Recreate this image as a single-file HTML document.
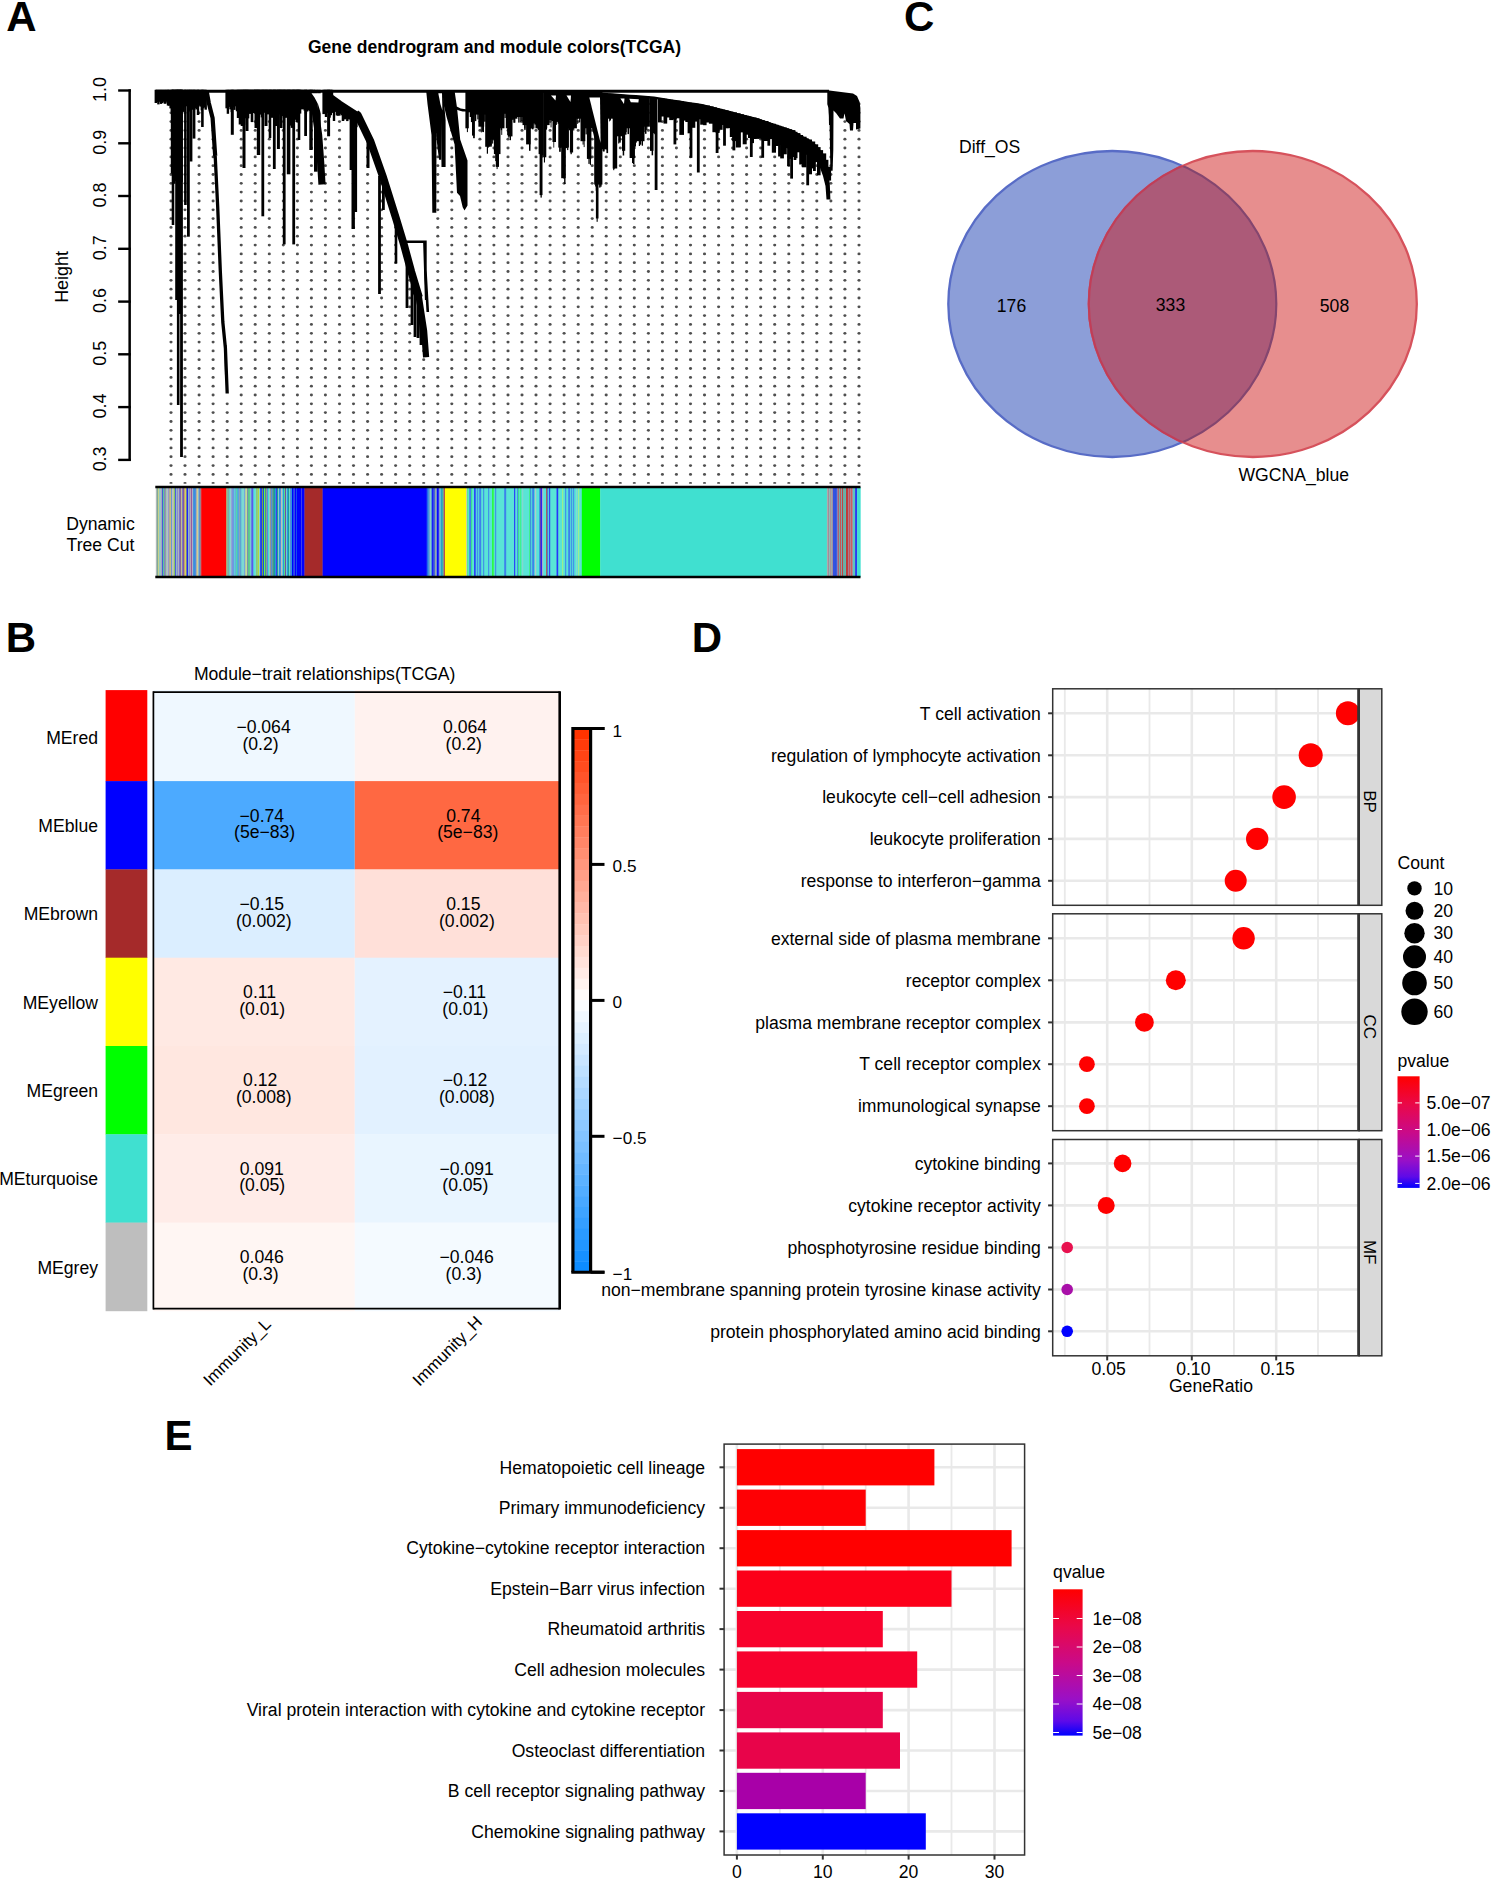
<!DOCTYPE html>
<html><head><meta charset="utf-8"><title>Figure</title>
<style>
html,body{margin:0;padding:0;background:#fff;}
body{width:1491px;height:1879px;overflow:hidden;}
svg{display:block;font-family:"Liberation Sans",Arial,Helvetica,sans-serif;}
</style></head><body>
<svg width="1491" height="1879" viewBox="0 0 1491 1879">
<rect width="1491" height="1879" fill="#fff"/>
<text x="6.3" y="30.7" font-size="42" text-anchor="start" font-weight="bold" fill="#000">A</text>
<text x="494.5" y="53.0" font-size="17.55" text-anchor="middle" font-weight="bold" fill="#000">Gene dendrogram and module colors(TCGA)</text>
<path d="M129.65 89.3V461.05" stroke="#000" stroke-width="2.5" fill="none"/>
<path d="M130.85 90.5H118.15" stroke="#000" stroke-width="2.4"/>
<text x="106.3" y="89.5" font-size="17.9" text-anchor="middle" transform="rotate(-90 106.3 89.5)" fill="#000">1.0</text>
<path d="M130.85 143.3H118.15" stroke="#000" stroke-width="2.4"/>
<text x="106.3" y="142.3" font-size="17.9" text-anchor="middle" transform="rotate(-90 106.3 142.3)" fill="#000">0.9</text>
<path d="M130.85 196.0H118.15" stroke="#000" stroke-width="2.4"/>
<text x="106.3" y="195.0" font-size="17.9" text-anchor="middle" transform="rotate(-90 106.3 195.0)" fill="#000">0.8</text>
<path d="M130.85 248.8H118.15" stroke="#000" stroke-width="2.4"/>
<text x="106.3" y="247.8" font-size="17.9" text-anchor="middle" transform="rotate(-90 106.3 247.8)" fill="#000">0.7</text>
<path d="M130.85 301.6H118.15" stroke="#000" stroke-width="2.4"/>
<text x="106.3" y="300.6" font-size="17.9" text-anchor="middle" transform="rotate(-90 106.3 300.6)" fill="#000">0.6</text>
<path d="M130.85 354.3H118.15" stroke="#000" stroke-width="2.4"/>
<text x="106.3" y="353.3" font-size="17.9" text-anchor="middle" transform="rotate(-90 106.3 353.3)" fill="#000">0.5</text>
<path d="M130.85 407.1H118.15" stroke="#000" stroke-width="2.4"/>
<text x="106.3" y="406.1" font-size="17.9" text-anchor="middle" transform="rotate(-90 106.3 406.1)" fill="#000">0.4</text>
<path d="M130.85 459.9H118.15" stroke="#000" stroke-width="2.4"/>
<text x="106.3" y="458.9" font-size="17.9" text-anchor="middle" transform="rotate(-90 106.3 458.9)" fill="#000">0.3</text>
<text x="67.5" y="277.0" font-size="17.9" text-anchor="middle" transform="rotate(-90 67.5 277.0)" fill="#000">Height</text>
<text x="100.5" y="530.0" font-size="17.6" text-anchor="middle" fill="#000">Dynamic</text>
<text x="100.5" y="551.3" font-size="17.6" text-anchor="middle" fill="#000">Tree Cut</text>
<g fill="#4f4f4f">
<ellipse cx="171.0" cy="482.9" rx="1.6" ry="0.85"/>
<ellipse cx="171.0" cy="474.4" rx="1.55" ry="1.4"/>
<ellipse cx="171.0" cy="465.6" rx="1.55" ry="1.4"/>
<ellipse cx="171.0" cy="456.7" rx="1.55" ry="1.4"/>
<ellipse cx="171.0" cy="447.9" rx="1.55" ry="1.4"/>
<ellipse cx="171.0" cy="439.1" rx="1.55" ry="1.4"/>
<ellipse cx="171.0" cy="430.3" rx="1.55" ry="1.4"/>
<ellipse cx="171.0" cy="421.5" rx="1.55" ry="1.4"/>
<ellipse cx="171.0" cy="412.6" rx="1.55" ry="1.4"/>
<ellipse cx="171.0" cy="403.8" rx="1.55" ry="1.4"/>
<ellipse cx="171.0" cy="395.0" rx="1.55" ry="1.4"/>
<ellipse cx="171.0" cy="386.2" rx="1.55" ry="1.4"/>
<ellipse cx="171.0" cy="377.4" rx="1.55" ry="1.4"/>
<ellipse cx="171.0" cy="368.5" rx="1.55" ry="1.4"/>
<ellipse cx="171.0" cy="359.7" rx="1.55" ry="1.4"/>
<ellipse cx="171.0" cy="350.9" rx="1.55" ry="1.4"/>
<ellipse cx="171.0" cy="342.1" rx="1.55" ry="1.4"/>
<ellipse cx="171.0" cy="333.3" rx="1.55" ry="1.4"/>
<ellipse cx="171.0" cy="324.4" rx="1.55" ry="1.4"/>
<ellipse cx="171.0" cy="315.6" rx="1.55" ry="1.4"/>
<ellipse cx="171.0" cy="306.8" rx="1.55" ry="1.4"/>
<ellipse cx="171.0" cy="298.0" rx="1.55" ry="1.4"/>
<ellipse cx="171.0" cy="289.2" rx="1.55" ry="1.4"/>
<ellipse cx="171.0" cy="280.3" rx="1.55" ry="1.4"/>
<ellipse cx="171.0" cy="271.5" rx="1.55" ry="1.4"/>
<ellipse cx="171.0" cy="262.7" rx="1.55" ry="1.4"/>
<ellipse cx="171.0" cy="253.9" rx="1.55" ry="1.4"/>
<ellipse cx="171.0" cy="245.1" rx="1.55" ry="1.4"/>
<ellipse cx="171.0" cy="236.2" rx="1.55" ry="1.4"/>
<ellipse cx="171.0" cy="227.4" rx="1.55" ry="1.4"/>
<ellipse cx="171.0" cy="218.6" rx="1.55" ry="1.4"/>
<ellipse cx="171.0" cy="209.8" rx="1.55" ry="1.4"/>
<ellipse cx="171.0" cy="201.0" rx="1.55" ry="1.4"/>
<ellipse cx="171.0" cy="192.1" rx="1.55" ry="1.4"/>
<ellipse cx="171.0" cy="183.3" rx="1.55" ry="1.4"/>
<ellipse cx="171.0" cy="174.5" rx="1.55" ry="1.4"/>
<ellipse cx="171.0" cy="165.7" rx="1.55" ry="1.4"/>
<ellipse cx="171.0" cy="156.9" rx="1.55" ry="1.4"/>
<ellipse cx="171.0" cy="148.0" rx="1.55" ry="1.4"/>
<ellipse cx="171.0" cy="139.2" rx="1.55" ry="1.4"/>
<ellipse cx="171.0" cy="130.4" rx="1.55" ry="1.4"/>
<ellipse cx="171.0" cy="121.6" rx="1.55" ry="1.4"/>
<ellipse cx="171.0" cy="112.8" rx="1.55" ry="1.4"/>
<ellipse cx="171.0" cy="103.9" rx="1.55" ry="1.4"/>
<ellipse cx="185.0" cy="482.9" rx="1.6" ry="0.85"/>
<ellipse cx="185.0" cy="474.4" rx="1.55" ry="1.4"/>
<ellipse cx="185.0" cy="465.6" rx="1.55" ry="1.4"/>
<ellipse cx="185.0" cy="456.7" rx="1.55" ry="1.4"/>
<ellipse cx="185.0" cy="447.9" rx="1.55" ry="1.4"/>
<ellipse cx="185.0" cy="439.1" rx="1.55" ry="1.4"/>
<ellipse cx="185.0" cy="430.3" rx="1.55" ry="1.4"/>
<ellipse cx="185.0" cy="421.5" rx="1.55" ry="1.4"/>
<ellipse cx="185.0" cy="412.6" rx="1.55" ry="1.4"/>
<ellipse cx="185.0" cy="403.8" rx="1.55" ry="1.4"/>
<ellipse cx="185.0" cy="395.0" rx="1.55" ry="1.4"/>
<ellipse cx="185.0" cy="386.2" rx="1.55" ry="1.4"/>
<ellipse cx="185.0" cy="377.4" rx="1.55" ry="1.4"/>
<ellipse cx="185.0" cy="368.5" rx="1.55" ry="1.4"/>
<ellipse cx="185.0" cy="359.7" rx="1.55" ry="1.4"/>
<ellipse cx="185.0" cy="350.9" rx="1.55" ry="1.4"/>
<ellipse cx="185.0" cy="342.1" rx="1.55" ry="1.4"/>
<ellipse cx="185.0" cy="333.3" rx="1.55" ry="1.4"/>
<ellipse cx="185.0" cy="324.4" rx="1.55" ry="1.4"/>
<ellipse cx="185.0" cy="315.6" rx="1.55" ry="1.4"/>
<ellipse cx="185.0" cy="306.8" rx="1.55" ry="1.4"/>
<ellipse cx="185.0" cy="298.0" rx="1.55" ry="1.4"/>
<ellipse cx="185.0" cy="289.2" rx="1.55" ry="1.4"/>
<ellipse cx="185.0" cy="280.3" rx="1.55" ry="1.4"/>
<ellipse cx="185.0" cy="271.5" rx="1.55" ry="1.4"/>
<ellipse cx="185.0" cy="262.7" rx="1.55" ry="1.4"/>
<ellipse cx="185.0" cy="253.9" rx="1.55" ry="1.4"/>
<ellipse cx="185.0" cy="245.1" rx="1.55" ry="1.4"/>
<ellipse cx="185.0" cy="236.2" rx="1.55" ry="1.4"/>
<ellipse cx="185.0" cy="227.4" rx="1.55" ry="1.4"/>
<ellipse cx="185.0" cy="218.6" rx="1.55" ry="1.4"/>
<ellipse cx="185.0" cy="209.8" rx="1.55" ry="1.4"/>
<ellipse cx="185.0" cy="201.0" rx="1.55" ry="1.4"/>
<ellipse cx="185.0" cy="192.1" rx="1.55" ry="1.4"/>
<ellipse cx="185.0" cy="183.3" rx="1.55" ry="1.4"/>
<ellipse cx="185.0" cy="174.5" rx="1.55" ry="1.4"/>
<ellipse cx="185.0" cy="165.7" rx="1.55" ry="1.4"/>
<ellipse cx="185.0" cy="156.9" rx="1.55" ry="1.4"/>
<ellipse cx="185.0" cy="148.0" rx="1.55" ry="1.4"/>
<ellipse cx="185.0" cy="139.2" rx="1.55" ry="1.4"/>
<ellipse cx="185.0" cy="130.4" rx="1.55" ry="1.4"/>
<ellipse cx="185.0" cy="121.6" rx="1.55" ry="1.4"/>
<ellipse cx="185.0" cy="112.8" rx="1.55" ry="1.4"/>
<ellipse cx="185.0" cy="103.9" rx="1.55" ry="1.4"/>
<ellipse cx="199.1" cy="482.9" rx="1.6" ry="0.85"/>
<ellipse cx="199.1" cy="474.4" rx="1.55" ry="1.4"/>
<ellipse cx="199.1" cy="465.6" rx="1.55" ry="1.4"/>
<ellipse cx="199.1" cy="456.7" rx="1.55" ry="1.4"/>
<ellipse cx="199.1" cy="447.9" rx="1.55" ry="1.4"/>
<ellipse cx="199.1" cy="439.1" rx="1.55" ry="1.4"/>
<ellipse cx="199.1" cy="430.3" rx="1.55" ry="1.4"/>
<ellipse cx="199.1" cy="421.5" rx="1.55" ry="1.4"/>
<ellipse cx="199.1" cy="412.6" rx="1.55" ry="1.4"/>
<ellipse cx="199.1" cy="403.8" rx="1.55" ry="1.4"/>
<ellipse cx="199.1" cy="395.0" rx="1.55" ry="1.4"/>
<ellipse cx="199.1" cy="386.2" rx="1.55" ry="1.4"/>
<ellipse cx="199.1" cy="377.4" rx="1.55" ry="1.4"/>
<ellipse cx="199.1" cy="368.5" rx="1.55" ry="1.4"/>
<ellipse cx="199.1" cy="359.7" rx="1.55" ry="1.4"/>
<ellipse cx="199.1" cy="350.9" rx="1.55" ry="1.4"/>
<ellipse cx="199.1" cy="342.1" rx="1.55" ry="1.4"/>
<ellipse cx="199.1" cy="333.3" rx="1.55" ry="1.4"/>
<ellipse cx="199.1" cy="324.4" rx="1.55" ry="1.4"/>
<ellipse cx="199.1" cy="315.6" rx="1.55" ry="1.4"/>
<ellipse cx="199.1" cy="306.8" rx="1.55" ry="1.4"/>
<ellipse cx="199.1" cy="298.0" rx="1.55" ry="1.4"/>
<ellipse cx="199.1" cy="289.2" rx="1.55" ry="1.4"/>
<ellipse cx="199.1" cy="280.3" rx="1.55" ry="1.4"/>
<ellipse cx="199.1" cy="271.5" rx="1.55" ry="1.4"/>
<ellipse cx="199.1" cy="262.7" rx="1.55" ry="1.4"/>
<ellipse cx="199.1" cy="253.9" rx="1.55" ry="1.4"/>
<ellipse cx="199.1" cy="245.1" rx="1.55" ry="1.4"/>
<ellipse cx="199.1" cy="236.2" rx="1.55" ry="1.4"/>
<ellipse cx="199.1" cy="227.4" rx="1.55" ry="1.4"/>
<ellipse cx="199.1" cy="218.6" rx="1.55" ry="1.4"/>
<ellipse cx="199.1" cy="209.8" rx="1.55" ry="1.4"/>
<ellipse cx="199.1" cy="201.0" rx="1.55" ry="1.4"/>
<ellipse cx="199.1" cy="192.1" rx="1.55" ry="1.4"/>
<ellipse cx="199.1" cy="183.3" rx="1.55" ry="1.4"/>
<ellipse cx="199.1" cy="174.5" rx="1.55" ry="1.4"/>
<ellipse cx="199.1" cy="165.7" rx="1.55" ry="1.4"/>
<ellipse cx="199.1" cy="156.9" rx="1.55" ry="1.4"/>
<ellipse cx="199.1" cy="148.0" rx="1.55" ry="1.4"/>
<ellipse cx="199.1" cy="139.2" rx="1.55" ry="1.4"/>
<ellipse cx="199.1" cy="130.4" rx="1.55" ry="1.4"/>
<ellipse cx="199.1" cy="121.6" rx="1.55" ry="1.4"/>
<ellipse cx="199.1" cy="112.8" rx="1.55" ry="1.4"/>
<ellipse cx="199.1" cy="103.9" rx="1.55" ry="1.4"/>
<ellipse cx="213.1" cy="482.9" rx="1.6" ry="0.85"/>
<ellipse cx="213.1" cy="474.4" rx="1.55" ry="1.4"/>
<ellipse cx="213.1" cy="465.6" rx="1.55" ry="1.4"/>
<ellipse cx="213.1" cy="456.7" rx="1.55" ry="1.4"/>
<ellipse cx="213.1" cy="447.9" rx="1.55" ry="1.4"/>
<ellipse cx="213.1" cy="439.1" rx="1.55" ry="1.4"/>
<ellipse cx="213.1" cy="430.3" rx="1.55" ry="1.4"/>
<ellipse cx="213.1" cy="421.5" rx="1.55" ry="1.4"/>
<ellipse cx="213.1" cy="412.6" rx="1.55" ry="1.4"/>
<ellipse cx="213.1" cy="403.8" rx="1.55" ry="1.4"/>
<ellipse cx="213.1" cy="395.0" rx="1.55" ry="1.4"/>
<ellipse cx="213.1" cy="386.2" rx="1.55" ry="1.4"/>
<ellipse cx="213.1" cy="377.4" rx="1.55" ry="1.4"/>
<ellipse cx="213.1" cy="368.5" rx="1.55" ry="1.4"/>
<ellipse cx="213.1" cy="359.7" rx="1.55" ry="1.4"/>
<ellipse cx="213.1" cy="350.9" rx="1.55" ry="1.4"/>
<ellipse cx="213.1" cy="342.1" rx="1.55" ry="1.4"/>
<ellipse cx="213.1" cy="333.3" rx="1.55" ry="1.4"/>
<ellipse cx="213.1" cy="324.4" rx="1.55" ry="1.4"/>
<ellipse cx="213.1" cy="315.6" rx="1.55" ry="1.4"/>
<ellipse cx="213.1" cy="306.8" rx="1.55" ry="1.4"/>
<ellipse cx="213.1" cy="298.0" rx="1.55" ry="1.4"/>
<ellipse cx="213.1" cy="289.2" rx="1.55" ry="1.4"/>
<ellipse cx="213.1" cy="280.3" rx="1.55" ry="1.4"/>
<ellipse cx="213.1" cy="271.5" rx="1.55" ry="1.4"/>
<ellipse cx="213.1" cy="262.7" rx="1.55" ry="1.4"/>
<ellipse cx="213.1" cy="253.9" rx="1.55" ry="1.4"/>
<ellipse cx="213.1" cy="245.1" rx="1.55" ry="1.4"/>
<ellipse cx="213.1" cy="236.2" rx="1.55" ry="1.4"/>
<ellipse cx="213.1" cy="227.4" rx="1.55" ry="1.4"/>
<ellipse cx="213.1" cy="218.6" rx="1.55" ry="1.4"/>
<ellipse cx="213.1" cy="209.8" rx="1.55" ry="1.4"/>
<ellipse cx="213.1" cy="201.0" rx="1.55" ry="1.4"/>
<ellipse cx="213.1" cy="192.1" rx="1.55" ry="1.4"/>
<ellipse cx="213.1" cy="183.3" rx="1.55" ry="1.4"/>
<ellipse cx="213.1" cy="174.5" rx="1.55" ry="1.4"/>
<ellipse cx="213.1" cy="165.7" rx="1.55" ry="1.4"/>
<ellipse cx="213.1" cy="156.9" rx="1.55" ry="1.4"/>
<ellipse cx="213.1" cy="148.0" rx="1.55" ry="1.4"/>
<ellipse cx="213.1" cy="139.2" rx="1.55" ry="1.4"/>
<ellipse cx="213.1" cy="130.4" rx="1.55" ry="1.4"/>
<ellipse cx="213.1" cy="121.6" rx="1.55" ry="1.4"/>
<ellipse cx="213.1" cy="112.8" rx="1.55" ry="1.4"/>
<ellipse cx="213.1" cy="103.9" rx="1.55" ry="1.4"/>
<ellipse cx="227.2" cy="482.9" rx="1.6" ry="0.85"/>
<ellipse cx="227.2" cy="474.4" rx="1.55" ry="1.4"/>
<ellipse cx="227.2" cy="465.6" rx="1.55" ry="1.4"/>
<ellipse cx="227.2" cy="456.7" rx="1.55" ry="1.4"/>
<ellipse cx="227.2" cy="447.9" rx="1.55" ry="1.4"/>
<ellipse cx="227.2" cy="439.1" rx="1.55" ry="1.4"/>
<ellipse cx="227.2" cy="430.3" rx="1.55" ry="1.4"/>
<ellipse cx="227.2" cy="421.5" rx="1.55" ry="1.4"/>
<ellipse cx="227.2" cy="412.6" rx="1.55" ry="1.4"/>
<ellipse cx="227.2" cy="403.8" rx="1.55" ry="1.4"/>
<ellipse cx="241.2" cy="482.9" rx="1.6" ry="0.85"/>
<ellipse cx="241.2" cy="474.4" rx="1.55" ry="1.4"/>
<ellipse cx="241.2" cy="465.6" rx="1.55" ry="1.4"/>
<ellipse cx="241.2" cy="456.7" rx="1.55" ry="1.4"/>
<ellipse cx="241.2" cy="447.9" rx="1.55" ry="1.4"/>
<ellipse cx="241.2" cy="439.1" rx="1.55" ry="1.4"/>
<ellipse cx="241.2" cy="430.3" rx="1.55" ry="1.4"/>
<ellipse cx="241.2" cy="421.5" rx="1.55" ry="1.4"/>
<ellipse cx="241.2" cy="412.6" rx="1.55" ry="1.4"/>
<ellipse cx="241.2" cy="403.8" rx="1.55" ry="1.4"/>
<ellipse cx="241.2" cy="395.0" rx="1.55" ry="1.4"/>
<ellipse cx="241.2" cy="386.2" rx="1.55" ry="1.4"/>
<ellipse cx="241.2" cy="377.4" rx="1.55" ry="1.4"/>
<ellipse cx="241.2" cy="368.5" rx="1.55" ry="1.4"/>
<ellipse cx="241.2" cy="359.7" rx="1.55" ry="1.4"/>
<ellipse cx="241.2" cy="350.9" rx="1.55" ry="1.4"/>
<ellipse cx="241.2" cy="342.1" rx="1.55" ry="1.4"/>
<ellipse cx="241.2" cy="333.3" rx="1.55" ry="1.4"/>
<ellipse cx="241.2" cy="324.4" rx="1.55" ry="1.4"/>
<ellipse cx="241.2" cy="315.6" rx="1.55" ry="1.4"/>
<ellipse cx="241.2" cy="306.8" rx="1.55" ry="1.4"/>
<ellipse cx="241.2" cy="298.0" rx="1.55" ry="1.4"/>
<ellipse cx="241.2" cy="289.2" rx="1.55" ry="1.4"/>
<ellipse cx="241.2" cy="280.3" rx="1.55" ry="1.4"/>
<ellipse cx="241.2" cy="271.5" rx="1.55" ry="1.4"/>
<ellipse cx="241.2" cy="262.7" rx="1.55" ry="1.4"/>
<ellipse cx="241.2" cy="253.9" rx="1.55" ry="1.4"/>
<ellipse cx="241.2" cy="245.1" rx="1.55" ry="1.4"/>
<ellipse cx="241.2" cy="236.2" rx="1.55" ry="1.4"/>
<ellipse cx="241.2" cy="227.4" rx="1.55" ry="1.4"/>
<ellipse cx="241.2" cy="218.6" rx="1.55" ry="1.4"/>
<ellipse cx="241.2" cy="209.8" rx="1.55" ry="1.4"/>
<ellipse cx="241.2" cy="201.0" rx="1.55" ry="1.4"/>
<ellipse cx="241.2" cy="192.1" rx="1.55" ry="1.4"/>
<ellipse cx="241.2" cy="183.3" rx="1.55" ry="1.4"/>
<ellipse cx="241.2" cy="174.5" rx="1.55" ry="1.4"/>
<ellipse cx="241.2" cy="165.7" rx="1.55" ry="1.4"/>
<ellipse cx="241.2" cy="156.9" rx="1.55" ry="1.4"/>
<ellipse cx="241.2" cy="148.0" rx="1.55" ry="1.4"/>
<ellipse cx="241.2" cy="139.2" rx="1.55" ry="1.4"/>
<ellipse cx="241.2" cy="130.4" rx="1.55" ry="1.4"/>
<ellipse cx="241.2" cy="121.6" rx="1.55" ry="1.4"/>
<ellipse cx="241.2" cy="112.8" rx="1.55" ry="1.4"/>
<ellipse cx="241.2" cy="103.9" rx="1.55" ry="1.4"/>
<ellipse cx="255.2" cy="482.9" rx="1.6" ry="0.85"/>
<ellipse cx="255.2" cy="474.4" rx="1.55" ry="1.4"/>
<ellipse cx="255.2" cy="465.6" rx="1.55" ry="1.4"/>
<ellipse cx="255.2" cy="456.7" rx="1.55" ry="1.4"/>
<ellipse cx="255.2" cy="447.9" rx="1.55" ry="1.4"/>
<ellipse cx="255.2" cy="439.1" rx="1.55" ry="1.4"/>
<ellipse cx="255.2" cy="430.3" rx="1.55" ry="1.4"/>
<ellipse cx="255.2" cy="421.5" rx="1.55" ry="1.4"/>
<ellipse cx="255.2" cy="412.6" rx="1.55" ry="1.4"/>
<ellipse cx="255.2" cy="403.8" rx="1.55" ry="1.4"/>
<ellipse cx="255.2" cy="395.0" rx="1.55" ry="1.4"/>
<ellipse cx="255.2" cy="386.2" rx="1.55" ry="1.4"/>
<ellipse cx="255.2" cy="377.4" rx="1.55" ry="1.4"/>
<ellipse cx="255.2" cy="368.5" rx="1.55" ry="1.4"/>
<ellipse cx="255.2" cy="359.7" rx="1.55" ry="1.4"/>
<ellipse cx="255.2" cy="350.9" rx="1.55" ry="1.4"/>
<ellipse cx="255.2" cy="342.1" rx="1.55" ry="1.4"/>
<ellipse cx="255.2" cy="333.3" rx="1.55" ry="1.4"/>
<ellipse cx="255.2" cy="324.4" rx="1.55" ry="1.4"/>
<ellipse cx="255.2" cy="315.6" rx="1.55" ry="1.4"/>
<ellipse cx="255.2" cy="306.8" rx="1.55" ry="1.4"/>
<ellipse cx="255.2" cy="298.0" rx="1.55" ry="1.4"/>
<ellipse cx="255.2" cy="289.2" rx="1.55" ry="1.4"/>
<ellipse cx="255.2" cy="280.3" rx="1.55" ry="1.4"/>
<ellipse cx="255.2" cy="271.5" rx="1.55" ry="1.4"/>
<ellipse cx="255.2" cy="262.7" rx="1.55" ry="1.4"/>
<ellipse cx="255.2" cy="253.9" rx="1.55" ry="1.4"/>
<ellipse cx="255.2" cy="245.1" rx="1.55" ry="1.4"/>
<ellipse cx="255.2" cy="236.2" rx="1.55" ry="1.4"/>
<ellipse cx="255.2" cy="227.4" rx="1.55" ry="1.4"/>
<ellipse cx="255.2" cy="218.6" rx="1.55" ry="1.4"/>
<ellipse cx="255.2" cy="209.8" rx="1.55" ry="1.4"/>
<ellipse cx="255.2" cy="201.0" rx="1.55" ry="1.4"/>
<ellipse cx="255.2" cy="192.1" rx="1.55" ry="1.4"/>
<ellipse cx="255.2" cy="183.3" rx="1.55" ry="1.4"/>
<ellipse cx="255.2" cy="174.5" rx="1.55" ry="1.4"/>
<ellipse cx="255.2" cy="165.7" rx="1.55" ry="1.4"/>
<ellipse cx="255.2" cy="156.9" rx="1.55" ry="1.4"/>
<ellipse cx="255.2" cy="148.0" rx="1.55" ry="1.4"/>
<ellipse cx="255.2" cy="139.2" rx="1.55" ry="1.4"/>
<ellipse cx="255.2" cy="130.4" rx="1.55" ry="1.4"/>
<ellipse cx="255.2" cy="121.6" rx="1.55" ry="1.4"/>
<ellipse cx="255.2" cy="112.8" rx="1.55" ry="1.4"/>
<ellipse cx="255.2" cy="103.9" rx="1.55" ry="1.4"/>
<ellipse cx="269.3" cy="482.9" rx="1.6" ry="0.85"/>
<ellipse cx="269.3" cy="474.4" rx="1.55" ry="1.4"/>
<ellipse cx="269.3" cy="465.6" rx="1.55" ry="1.4"/>
<ellipse cx="269.3" cy="456.7" rx="1.55" ry="1.4"/>
<ellipse cx="269.3" cy="447.9" rx="1.55" ry="1.4"/>
<ellipse cx="269.3" cy="439.1" rx="1.55" ry="1.4"/>
<ellipse cx="269.3" cy="430.3" rx="1.55" ry="1.4"/>
<ellipse cx="269.3" cy="421.5" rx="1.55" ry="1.4"/>
<ellipse cx="269.3" cy="412.6" rx="1.55" ry="1.4"/>
<ellipse cx="269.3" cy="403.8" rx="1.55" ry="1.4"/>
<ellipse cx="269.3" cy="395.0" rx="1.55" ry="1.4"/>
<ellipse cx="269.3" cy="386.2" rx="1.55" ry="1.4"/>
<ellipse cx="269.3" cy="377.4" rx="1.55" ry="1.4"/>
<ellipse cx="269.3" cy="368.5" rx="1.55" ry="1.4"/>
<ellipse cx="269.3" cy="359.7" rx="1.55" ry="1.4"/>
<ellipse cx="269.3" cy="350.9" rx="1.55" ry="1.4"/>
<ellipse cx="269.3" cy="342.1" rx="1.55" ry="1.4"/>
<ellipse cx="269.3" cy="333.3" rx="1.55" ry="1.4"/>
<ellipse cx="269.3" cy="324.4" rx="1.55" ry="1.4"/>
<ellipse cx="269.3" cy="315.6" rx="1.55" ry="1.4"/>
<ellipse cx="269.3" cy="306.8" rx="1.55" ry="1.4"/>
<ellipse cx="269.3" cy="298.0" rx="1.55" ry="1.4"/>
<ellipse cx="269.3" cy="289.2" rx="1.55" ry="1.4"/>
<ellipse cx="269.3" cy="280.3" rx="1.55" ry="1.4"/>
<ellipse cx="269.3" cy="271.5" rx="1.55" ry="1.4"/>
<ellipse cx="269.3" cy="262.7" rx="1.55" ry="1.4"/>
<ellipse cx="269.3" cy="253.9" rx="1.55" ry="1.4"/>
<ellipse cx="269.3" cy="245.1" rx="1.55" ry="1.4"/>
<ellipse cx="269.3" cy="236.2" rx="1.55" ry="1.4"/>
<ellipse cx="269.3" cy="227.4" rx="1.55" ry="1.4"/>
<ellipse cx="269.3" cy="218.6" rx="1.55" ry="1.4"/>
<ellipse cx="269.3" cy="209.8" rx="1.55" ry="1.4"/>
<ellipse cx="269.3" cy="201.0" rx="1.55" ry="1.4"/>
<ellipse cx="269.3" cy="192.1" rx="1.55" ry="1.4"/>
<ellipse cx="269.3" cy="183.3" rx="1.55" ry="1.4"/>
<ellipse cx="269.3" cy="174.5" rx="1.55" ry="1.4"/>
<ellipse cx="269.3" cy="165.7" rx="1.55" ry="1.4"/>
<ellipse cx="269.3" cy="156.9" rx="1.55" ry="1.4"/>
<ellipse cx="269.3" cy="148.0" rx="1.55" ry="1.4"/>
<ellipse cx="269.3" cy="139.2" rx="1.55" ry="1.4"/>
<ellipse cx="269.3" cy="130.4" rx="1.55" ry="1.4"/>
<ellipse cx="269.3" cy="121.6" rx="1.55" ry="1.4"/>
<ellipse cx="269.3" cy="112.8" rx="1.55" ry="1.4"/>
<ellipse cx="269.3" cy="103.9" rx="1.55" ry="1.4"/>
<ellipse cx="283.3" cy="482.9" rx="1.6" ry="0.85"/>
<ellipse cx="283.3" cy="474.4" rx="1.55" ry="1.4"/>
<ellipse cx="283.3" cy="465.6" rx="1.55" ry="1.4"/>
<ellipse cx="283.3" cy="456.7" rx="1.55" ry="1.4"/>
<ellipse cx="283.3" cy="447.9" rx="1.55" ry="1.4"/>
<ellipse cx="283.3" cy="439.1" rx="1.55" ry="1.4"/>
<ellipse cx="283.3" cy="430.3" rx="1.55" ry="1.4"/>
<ellipse cx="283.3" cy="421.5" rx="1.55" ry="1.4"/>
<ellipse cx="283.3" cy="412.6" rx="1.55" ry="1.4"/>
<ellipse cx="283.3" cy="403.8" rx="1.55" ry="1.4"/>
<ellipse cx="283.3" cy="395.0" rx="1.55" ry="1.4"/>
<ellipse cx="283.3" cy="386.2" rx="1.55" ry="1.4"/>
<ellipse cx="283.3" cy="377.4" rx="1.55" ry="1.4"/>
<ellipse cx="283.3" cy="368.5" rx="1.55" ry="1.4"/>
<ellipse cx="283.3" cy="359.7" rx="1.55" ry="1.4"/>
<ellipse cx="283.3" cy="350.9" rx="1.55" ry="1.4"/>
<ellipse cx="283.3" cy="342.1" rx="1.55" ry="1.4"/>
<ellipse cx="283.3" cy="333.3" rx="1.55" ry="1.4"/>
<ellipse cx="283.3" cy="324.4" rx="1.55" ry="1.4"/>
<ellipse cx="283.3" cy="315.6" rx="1.55" ry="1.4"/>
<ellipse cx="283.3" cy="306.8" rx="1.55" ry="1.4"/>
<ellipse cx="283.3" cy="298.0" rx="1.55" ry="1.4"/>
<ellipse cx="283.3" cy="289.2" rx="1.55" ry="1.4"/>
<ellipse cx="283.3" cy="280.3" rx="1.55" ry="1.4"/>
<ellipse cx="283.3" cy="271.5" rx="1.55" ry="1.4"/>
<ellipse cx="283.3" cy="262.7" rx="1.55" ry="1.4"/>
<ellipse cx="283.3" cy="253.9" rx="1.55" ry="1.4"/>
<ellipse cx="283.3" cy="245.1" rx="1.55" ry="1.4"/>
<ellipse cx="283.3" cy="236.2" rx="1.55" ry="1.4"/>
<ellipse cx="283.3" cy="227.4" rx="1.55" ry="1.4"/>
<ellipse cx="283.3" cy="218.6" rx="1.55" ry="1.4"/>
<ellipse cx="283.3" cy="209.8" rx="1.55" ry="1.4"/>
<ellipse cx="283.3" cy="201.0" rx="1.55" ry="1.4"/>
<ellipse cx="283.3" cy="192.1" rx="1.55" ry="1.4"/>
<ellipse cx="283.3" cy="183.3" rx="1.55" ry="1.4"/>
<ellipse cx="283.3" cy="174.5" rx="1.55" ry="1.4"/>
<ellipse cx="283.3" cy="165.7" rx="1.55" ry="1.4"/>
<ellipse cx="283.3" cy="156.9" rx="1.55" ry="1.4"/>
<ellipse cx="283.3" cy="148.0" rx="1.55" ry="1.4"/>
<ellipse cx="283.3" cy="139.2" rx="1.55" ry="1.4"/>
<ellipse cx="283.3" cy="130.4" rx="1.55" ry="1.4"/>
<ellipse cx="283.3" cy="121.6" rx="1.55" ry="1.4"/>
<ellipse cx="283.3" cy="112.8" rx="1.55" ry="1.4"/>
<ellipse cx="283.3" cy="103.9" rx="1.55" ry="1.4"/>
<ellipse cx="297.4" cy="482.9" rx="1.6" ry="0.85"/>
<ellipse cx="297.4" cy="474.4" rx="1.55" ry="1.4"/>
<ellipse cx="297.4" cy="465.6" rx="1.55" ry="1.4"/>
<ellipse cx="297.4" cy="456.7" rx="1.55" ry="1.4"/>
<ellipse cx="297.4" cy="447.9" rx="1.55" ry="1.4"/>
<ellipse cx="297.4" cy="439.1" rx="1.55" ry="1.4"/>
<ellipse cx="297.4" cy="430.3" rx="1.55" ry="1.4"/>
<ellipse cx="297.4" cy="421.5" rx="1.55" ry="1.4"/>
<ellipse cx="297.4" cy="412.6" rx="1.55" ry="1.4"/>
<ellipse cx="297.4" cy="403.8" rx="1.55" ry="1.4"/>
<ellipse cx="297.4" cy="395.0" rx="1.55" ry="1.4"/>
<ellipse cx="297.4" cy="386.2" rx="1.55" ry="1.4"/>
<ellipse cx="297.4" cy="377.4" rx="1.55" ry="1.4"/>
<ellipse cx="297.4" cy="368.5" rx="1.55" ry="1.4"/>
<ellipse cx="297.4" cy="359.7" rx="1.55" ry="1.4"/>
<ellipse cx="297.4" cy="350.9" rx="1.55" ry="1.4"/>
<ellipse cx="297.4" cy="342.1" rx="1.55" ry="1.4"/>
<ellipse cx="297.4" cy="333.3" rx="1.55" ry="1.4"/>
<ellipse cx="297.4" cy="324.4" rx="1.55" ry="1.4"/>
<ellipse cx="297.4" cy="315.6" rx="1.55" ry="1.4"/>
<ellipse cx="297.4" cy="306.8" rx="1.55" ry="1.4"/>
<ellipse cx="297.4" cy="298.0" rx="1.55" ry="1.4"/>
<ellipse cx="297.4" cy="289.2" rx="1.55" ry="1.4"/>
<ellipse cx="297.4" cy="280.3" rx="1.55" ry="1.4"/>
<ellipse cx="297.4" cy="271.5" rx="1.55" ry="1.4"/>
<ellipse cx="297.4" cy="262.7" rx="1.55" ry="1.4"/>
<ellipse cx="297.4" cy="253.9" rx="1.55" ry="1.4"/>
<ellipse cx="297.4" cy="245.1" rx="1.55" ry="1.4"/>
<ellipse cx="297.4" cy="236.2" rx="1.55" ry="1.4"/>
<ellipse cx="297.4" cy="227.4" rx="1.55" ry="1.4"/>
<ellipse cx="297.4" cy="218.6" rx="1.55" ry="1.4"/>
<ellipse cx="297.4" cy="209.8" rx="1.55" ry="1.4"/>
<ellipse cx="297.4" cy="201.0" rx="1.55" ry="1.4"/>
<ellipse cx="297.4" cy="192.1" rx="1.55" ry="1.4"/>
<ellipse cx="297.4" cy="183.3" rx="1.55" ry="1.4"/>
<ellipse cx="297.4" cy="174.5" rx="1.55" ry="1.4"/>
<ellipse cx="297.4" cy="165.7" rx="1.55" ry="1.4"/>
<ellipse cx="297.4" cy="156.9" rx="1.55" ry="1.4"/>
<ellipse cx="297.4" cy="148.0" rx="1.55" ry="1.4"/>
<ellipse cx="297.4" cy="139.2" rx="1.55" ry="1.4"/>
<ellipse cx="297.4" cy="130.4" rx="1.55" ry="1.4"/>
<ellipse cx="297.4" cy="121.6" rx="1.55" ry="1.4"/>
<ellipse cx="297.4" cy="112.8" rx="1.55" ry="1.4"/>
<ellipse cx="297.4" cy="103.9" rx="1.55" ry="1.4"/>
<ellipse cx="311.4" cy="482.9" rx="1.6" ry="0.85"/>
<ellipse cx="311.4" cy="474.4" rx="1.55" ry="1.4"/>
<ellipse cx="311.4" cy="465.6" rx="1.55" ry="1.4"/>
<ellipse cx="311.4" cy="456.7" rx="1.55" ry="1.4"/>
<ellipse cx="311.4" cy="447.9" rx="1.55" ry="1.4"/>
<ellipse cx="311.4" cy="439.1" rx="1.55" ry="1.4"/>
<ellipse cx="311.4" cy="430.3" rx="1.55" ry="1.4"/>
<ellipse cx="311.4" cy="421.5" rx="1.55" ry="1.4"/>
<ellipse cx="311.4" cy="412.6" rx="1.55" ry="1.4"/>
<ellipse cx="311.4" cy="403.8" rx="1.55" ry="1.4"/>
<ellipse cx="311.4" cy="395.0" rx="1.55" ry="1.4"/>
<ellipse cx="311.4" cy="386.2" rx="1.55" ry="1.4"/>
<ellipse cx="311.4" cy="377.4" rx="1.55" ry="1.4"/>
<ellipse cx="311.4" cy="368.5" rx="1.55" ry="1.4"/>
<ellipse cx="311.4" cy="359.7" rx="1.55" ry="1.4"/>
<ellipse cx="311.4" cy="350.9" rx="1.55" ry="1.4"/>
<ellipse cx="311.4" cy="342.1" rx="1.55" ry="1.4"/>
<ellipse cx="311.4" cy="333.3" rx="1.55" ry="1.4"/>
<ellipse cx="311.4" cy="324.4" rx="1.55" ry="1.4"/>
<ellipse cx="311.4" cy="315.6" rx="1.55" ry="1.4"/>
<ellipse cx="311.4" cy="306.8" rx="1.55" ry="1.4"/>
<ellipse cx="311.4" cy="298.0" rx="1.55" ry="1.4"/>
<ellipse cx="311.4" cy="289.2" rx="1.55" ry="1.4"/>
<ellipse cx="311.4" cy="280.3" rx="1.55" ry="1.4"/>
<ellipse cx="311.4" cy="271.5" rx="1.55" ry="1.4"/>
<ellipse cx="311.4" cy="262.7" rx="1.55" ry="1.4"/>
<ellipse cx="311.4" cy="253.9" rx="1.55" ry="1.4"/>
<ellipse cx="311.4" cy="245.1" rx="1.55" ry="1.4"/>
<ellipse cx="311.4" cy="236.2" rx="1.55" ry="1.4"/>
<ellipse cx="311.4" cy="227.4" rx="1.55" ry="1.4"/>
<ellipse cx="311.4" cy="218.6" rx="1.55" ry="1.4"/>
<ellipse cx="311.4" cy="209.8" rx="1.55" ry="1.4"/>
<ellipse cx="311.4" cy="201.0" rx="1.55" ry="1.4"/>
<ellipse cx="311.4" cy="192.1" rx="1.55" ry="1.4"/>
<ellipse cx="311.4" cy="183.3" rx="1.55" ry="1.4"/>
<ellipse cx="311.4" cy="174.5" rx="1.55" ry="1.4"/>
<ellipse cx="311.4" cy="165.7" rx="1.55" ry="1.4"/>
<ellipse cx="311.4" cy="156.9" rx="1.55" ry="1.4"/>
<ellipse cx="311.4" cy="148.0" rx="1.55" ry="1.4"/>
<ellipse cx="311.4" cy="139.2" rx="1.55" ry="1.4"/>
<ellipse cx="311.4" cy="130.4" rx="1.55" ry="1.4"/>
<ellipse cx="311.4" cy="121.6" rx="1.55" ry="1.4"/>
<ellipse cx="311.4" cy="112.8" rx="1.55" ry="1.4"/>
<ellipse cx="311.4" cy="103.9" rx="1.55" ry="1.4"/>
<ellipse cx="325.4" cy="482.9" rx="1.6" ry="0.85"/>
<ellipse cx="325.4" cy="474.4" rx="1.55" ry="1.4"/>
<ellipse cx="325.4" cy="465.6" rx="1.55" ry="1.4"/>
<ellipse cx="325.4" cy="456.7" rx="1.55" ry="1.4"/>
<ellipse cx="325.4" cy="447.9" rx="1.55" ry="1.4"/>
<ellipse cx="325.4" cy="439.1" rx="1.55" ry="1.4"/>
<ellipse cx="325.4" cy="430.3" rx="1.55" ry="1.4"/>
<ellipse cx="325.4" cy="421.5" rx="1.55" ry="1.4"/>
<ellipse cx="325.4" cy="412.6" rx="1.55" ry="1.4"/>
<ellipse cx="325.4" cy="403.8" rx="1.55" ry="1.4"/>
<ellipse cx="325.4" cy="395.0" rx="1.55" ry="1.4"/>
<ellipse cx="325.4" cy="386.2" rx="1.55" ry="1.4"/>
<ellipse cx="325.4" cy="377.4" rx="1.55" ry="1.4"/>
<ellipse cx="325.4" cy="368.5" rx="1.55" ry="1.4"/>
<ellipse cx="325.4" cy="359.7" rx="1.55" ry="1.4"/>
<ellipse cx="325.4" cy="350.9" rx="1.55" ry="1.4"/>
<ellipse cx="325.4" cy="342.1" rx="1.55" ry="1.4"/>
<ellipse cx="325.4" cy="333.3" rx="1.55" ry="1.4"/>
<ellipse cx="325.4" cy="324.4" rx="1.55" ry="1.4"/>
<ellipse cx="325.4" cy="315.6" rx="1.55" ry="1.4"/>
<ellipse cx="325.4" cy="306.8" rx="1.55" ry="1.4"/>
<ellipse cx="325.4" cy="298.0" rx="1.55" ry="1.4"/>
<ellipse cx="325.4" cy="289.2" rx="1.55" ry="1.4"/>
<ellipse cx="325.4" cy="280.3" rx="1.55" ry="1.4"/>
<ellipse cx="325.4" cy="271.5" rx="1.55" ry="1.4"/>
<ellipse cx="325.4" cy="262.7" rx="1.55" ry="1.4"/>
<ellipse cx="325.4" cy="253.9" rx="1.55" ry="1.4"/>
<ellipse cx="325.4" cy="245.1" rx="1.55" ry="1.4"/>
<ellipse cx="325.4" cy="236.2" rx="1.55" ry="1.4"/>
<ellipse cx="325.4" cy="227.4" rx="1.55" ry="1.4"/>
<ellipse cx="325.4" cy="218.6" rx="1.55" ry="1.4"/>
<ellipse cx="325.4" cy="209.8" rx="1.55" ry="1.4"/>
<ellipse cx="325.4" cy="201.0" rx="1.55" ry="1.4"/>
<ellipse cx="325.4" cy="192.1" rx="1.55" ry="1.4"/>
<ellipse cx="325.4" cy="183.3" rx="1.55" ry="1.4"/>
<ellipse cx="325.4" cy="174.5" rx="1.55" ry="1.4"/>
<ellipse cx="325.4" cy="165.7" rx="1.55" ry="1.4"/>
<ellipse cx="325.4" cy="156.9" rx="1.55" ry="1.4"/>
<ellipse cx="325.4" cy="148.0" rx="1.55" ry="1.4"/>
<ellipse cx="325.4" cy="139.2" rx="1.55" ry="1.4"/>
<ellipse cx="325.4" cy="130.4" rx="1.55" ry="1.4"/>
<ellipse cx="325.4" cy="121.6" rx="1.55" ry="1.4"/>
<ellipse cx="325.4" cy="112.8" rx="1.55" ry="1.4"/>
<ellipse cx="325.4" cy="103.9" rx="1.55" ry="1.4"/>
<ellipse cx="339.5" cy="482.9" rx="1.6" ry="0.85"/>
<ellipse cx="339.5" cy="474.4" rx="1.55" ry="1.4"/>
<ellipse cx="339.5" cy="465.6" rx="1.55" ry="1.4"/>
<ellipse cx="339.5" cy="456.7" rx="1.55" ry="1.4"/>
<ellipse cx="339.5" cy="447.9" rx="1.55" ry="1.4"/>
<ellipse cx="339.5" cy="439.1" rx="1.55" ry="1.4"/>
<ellipse cx="339.5" cy="430.3" rx="1.55" ry="1.4"/>
<ellipse cx="339.5" cy="421.5" rx="1.55" ry="1.4"/>
<ellipse cx="339.5" cy="412.6" rx="1.55" ry="1.4"/>
<ellipse cx="339.5" cy="403.8" rx="1.55" ry="1.4"/>
<ellipse cx="339.5" cy="395.0" rx="1.55" ry="1.4"/>
<ellipse cx="339.5" cy="386.2" rx="1.55" ry="1.4"/>
<ellipse cx="339.5" cy="377.4" rx="1.55" ry="1.4"/>
<ellipse cx="339.5" cy="368.5" rx="1.55" ry="1.4"/>
<ellipse cx="339.5" cy="359.7" rx="1.55" ry="1.4"/>
<ellipse cx="339.5" cy="350.9" rx="1.55" ry="1.4"/>
<ellipse cx="339.5" cy="342.1" rx="1.55" ry="1.4"/>
<ellipse cx="339.5" cy="333.3" rx="1.55" ry="1.4"/>
<ellipse cx="339.5" cy="324.4" rx="1.55" ry="1.4"/>
<ellipse cx="339.5" cy="315.6" rx="1.55" ry="1.4"/>
<ellipse cx="339.5" cy="306.8" rx="1.55" ry="1.4"/>
<ellipse cx="339.5" cy="298.0" rx="1.55" ry="1.4"/>
<ellipse cx="339.5" cy="289.2" rx="1.55" ry="1.4"/>
<ellipse cx="339.5" cy="280.3" rx="1.55" ry="1.4"/>
<ellipse cx="339.5" cy="271.5" rx="1.55" ry="1.4"/>
<ellipse cx="339.5" cy="262.7" rx="1.55" ry="1.4"/>
<ellipse cx="339.5" cy="253.9" rx="1.55" ry="1.4"/>
<ellipse cx="339.5" cy="245.1" rx="1.55" ry="1.4"/>
<ellipse cx="339.5" cy="236.2" rx="1.55" ry="1.4"/>
<ellipse cx="339.5" cy="227.4" rx="1.55" ry="1.4"/>
<ellipse cx="339.5" cy="218.6" rx="1.55" ry="1.4"/>
<ellipse cx="339.5" cy="209.8" rx="1.55" ry="1.4"/>
<ellipse cx="339.5" cy="201.0" rx="1.55" ry="1.4"/>
<ellipse cx="339.5" cy="192.1" rx="1.55" ry="1.4"/>
<ellipse cx="339.5" cy="183.3" rx="1.55" ry="1.4"/>
<ellipse cx="339.5" cy="174.5" rx="1.55" ry="1.4"/>
<ellipse cx="339.5" cy="165.7" rx="1.55" ry="1.4"/>
<ellipse cx="339.5" cy="156.9" rx="1.55" ry="1.4"/>
<ellipse cx="339.5" cy="148.0" rx="1.55" ry="1.4"/>
<ellipse cx="339.5" cy="139.2" rx="1.55" ry="1.4"/>
<ellipse cx="339.5" cy="130.4" rx="1.55" ry="1.4"/>
<ellipse cx="339.5" cy="121.6" rx="1.55" ry="1.4"/>
<ellipse cx="339.5" cy="112.8" rx="1.55" ry="1.4"/>
<ellipse cx="339.5" cy="103.9" rx="1.55" ry="1.4"/>
<ellipse cx="353.5" cy="482.9" rx="1.6" ry="0.85"/>
<ellipse cx="353.5" cy="474.4" rx="1.55" ry="1.4"/>
<ellipse cx="353.5" cy="465.6" rx="1.55" ry="1.4"/>
<ellipse cx="353.5" cy="456.7" rx="1.55" ry="1.4"/>
<ellipse cx="353.5" cy="447.9" rx="1.55" ry="1.4"/>
<ellipse cx="353.5" cy="439.1" rx="1.55" ry="1.4"/>
<ellipse cx="353.5" cy="430.3" rx="1.55" ry="1.4"/>
<ellipse cx="353.5" cy="421.5" rx="1.55" ry="1.4"/>
<ellipse cx="353.5" cy="412.6" rx="1.55" ry="1.4"/>
<ellipse cx="353.5" cy="403.8" rx="1.55" ry="1.4"/>
<ellipse cx="353.5" cy="395.0" rx="1.55" ry="1.4"/>
<ellipse cx="353.5" cy="386.2" rx="1.55" ry="1.4"/>
<ellipse cx="353.5" cy="377.4" rx="1.55" ry="1.4"/>
<ellipse cx="353.5" cy="368.5" rx="1.55" ry="1.4"/>
<ellipse cx="353.5" cy="359.7" rx="1.55" ry="1.4"/>
<ellipse cx="353.5" cy="350.9" rx="1.55" ry="1.4"/>
<ellipse cx="353.5" cy="342.1" rx="1.55" ry="1.4"/>
<ellipse cx="353.5" cy="333.3" rx="1.55" ry="1.4"/>
<ellipse cx="353.5" cy="324.4" rx="1.55" ry="1.4"/>
<ellipse cx="353.5" cy="315.6" rx="1.55" ry="1.4"/>
<ellipse cx="353.5" cy="306.8" rx="1.55" ry="1.4"/>
<ellipse cx="353.5" cy="298.0" rx="1.55" ry="1.4"/>
<ellipse cx="353.5" cy="289.2" rx="1.55" ry="1.4"/>
<ellipse cx="353.5" cy="280.3" rx="1.55" ry="1.4"/>
<ellipse cx="353.5" cy="271.5" rx="1.55" ry="1.4"/>
<ellipse cx="353.5" cy="262.7" rx="1.55" ry="1.4"/>
<ellipse cx="353.5" cy="253.9" rx="1.55" ry="1.4"/>
<ellipse cx="353.5" cy="245.1" rx="1.55" ry="1.4"/>
<ellipse cx="353.5" cy="236.2" rx="1.55" ry="1.4"/>
<ellipse cx="353.5" cy="227.4" rx="1.55" ry="1.4"/>
<ellipse cx="353.5" cy="218.6" rx="1.55" ry="1.4"/>
<ellipse cx="353.5" cy="209.8" rx="1.55" ry="1.4"/>
<ellipse cx="353.5" cy="201.0" rx="1.55" ry="1.4"/>
<ellipse cx="353.5" cy="192.1" rx="1.55" ry="1.4"/>
<ellipse cx="353.5" cy="183.3" rx="1.55" ry="1.4"/>
<ellipse cx="353.5" cy="174.5" rx="1.55" ry="1.4"/>
<ellipse cx="353.5" cy="165.7" rx="1.55" ry="1.4"/>
<ellipse cx="353.5" cy="156.9" rx="1.55" ry="1.4"/>
<ellipse cx="353.5" cy="148.0" rx="1.55" ry="1.4"/>
<ellipse cx="353.5" cy="139.2" rx="1.55" ry="1.4"/>
<ellipse cx="353.5" cy="130.4" rx="1.55" ry="1.4"/>
<ellipse cx="353.5" cy="121.6" rx="1.55" ry="1.4"/>
<ellipse cx="353.5" cy="112.8" rx="1.55" ry="1.4"/>
<ellipse cx="353.5" cy="103.9" rx="1.55" ry="1.4"/>
<ellipse cx="367.6" cy="482.9" rx="1.6" ry="0.85"/>
<ellipse cx="367.6" cy="474.4" rx="1.55" ry="1.4"/>
<ellipse cx="367.6" cy="465.6" rx="1.55" ry="1.4"/>
<ellipse cx="367.6" cy="456.7" rx="1.55" ry="1.4"/>
<ellipse cx="367.6" cy="447.9" rx="1.55" ry="1.4"/>
<ellipse cx="367.6" cy="439.1" rx="1.55" ry="1.4"/>
<ellipse cx="367.6" cy="430.3" rx="1.55" ry="1.4"/>
<ellipse cx="367.6" cy="421.5" rx="1.55" ry="1.4"/>
<ellipse cx="367.6" cy="412.6" rx="1.55" ry="1.4"/>
<ellipse cx="367.6" cy="403.8" rx="1.55" ry="1.4"/>
<ellipse cx="367.6" cy="395.0" rx="1.55" ry="1.4"/>
<ellipse cx="367.6" cy="386.2" rx="1.55" ry="1.4"/>
<ellipse cx="367.6" cy="377.4" rx="1.55" ry="1.4"/>
<ellipse cx="367.6" cy="368.5" rx="1.55" ry="1.4"/>
<ellipse cx="367.6" cy="359.7" rx="1.55" ry="1.4"/>
<ellipse cx="367.6" cy="350.9" rx="1.55" ry="1.4"/>
<ellipse cx="367.6" cy="342.1" rx="1.55" ry="1.4"/>
<ellipse cx="367.6" cy="333.3" rx="1.55" ry="1.4"/>
<ellipse cx="367.6" cy="324.4" rx="1.55" ry="1.4"/>
<ellipse cx="367.6" cy="315.6" rx="1.55" ry="1.4"/>
<ellipse cx="367.6" cy="306.8" rx="1.55" ry="1.4"/>
<ellipse cx="367.6" cy="298.0" rx="1.55" ry="1.4"/>
<ellipse cx="367.6" cy="289.2" rx="1.55" ry="1.4"/>
<ellipse cx="367.6" cy="280.3" rx="1.55" ry="1.4"/>
<ellipse cx="367.6" cy="271.5" rx="1.55" ry="1.4"/>
<ellipse cx="367.6" cy="262.7" rx="1.55" ry="1.4"/>
<ellipse cx="367.6" cy="253.9" rx="1.55" ry="1.4"/>
<ellipse cx="367.6" cy="245.1" rx="1.55" ry="1.4"/>
<ellipse cx="367.6" cy="236.2" rx="1.55" ry="1.4"/>
<ellipse cx="367.6" cy="227.4" rx="1.55" ry="1.4"/>
<ellipse cx="367.6" cy="218.6" rx="1.55" ry="1.4"/>
<ellipse cx="367.6" cy="209.8" rx="1.55" ry="1.4"/>
<ellipse cx="367.6" cy="201.0" rx="1.55" ry="1.4"/>
<ellipse cx="367.6" cy="192.1" rx="1.55" ry="1.4"/>
<ellipse cx="367.6" cy="183.3" rx="1.55" ry="1.4"/>
<ellipse cx="367.6" cy="174.5" rx="1.55" ry="1.4"/>
<ellipse cx="367.6" cy="165.7" rx="1.55" ry="1.4"/>
<ellipse cx="367.6" cy="156.9" rx="1.55" ry="1.4"/>
<ellipse cx="367.6" cy="148.0" rx="1.55" ry="1.4"/>
<ellipse cx="367.6" cy="139.2" rx="1.55" ry="1.4"/>
<ellipse cx="367.6" cy="130.4" rx="1.55" ry="1.4"/>
<ellipse cx="367.6" cy="121.6" rx="1.55" ry="1.4"/>
<ellipse cx="367.6" cy="112.8" rx="1.55" ry="1.4"/>
<ellipse cx="367.6" cy="103.9" rx="1.55" ry="1.4"/>
<ellipse cx="381.6" cy="482.9" rx="1.6" ry="0.85"/>
<ellipse cx="381.6" cy="474.4" rx="1.55" ry="1.4"/>
<ellipse cx="381.6" cy="465.6" rx="1.55" ry="1.4"/>
<ellipse cx="381.6" cy="456.7" rx="1.55" ry="1.4"/>
<ellipse cx="381.6" cy="447.9" rx="1.55" ry="1.4"/>
<ellipse cx="381.6" cy="439.1" rx="1.55" ry="1.4"/>
<ellipse cx="381.6" cy="430.3" rx="1.55" ry="1.4"/>
<ellipse cx="381.6" cy="421.5" rx="1.55" ry="1.4"/>
<ellipse cx="381.6" cy="412.6" rx="1.55" ry="1.4"/>
<ellipse cx="381.6" cy="403.8" rx="1.55" ry="1.4"/>
<ellipse cx="381.6" cy="395.0" rx="1.55" ry="1.4"/>
<ellipse cx="381.6" cy="386.2" rx="1.55" ry="1.4"/>
<ellipse cx="381.6" cy="377.4" rx="1.55" ry="1.4"/>
<ellipse cx="381.6" cy="368.5" rx="1.55" ry="1.4"/>
<ellipse cx="381.6" cy="359.7" rx="1.55" ry="1.4"/>
<ellipse cx="381.6" cy="350.9" rx="1.55" ry="1.4"/>
<ellipse cx="381.6" cy="342.1" rx="1.55" ry="1.4"/>
<ellipse cx="381.6" cy="333.3" rx="1.55" ry="1.4"/>
<ellipse cx="381.6" cy="324.4" rx="1.55" ry="1.4"/>
<ellipse cx="381.6" cy="315.6" rx="1.55" ry="1.4"/>
<ellipse cx="381.6" cy="306.8" rx="1.55" ry="1.4"/>
<ellipse cx="381.6" cy="298.0" rx="1.55" ry="1.4"/>
<ellipse cx="381.6" cy="289.2" rx="1.55" ry="1.4"/>
<ellipse cx="381.6" cy="280.3" rx="1.55" ry="1.4"/>
<ellipse cx="381.6" cy="271.5" rx="1.55" ry="1.4"/>
<ellipse cx="381.6" cy="262.7" rx="1.55" ry="1.4"/>
<ellipse cx="381.6" cy="253.9" rx="1.55" ry="1.4"/>
<ellipse cx="381.6" cy="245.1" rx="1.55" ry="1.4"/>
<ellipse cx="381.6" cy="236.2" rx="1.55" ry="1.4"/>
<ellipse cx="381.6" cy="227.4" rx="1.55" ry="1.4"/>
<ellipse cx="381.6" cy="218.6" rx="1.55" ry="1.4"/>
<ellipse cx="381.6" cy="209.8" rx="1.55" ry="1.4"/>
<ellipse cx="381.6" cy="201.0" rx="1.55" ry="1.4"/>
<ellipse cx="381.6" cy="192.1" rx="1.55" ry="1.4"/>
<ellipse cx="381.6" cy="183.3" rx="1.55" ry="1.4"/>
<ellipse cx="381.6" cy="174.5" rx="1.55" ry="1.4"/>
<ellipse cx="381.6" cy="165.7" rx="1.55" ry="1.4"/>
<ellipse cx="381.6" cy="156.9" rx="1.55" ry="1.4"/>
<ellipse cx="381.6" cy="148.0" rx="1.55" ry="1.4"/>
<ellipse cx="381.6" cy="139.2" rx="1.55" ry="1.4"/>
<ellipse cx="381.6" cy="130.4" rx="1.55" ry="1.4"/>
<ellipse cx="381.6" cy="121.6" rx="1.55" ry="1.4"/>
<ellipse cx="381.6" cy="112.8" rx="1.55" ry="1.4"/>
<ellipse cx="381.6" cy="103.9" rx="1.55" ry="1.4"/>
<ellipse cx="395.6" cy="482.9" rx="1.6" ry="0.85"/>
<ellipse cx="395.6" cy="474.4" rx="1.55" ry="1.4"/>
<ellipse cx="395.6" cy="465.6" rx="1.55" ry="1.4"/>
<ellipse cx="395.6" cy="456.7" rx="1.55" ry="1.4"/>
<ellipse cx="395.6" cy="447.9" rx="1.55" ry="1.4"/>
<ellipse cx="395.6" cy="439.1" rx="1.55" ry="1.4"/>
<ellipse cx="395.6" cy="430.3" rx="1.55" ry="1.4"/>
<ellipse cx="395.6" cy="421.5" rx="1.55" ry="1.4"/>
<ellipse cx="395.6" cy="412.6" rx="1.55" ry="1.4"/>
<ellipse cx="395.6" cy="403.8" rx="1.55" ry="1.4"/>
<ellipse cx="395.6" cy="395.0" rx="1.55" ry="1.4"/>
<ellipse cx="395.6" cy="386.2" rx="1.55" ry="1.4"/>
<ellipse cx="395.6" cy="377.4" rx="1.55" ry="1.4"/>
<ellipse cx="395.6" cy="368.5" rx="1.55" ry="1.4"/>
<ellipse cx="395.6" cy="359.7" rx="1.55" ry="1.4"/>
<ellipse cx="395.6" cy="350.9" rx="1.55" ry="1.4"/>
<ellipse cx="395.6" cy="342.1" rx="1.55" ry="1.4"/>
<ellipse cx="395.6" cy="333.3" rx="1.55" ry="1.4"/>
<ellipse cx="395.6" cy="324.4" rx="1.55" ry="1.4"/>
<ellipse cx="395.6" cy="315.6" rx="1.55" ry="1.4"/>
<ellipse cx="395.6" cy="306.8" rx="1.55" ry="1.4"/>
<ellipse cx="395.6" cy="298.0" rx="1.55" ry="1.4"/>
<ellipse cx="395.6" cy="289.2" rx="1.55" ry="1.4"/>
<ellipse cx="395.6" cy="280.3" rx="1.55" ry="1.4"/>
<ellipse cx="395.6" cy="271.5" rx="1.55" ry="1.4"/>
<ellipse cx="395.6" cy="262.7" rx="1.55" ry="1.4"/>
<ellipse cx="395.6" cy="253.9" rx="1.55" ry="1.4"/>
<ellipse cx="395.6" cy="245.1" rx="1.55" ry="1.4"/>
<ellipse cx="395.6" cy="236.2" rx="1.55" ry="1.4"/>
<ellipse cx="395.6" cy="227.4" rx="1.55" ry="1.4"/>
<ellipse cx="395.6" cy="218.6" rx="1.55" ry="1.4"/>
<ellipse cx="395.6" cy="209.8" rx="1.55" ry="1.4"/>
<ellipse cx="395.6" cy="201.0" rx="1.55" ry="1.4"/>
<ellipse cx="395.6" cy="192.1" rx="1.55" ry="1.4"/>
<ellipse cx="395.6" cy="183.3" rx="1.55" ry="1.4"/>
<ellipse cx="395.6" cy="174.5" rx="1.55" ry="1.4"/>
<ellipse cx="395.6" cy="165.7" rx="1.55" ry="1.4"/>
<ellipse cx="395.6" cy="156.9" rx="1.55" ry="1.4"/>
<ellipse cx="395.6" cy="148.0" rx="1.55" ry="1.4"/>
<ellipse cx="395.6" cy="139.2" rx="1.55" ry="1.4"/>
<ellipse cx="395.6" cy="130.4" rx="1.55" ry="1.4"/>
<ellipse cx="395.6" cy="121.6" rx="1.55" ry="1.4"/>
<ellipse cx="395.6" cy="112.8" rx="1.55" ry="1.4"/>
<ellipse cx="395.6" cy="103.9" rx="1.55" ry="1.4"/>
<ellipse cx="409.7" cy="482.9" rx="1.6" ry="0.85"/>
<ellipse cx="409.7" cy="474.4" rx="1.55" ry="1.4"/>
<ellipse cx="409.7" cy="465.6" rx="1.55" ry="1.4"/>
<ellipse cx="409.7" cy="456.7" rx="1.55" ry="1.4"/>
<ellipse cx="409.7" cy="447.9" rx="1.55" ry="1.4"/>
<ellipse cx="409.7" cy="439.1" rx="1.55" ry="1.4"/>
<ellipse cx="409.7" cy="430.3" rx="1.55" ry="1.4"/>
<ellipse cx="409.7" cy="421.5" rx="1.55" ry="1.4"/>
<ellipse cx="409.7" cy="412.6" rx="1.55" ry="1.4"/>
<ellipse cx="409.7" cy="403.8" rx="1.55" ry="1.4"/>
<ellipse cx="409.7" cy="395.0" rx="1.55" ry="1.4"/>
<ellipse cx="409.7" cy="386.2" rx="1.55" ry="1.4"/>
<ellipse cx="409.7" cy="377.4" rx="1.55" ry="1.4"/>
<ellipse cx="409.7" cy="368.5" rx="1.55" ry="1.4"/>
<ellipse cx="409.7" cy="359.7" rx="1.55" ry="1.4"/>
<ellipse cx="409.7" cy="350.9" rx="1.55" ry="1.4"/>
<ellipse cx="409.7" cy="342.1" rx="1.55" ry="1.4"/>
<ellipse cx="409.7" cy="333.3" rx="1.55" ry="1.4"/>
<ellipse cx="409.7" cy="324.4" rx="1.55" ry="1.4"/>
<ellipse cx="409.7" cy="315.6" rx="1.55" ry="1.4"/>
<ellipse cx="409.7" cy="306.8" rx="1.55" ry="1.4"/>
<ellipse cx="409.7" cy="298.0" rx="1.55" ry="1.4"/>
<ellipse cx="409.7" cy="289.2" rx="1.55" ry="1.4"/>
<ellipse cx="409.7" cy="280.3" rx="1.55" ry="1.4"/>
<ellipse cx="409.7" cy="271.5" rx="1.55" ry="1.4"/>
<ellipse cx="409.7" cy="262.7" rx="1.55" ry="1.4"/>
<ellipse cx="409.7" cy="253.9" rx="1.55" ry="1.4"/>
<ellipse cx="409.7" cy="245.1" rx="1.55" ry="1.4"/>
<ellipse cx="409.7" cy="236.2" rx="1.55" ry="1.4"/>
<ellipse cx="409.7" cy="227.4" rx="1.55" ry="1.4"/>
<ellipse cx="409.7" cy="218.6" rx="1.55" ry="1.4"/>
<ellipse cx="409.7" cy="209.8" rx="1.55" ry="1.4"/>
<ellipse cx="409.7" cy="201.0" rx="1.55" ry="1.4"/>
<ellipse cx="409.7" cy="192.1" rx="1.55" ry="1.4"/>
<ellipse cx="409.7" cy="183.3" rx="1.55" ry="1.4"/>
<ellipse cx="409.7" cy="174.5" rx="1.55" ry="1.4"/>
<ellipse cx="409.7" cy="165.7" rx="1.55" ry="1.4"/>
<ellipse cx="409.7" cy="156.9" rx="1.55" ry="1.4"/>
<ellipse cx="409.7" cy="148.0" rx="1.55" ry="1.4"/>
<ellipse cx="409.7" cy="139.2" rx="1.55" ry="1.4"/>
<ellipse cx="409.7" cy="130.4" rx="1.55" ry="1.4"/>
<ellipse cx="409.7" cy="121.6" rx="1.55" ry="1.4"/>
<ellipse cx="409.7" cy="112.8" rx="1.55" ry="1.4"/>
<ellipse cx="409.7" cy="103.9" rx="1.55" ry="1.4"/>
<ellipse cx="423.7" cy="482.9" rx="1.6" ry="0.85"/>
<ellipse cx="423.7" cy="474.4" rx="1.55" ry="1.4"/>
<ellipse cx="423.7" cy="465.6" rx="1.55" ry="1.4"/>
<ellipse cx="423.7" cy="456.7" rx="1.55" ry="1.4"/>
<ellipse cx="423.7" cy="447.9" rx="1.55" ry="1.4"/>
<ellipse cx="423.7" cy="439.1" rx="1.55" ry="1.4"/>
<ellipse cx="423.7" cy="430.3" rx="1.55" ry="1.4"/>
<ellipse cx="423.7" cy="421.5" rx="1.55" ry="1.4"/>
<ellipse cx="423.7" cy="412.6" rx="1.55" ry="1.4"/>
<ellipse cx="423.7" cy="403.8" rx="1.55" ry="1.4"/>
<ellipse cx="423.7" cy="395.0" rx="1.55" ry="1.4"/>
<ellipse cx="423.7" cy="386.2" rx="1.55" ry="1.4"/>
<ellipse cx="423.7" cy="377.4" rx="1.55" ry="1.4"/>
<ellipse cx="423.7" cy="368.5" rx="1.55" ry="1.4"/>
<ellipse cx="423.7" cy="359.7" rx="1.55" ry="1.4"/>
<ellipse cx="423.7" cy="350.9" rx="1.55" ry="1.4"/>
<ellipse cx="423.7" cy="342.1" rx="1.55" ry="1.4"/>
<ellipse cx="423.7" cy="333.3" rx="1.55" ry="1.4"/>
<ellipse cx="423.7" cy="324.4" rx="1.55" ry="1.4"/>
<ellipse cx="423.7" cy="315.6" rx="1.55" ry="1.4"/>
<ellipse cx="423.7" cy="306.8" rx="1.55" ry="1.4"/>
<ellipse cx="423.7" cy="298.0" rx="1.55" ry="1.4"/>
<ellipse cx="423.7" cy="289.2" rx="1.55" ry="1.4"/>
<ellipse cx="423.7" cy="280.3" rx="1.55" ry="1.4"/>
<ellipse cx="423.7" cy="271.5" rx="1.55" ry="1.4"/>
<ellipse cx="423.7" cy="262.7" rx="1.55" ry="1.4"/>
<ellipse cx="423.7" cy="253.9" rx="1.55" ry="1.4"/>
<ellipse cx="423.7" cy="245.1" rx="1.55" ry="1.4"/>
<ellipse cx="423.7" cy="236.2" rx="1.55" ry="1.4"/>
<ellipse cx="423.7" cy="227.4" rx="1.55" ry="1.4"/>
<ellipse cx="423.7" cy="218.6" rx="1.55" ry="1.4"/>
<ellipse cx="423.7" cy="209.8" rx="1.55" ry="1.4"/>
<ellipse cx="423.7" cy="201.0" rx="1.55" ry="1.4"/>
<ellipse cx="423.7" cy="192.1" rx="1.55" ry="1.4"/>
<ellipse cx="423.7" cy="183.3" rx="1.55" ry="1.4"/>
<ellipse cx="423.7" cy="174.5" rx="1.55" ry="1.4"/>
<ellipse cx="423.7" cy="165.7" rx="1.55" ry="1.4"/>
<ellipse cx="423.7" cy="156.9" rx="1.55" ry="1.4"/>
<ellipse cx="423.7" cy="148.0" rx="1.55" ry="1.4"/>
<ellipse cx="423.7" cy="139.2" rx="1.55" ry="1.4"/>
<ellipse cx="423.7" cy="130.4" rx="1.55" ry="1.4"/>
<ellipse cx="423.7" cy="121.6" rx="1.55" ry="1.4"/>
<ellipse cx="423.7" cy="112.8" rx="1.55" ry="1.4"/>
<ellipse cx="423.7" cy="103.9" rx="1.55" ry="1.4"/>
<ellipse cx="437.8" cy="482.9" rx="1.6" ry="0.85"/>
<ellipse cx="437.8" cy="474.4" rx="1.55" ry="1.4"/>
<ellipse cx="437.8" cy="465.6" rx="1.55" ry="1.4"/>
<ellipse cx="437.8" cy="456.7" rx="1.55" ry="1.4"/>
<ellipse cx="437.8" cy="447.9" rx="1.55" ry="1.4"/>
<ellipse cx="437.8" cy="439.1" rx="1.55" ry="1.4"/>
<ellipse cx="437.8" cy="430.3" rx="1.55" ry="1.4"/>
<ellipse cx="437.8" cy="421.5" rx="1.55" ry="1.4"/>
<ellipse cx="437.8" cy="412.6" rx="1.55" ry="1.4"/>
<ellipse cx="437.8" cy="403.8" rx="1.55" ry="1.4"/>
<ellipse cx="437.8" cy="395.0" rx="1.55" ry="1.4"/>
<ellipse cx="437.8" cy="386.2" rx="1.55" ry="1.4"/>
<ellipse cx="437.8" cy="377.4" rx="1.55" ry="1.4"/>
<ellipse cx="437.8" cy="368.5" rx="1.55" ry="1.4"/>
<ellipse cx="437.8" cy="359.7" rx="1.55" ry="1.4"/>
<ellipse cx="437.8" cy="350.9" rx="1.55" ry="1.4"/>
<ellipse cx="437.8" cy="342.1" rx="1.55" ry="1.4"/>
<ellipse cx="437.8" cy="333.3" rx="1.55" ry="1.4"/>
<ellipse cx="437.8" cy="324.4" rx="1.55" ry="1.4"/>
<ellipse cx="437.8" cy="315.6" rx="1.55" ry="1.4"/>
<ellipse cx="437.8" cy="306.8" rx="1.55" ry="1.4"/>
<ellipse cx="437.8" cy="298.0" rx="1.55" ry="1.4"/>
<ellipse cx="437.8" cy="289.2" rx="1.55" ry="1.4"/>
<ellipse cx="437.8" cy="280.3" rx="1.55" ry="1.4"/>
<ellipse cx="437.8" cy="271.5" rx="1.55" ry="1.4"/>
<ellipse cx="437.8" cy="262.7" rx="1.55" ry="1.4"/>
<ellipse cx="437.8" cy="253.9" rx="1.55" ry="1.4"/>
<ellipse cx="437.8" cy="245.1" rx="1.55" ry="1.4"/>
<ellipse cx="437.8" cy="236.2" rx="1.55" ry="1.4"/>
<ellipse cx="437.8" cy="227.4" rx="1.55" ry="1.4"/>
<ellipse cx="437.8" cy="218.6" rx="1.55" ry="1.4"/>
<ellipse cx="437.8" cy="209.8" rx="1.55" ry="1.4"/>
<ellipse cx="437.8" cy="201.0" rx="1.55" ry="1.4"/>
<ellipse cx="437.8" cy="192.1" rx="1.55" ry="1.4"/>
<ellipse cx="437.8" cy="183.3" rx="1.55" ry="1.4"/>
<ellipse cx="437.8" cy="174.5" rx="1.55" ry="1.4"/>
<ellipse cx="437.8" cy="165.7" rx="1.55" ry="1.4"/>
<ellipse cx="437.8" cy="156.9" rx="1.55" ry="1.4"/>
<ellipse cx="437.8" cy="148.0" rx="1.55" ry="1.4"/>
<ellipse cx="437.8" cy="139.2" rx="1.55" ry="1.4"/>
<ellipse cx="437.8" cy="130.4" rx="1.55" ry="1.4"/>
<ellipse cx="437.8" cy="121.6" rx="1.55" ry="1.4"/>
<ellipse cx="437.8" cy="112.8" rx="1.55" ry="1.4"/>
<ellipse cx="437.8" cy="103.9" rx="1.55" ry="1.4"/>
<ellipse cx="451.8" cy="482.9" rx="1.6" ry="0.85"/>
<ellipse cx="451.8" cy="474.4" rx="1.55" ry="1.4"/>
<ellipse cx="451.8" cy="465.6" rx="1.55" ry="1.4"/>
<ellipse cx="451.8" cy="456.7" rx="1.55" ry="1.4"/>
<ellipse cx="451.8" cy="447.9" rx="1.55" ry="1.4"/>
<ellipse cx="451.8" cy="439.1" rx="1.55" ry="1.4"/>
<ellipse cx="451.8" cy="430.3" rx="1.55" ry="1.4"/>
<ellipse cx="451.8" cy="421.5" rx="1.55" ry="1.4"/>
<ellipse cx="451.8" cy="412.6" rx="1.55" ry="1.4"/>
<ellipse cx="451.8" cy="403.8" rx="1.55" ry="1.4"/>
<ellipse cx="451.8" cy="395.0" rx="1.55" ry="1.4"/>
<ellipse cx="451.8" cy="386.2" rx="1.55" ry="1.4"/>
<ellipse cx="451.8" cy="377.4" rx="1.55" ry="1.4"/>
<ellipse cx="451.8" cy="368.5" rx="1.55" ry="1.4"/>
<ellipse cx="451.8" cy="359.7" rx="1.55" ry="1.4"/>
<ellipse cx="451.8" cy="350.9" rx="1.55" ry="1.4"/>
<ellipse cx="451.8" cy="342.1" rx="1.55" ry="1.4"/>
<ellipse cx="451.8" cy="333.3" rx="1.55" ry="1.4"/>
<ellipse cx="451.8" cy="324.4" rx="1.55" ry="1.4"/>
<ellipse cx="451.8" cy="315.6" rx="1.55" ry="1.4"/>
<ellipse cx="451.8" cy="306.8" rx="1.55" ry="1.4"/>
<ellipse cx="451.8" cy="298.0" rx="1.55" ry="1.4"/>
<ellipse cx="451.8" cy="289.2" rx="1.55" ry="1.4"/>
<ellipse cx="451.8" cy="280.3" rx="1.55" ry="1.4"/>
<ellipse cx="451.8" cy="271.5" rx="1.55" ry="1.4"/>
<ellipse cx="451.8" cy="262.7" rx="1.55" ry="1.4"/>
<ellipse cx="451.8" cy="253.9" rx="1.55" ry="1.4"/>
<ellipse cx="451.8" cy="245.1" rx="1.55" ry="1.4"/>
<ellipse cx="451.8" cy="236.2" rx="1.55" ry="1.4"/>
<ellipse cx="451.8" cy="227.4" rx="1.55" ry="1.4"/>
<ellipse cx="451.8" cy="218.6" rx="1.55" ry="1.4"/>
<ellipse cx="451.8" cy="209.8" rx="1.55" ry="1.4"/>
<ellipse cx="451.8" cy="201.0" rx="1.55" ry="1.4"/>
<ellipse cx="451.8" cy="192.1" rx="1.55" ry="1.4"/>
<ellipse cx="451.8" cy="183.3" rx="1.55" ry="1.4"/>
<ellipse cx="451.8" cy="174.5" rx="1.55" ry="1.4"/>
<ellipse cx="451.8" cy="165.7" rx="1.55" ry="1.4"/>
<ellipse cx="451.8" cy="156.9" rx="1.55" ry="1.4"/>
<ellipse cx="451.8" cy="148.0" rx="1.55" ry="1.4"/>
<ellipse cx="451.8" cy="139.2" rx="1.55" ry="1.4"/>
<ellipse cx="451.8" cy="130.4" rx="1.55" ry="1.4"/>
<ellipse cx="451.8" cy="121.6" rx="1.55" ry="1.4"/>
<ellipse cx="451.8" cy="112.8" rx="1.55" ry="1.4"/>
<ellipse cx="451.8" cy="103.9" rx="1.55" ry="1.4"/>
<ellipse cx="465.8" cy="482.9" rx="1.6" ry="0.85"/>
<ellipse cx="465.8" cy="474.4" rx="1.55" ry="1.4"/>
<ellipse cx="465.8" cy="465.6" rx="1.55" ry="1.4"/>
<ellipse cx="465.8" cy="456.7" rx="1.55" ry="1.4"/>
<ellipse cx="465.8" cy="447.9" rx="1.55" ry="1.4"/>
<ellipse cx="465.8" cy="439.1" rx="1.55" ry="1.4"/>
<ellipse cx="465.8" cy="430.3" rx="1.55" ry="1.4"/>
<ellipse cx="465.8" cy="421.5" rx="1.55" ry="1.4"/>
<ellipse cx="465.8" cy="412.6" rx="1.55" ry="1.4"/>
<ellipse cx="465.8" cy="403.8" rx="1.55" ry="1.4"/>
<ellipse cx="465.8" cy="395.0" rx="1.55" ry="1.4"/>
<ellipse cx="465.8" cy="386.2" rx="1.55" ry="1.4"/>
<ellipse cx="465.8" cy="377.4" rx="1.55" ry="1.4"/>
<ellipse cx="465.8" cy="368.5" rx="1.55" ry="1.4"/>
<ellipse cx="465.8" cy="359.7" rx="1.55" ry="1.4"/>
<ellipse cx="465.8" cy="350.9" rx="1.55" ry="1.4"/>
<ellipse cx="465.8" cy="342.1" rx="1.55" ry="1.4"/>
<ellipse cx="465.8" cy="333.3" rx="1.55" ry="1.4"/>
<ellipse cx="465.8" cy="324.4" rx="1.55" ry="1.4"/>
<ellipse cx="465.8" cy="315.6" rx="1.55" ry="1.4"/>
<ellipse cx="465.8" cy="306.8" rx="1.55" ry="1.4"/>
<ellipse cx="465.8" cy="298.0" rx="1.55" ry="1.4"/>
<ellipse cx="465.8" cy="289.2" rx="1.55" ry="1.4"/>
<ellipse cx="465.8" cy="280.3" rx="1.55" ry="1.4"/>
<ellipse cx="465.8" cy="271.5" rx="1.55" ry="1.4"/>
<ellipse cx="465.8" cy="262.7" rx="1.55" ry="1.4"/>
<ellipse cx="465.8" cy="253.9" rx="1.55" ry="1.4"/>
<ellipse cx="465.8" cy="245.1" rx="1.55" ry="1.4"/>
<ellipse cx="465.8" cy="236.2" rx="1.55" ry="1.4"/>
<ellipse cx="465.8" cy="227.4" rx="1.55" ry="1.4"/>
<ellipse cx="465.8" cy="218.6" rx="1.55" ry="1.4"/>
<ellipse cx="479.9" cy="482.9" rx="1.6" ry="0.85"/>
<ellipse cx="479.9" cy="474.4" rx="1.55" ry="1.4"/>
<ellipse cx="479.9" cy="465.6" rx="1.55" ry="1.4"/>
<ellipse cx="479.9" cy="456.7" rx="1.55" ry="1.4"/>
<ellipse cx="479.9" cy="447.9" rx="1.55" ry="1.4"/>
<ellipse cx="479.9" cy="439.1" rx="1.55" ry="1.4"/>
<ellipse cx="479.9" cy="430.3" rx="1.55" ry="1.4"/>
<ellipse cx="479.9" cy="421.5" rx="1.55" ry="1.4"/>
<ellipse cx="479.9" cy="412.6" rx="1.55" ry="1.4"/>
<ellipse cx="479.9" cy="403.8" rx="1.55" ry="1.4"/>
<ellipse cx="479.9" cy="395.0" rx="1.55" ry="1.4"/>
<ellipse cx="479.9" cy="386.2" rx="1.55" ry="1.4"/>
<ellipse cx="479.9" cy="377.4" rx="1.55" ry="1.4"/>
<ellipse cx="479.9" cy="368.5" rx="1.55" ry="1.4"/>
<ellipse cx="479.9" cy="359.7" rx="1.55" ry="1.4"/>
<ellipse cx="479.9" cy="350.9" rx="1.55" ry="1.4"/>
<ellipse cx="479.9" cy="342.1" rx="1.55" ry="1.4"/>
<ellipse cx="479.9" cy="333.3" rx="1.55" ry="1.4"/>
<ellipse cx="479.9" cy="324.4" rx="1.55" ry="1.4"/>
<ellipse cx="479.9" cy="315.6" rx="1.55" ry="1.4"/>
<ellipse cx="479.9" cy="306.8" rx="1.55" ry="1.4"/>
<ellipse cx="479.9" cy="298.0" rx="1.55" ry="1.4"/>
<ellipse cx="479.9" cy="289.2" rx="1.55" ry="1.4"/>
<ellipse cx="479.9" cy="280.3" rx="1.55" ry="1.4"/>
<ellipse cx="479.9" cy="271.5" rx="1.55" ry="1.4"/>
<ellipse cx="479.9" cy="262.7" rx="1.55" ry="1.4"/>
<ellipse cx="479.9" cy="253.9" rx="1.55" ry="1.4"/>
<ellipse cx="479.9" cy="245.1" rx="1.55" ry="1.4"/>
<ellipse cx="479.9" cy="236.2" rx="1.55" ry="1.4"/>
<ellipse cx="479.9" cy="227.4" rx="1.55" ry="1.4"/>
<ellipse cx="479.9" cy="218.6" rx="1.55" ry="1.4"/>
<ellipse cx="479.9" cy="209.8" rx="1.55" ry="1.4"/>
<ellipse cx="479.9" cy="201.0" rx="1.55" ry="1.4"/>
<ellipse cx="479.9" cy="192.1" rx="1.55" ry="1.4"/>
<ellipse cx="479.9" cy="183.3" rx="1.55" ry="1.4"/>
<ellipse cx="479.9" cy="174.5" rx="1.55" ry="1.4"/>
<ellipse cx="479.9" cy="165.7" rx="1.55" ry="1.4"/>
<ellipse cx="479.9" cy="156.9" rx="1.55" ry="1.4"/>
<ellipse cx="479.9" cy="148.0" rx="1.55" ry="1.4"/>
<ellipse cx="479.9" cy="139.2" rx="1.55" ry="1.4"/>
<ellipse cx="479.9" cy="130.4" rx="1.55" ry="1.4"/>
<ellipse cx="479.9" cy="121.6" rx="1.55" ry="1.4"/>
<ellipse cx="479.9" cy="112.8" rx="1.55" ry="1.4"/>
<ellipse cx="479.9" cy="103.9" rx="1.55" ry="1.4"/>
<ellipse cx="493.9" cy="482.9" rx="1.6" ry="0.85"/>
<ellipse cx="493.9" cy="474.4" rx="1.55" ry="1.4"/>
<ellipse cx="493.9" cy="465.6" rx="1.55" ry="1.4"/>
<ellipse cx="493.9" cy="456.7" rx="1.55" ry="1.4"/>
<ellipse cx="493.9" cy="447.9" rx="1.55" ry="1.4"/>
<ellipse cx="493.9" cy="439.1" rx="1.55" ry="1.4"/>
<ellipse cx="493.9" cy="430.3" rx="1.55" ry="1.4"/>
<ellipse cx="493.9" cy="421.5" rx="1.55" ry="1.4"/>
<ellipse cx="493.9" cy="412.6" rx="1.55" ry="1.4"/>
<ellipse cx="493.9" cy="403.8" rx="1.55" ry="1.4"/>
<ellipse cx="493.9" cy="395.0" rx="1.55" ry="1.4"/>
<ellipse cx="493.9" cy="386.2" rx="1.55" ry="1.4"/>
<ellipse cx="493.9" cy="377.4" rx="1.55" ry="1.4"/>
<ellipse cx="493.9" cy="368.5" rx="1.55" ry="1.4"/>
<ellipse cx="493.9" cy="359.7" rx="1.55" ry="1.4"/>
<ellipse cx="493.9" cy="350.9" rx="1.55" ry="1.4"/>
<ellipse cx="493.9" cy="342.1" rx="1.55" ry="1.4"/>
<ellipse cx="493.9" cy="333.3" rx="1.55" ry="1.4"/>
<ellipse cx="493.9" cy="324.4" rx="1.55" ry="1.4"/>
<ellipse cx="493.9" cy="315.6" rx="1.55" ry="1.4"/>
<ellipse cx="493.9" cy="306.8" rx="1.55" ry="1.4"/>
<ellipse cx="493.9" cy="298.0" rx="1.55" ry="1.4"/>
<ellipse cx="493.9" cy="289.2" rx="1.55" ry="1.4"/>
<ellipse cx="493.9" cy="280.3" rx="1.55" ry="1.4"/>
<ellipse cx="493.9" cy="271.5" rx="1.55" ry="1.4"/>
<ellipse cx="493.9" cy="262.7" rx="1.55" ry="1.4"/>
<ellipse cx="493.9" cy="253.9" rx="1.55" ry="1.4"/>
<ellipse cx="493.9" cy="245.1" rx="1.55" ry="1.4"/>
<ellipse cx="493.9" cy="236.2" rx="1.55" ry="1.4"/>
<ellipse cx="493.9" cy="227.4" rx="1.55" ry="1.4"/>
<ellipse cx="493.9" cy="218.6" rx="1.55" ry="1.4"/>
<ellipse cx="493.9" cy="209.8" rx="1.55" ry="1.4"/>
<ellipse cx="493.9" cy="201.0" rx="1.55" ry="1.4"/>
<ellipse cx="493.9" cy="192.1" rx="1.55" ry="1.4"/>
<ellipse cx="493.9" cy="183.3" rx="1.55" ry="1.4"/>
<ellipse cx="493.9" cy="174.5" rx="1.55" ry="1.4"/>
<ellipse cx="493.9" cy="165.7" rx="1.55" ry="1.4"/>
<ellipse cx="493.9" cy="156.9" rx="1.55" ry="1.4"/>
<ellipse cx="493.9" cy="148.0" rx="1.55" ry="1.4"/>
<ellipse cx="493.9" cy="139.2" rx="1.55" ry="1.4"/>
<ellipse cx="493.9" cy="130.4" rx="1.55" ry="1.4"/>
<ellipse cx="493.9" cy="121.6" rx="1.55" ry="1.4"/>
<ellipse cx="493.9" cy="112.8" rx="1.55" ry="1.4"/>
<ellipse cx="493.9" cy="103.9" rx="1.55" ry="1.4"/>
<ellipse cx="508.0" cy="482.9" rx="1.6" ry="0.85"/>
<ellipse cx="508.0" cy="474.4" rx="1.55" ry="1.4"/>
<ellipse cx="508.0" cy="465.6" rx="1.55" ry="1.4"/>
<ellipse cx="508.0" cy="456.7" rx="1.55" ry="1.4"/>
<ellipse cx="508.0" cy="447.9" rx="1.55" ry="1.4"/>
<ellipse cx="508.0" cy="439.1" rx="1.55" ry="1.4"/>
<ellipse cx="508.0" cy="430.3" rx="1.55" ry="1.4"/>
<ellipse cx="508.0" cy="421.5" rx="1.55" ry="1.4"/>
<ellipse cx="508.0" cy="412.6" rx="1.55" ry="1.4"/>
<ellipse cx="508.0" cy="403.8" rx="1.55" ry="1.4"/>
<ellipse cx="508.0" cy="395.0" rx="1.55" ry="1.4"/>
<ellipse cx="508.0" cy="386.2" rx="1.55" ry="1.4"/>
<ellipse cx="508.0" cy="377.4" rx="1.55" ry="1.4"/>
<ellipse cx="508.0" cy="368.5" rx="1.55" ry="1.4"/>
<ellipse cx="508.0" cy="359.7" rx="1.55" ry="1.4"/>
<ellipse cx="508.0" cy="350.9" rx="1.55" ry="1.4"/>
<ellipse cx="508.0" cy="342.1" rx="1.55" ry="1.4"/>
<ellipse cx="508.0" cy="333.3" rx="1.55" ry="1.4"/>
<ellipse cx="508.0" cy="324.4" rx="1.55" ry="1.4"/>
<ellipse cx="508.0" cy="315.6" rx="1.55" ry="1.4"/>
<ellipse cx="508.0" cy="306.8" rx="1.55" ry="1.4"/>
<ellipse cx="508.0" cy="298.0" rx="1.55" ry="1.4"/>
<ellipse cx="508.0" cy="289.2" rx="1.55" ry="1.4"/>
<ellipse cx="508.0" cy="280.3" rx="1.55" ry="1.4"/>
<ellipse cx="508.0" cy="271.5" rx="1.55" ry="1.4"/>
<ellipse cx="508.0" cy="262.7" rx="1.55" ry="1.4"/>
<ellipse cx="508.0" cy="253.9" rx="1.55" ry="1.4"/>
<ellipse cx="508.0" cy="245.1" rx="1.55" ry="1.4"/>
<ellipse cx="508.0" cy="236.2" rx="1.55" ry="1.4"/>
<ellipse cx="508.0" cy="227.4" rx="1.55" ry="1.4"/>
<ellipse cx="508.0" cy="218.6" rx="1.55" ry="1.4"/>
<ellipse cx="508.0" cy="209.8" rx="1.55" ry="1.4"/>
<ellipse cx="508.0" cy="201.0" rx="1.55" ry="1.4"/>
<ellipse cx="508.0" cy="192.1" rx="1.55" ry="1.4"/>
<ellipse cx="508.0" cy="183.3" rx="1.55" ry="1.4"/>
<ellipse cx="508.0" cy="174.5" rx="1.55" ry="1.4"/>
<ellipse cx="508.0" cy="165.7" rx="1.55" ry="1.4"/>
<ellipse cx="508.0" cy="156.9" rx="1.55" ry="1.4"/>
<ellipse cx="508.0" cy="148.0" rx="1.55" ry="1.4"/>
<ellipse cx="508.0" cy="139.2" rx="1.55" ry="1.4"/>
<ellipse cx="508.0" cy="130.4" rx="1.55" ry="1.4"/>
<ellipse cx="508.0" cy="121.6" rx="1.55" ry="1.4"/>
<ellipse cx="508.0" cy="112.8" rx="1.55" ry="1.4"/>
<ellipse cx="508.0" cy="103.9" rx="1.55" ry="1.4"/>
<ellipse cx="522.0" cy="482.9" rx="1.6" ry="0.85"/>
<ellipse cx="522.0" cy="474.4" rx="1.55" ry="1.4"/>
<ellipse cx="522.0" cy="465.6" rx="1.55" ry="1.4"/>
<ellipse cx="522.0" cy="456.7" rx="1.55" ry="1.4"/>
<ellipse cx="522.0" cy="447.9" rx="1.55" ry="1.4"/>
<ellipse cx="522.0" cy="439.1" rx="1.55" ry="1.4"/>
<ellipse cx="522.0" cy="430.3" rx="1.55" ry="1.4"/>
<ellipse cx="522.0" cy="421.5" rx="1.55" ry="1.4"/>
<ellipse cx="522.0" cy="412.6" rx="1.55" ry="1.4"/>
<ellipse cx="522.0" cy="403.8" rx="1.55" ry="1.4"/>
<ellipse cx="522.0" cy="395.0" rx="1.55" ry="1.4"/>
<ellipse cx="522.0" cy="386.2" rx="1.55" ry="1.4"/>
<ellipse cx="522.0" cy="377.4" rx="1.55" ry="1.4"/>
<ellipse cx="522.0" cy="368.5" rx="1.55" ry="1.4"/>
<ellipse cx="522.0" cy="359.7" rx="1.55" ry="1.4"/>
<ellipse cx="522.0" cy="350.9" rx="1.55" ry="1.4"/>
<ellipse cx="522.0" cy="342.1" rx="1.55" ry="1.4"/>
<ellipse cx="522.0" cy="333.3" rx="1.55" ry="1.4"/>
<ellipse cx="522.0" cy="324.4" rx="1.55" ry="1.4"/>
<ellipse cx="522.0" cy="315.6" rx="1.55" ry="1.4"/>
<ellipse cx="522.0" cy="306.8" rx="1.55" ry="1.4"/>
<ellipse cx="522.0" cy="298.0" rx="1.55" ry="1.4"/>
<ellipse cx="522.0" cy="289.2" rx="1.55" ry="1.4"/>
<ellipse cx="522.0" cy="280.3" rx="1.55" ry="1.4"/>
<ellipse cx="522.0" cy="271.5" rx="1.55" ry="1.4"/>
<ellipse cx="522.0" cy="262.7" rx="1.55" ry="1.4"/>
<ellipse cx="522.0" cy="253.9" rx="1.55" ry="1.4"/>
<ellipse cx="522.0" cy="245.1" rx="1.55" ry="1.4"/>
<ellipse cx="522.0" cy="236.2" rx="1.55" ry="1.4"/>
<ellipse cx="522.0" cy="227.4" rx="1.55" ry="1.4"/>
<ellipse cx="522.0" cy="218.6" rx="1.55" ry="1.4"/>
<ellipse cx="522.0" cy="209.8" rx="1.55" ry="1.4"/>
<ellipse cx="522.0" cy="201.0" rx="1.55" ry="1.4"/>
<ellipse cx="522.0" cy="192.1" rx="1.55" ry="1.4"/>
<ellipse cx="522.0" cy="183.3" rx="1.55" ry="1.4"/>
<ellipse cx="522.0" cy="174.5" rx="1.55" ry="1.4"/>
<ellipse cx="522.0" cy="165.7" rx="1.55" ry="1.4"/>
<ellipse cx="522.0" cy="156.9" rx="1.55" ry="1.4"/>
<ellipse cx="522.0" cy="148.0" rx="1.55" ry="1.4"/>
<ellipse cx="522.0" cy="139.2" rx="1.55" ry="1.4"/>
<ellipse cx="522.0" cy="130.4" rx="1.55" ry="1.4"/>
<ellipse cx="522.0" cy="121.6" rx="1.55" ry="1.4"/>
<ellipse cx="522.0" cy="112.8" rx="1.55" ry="1.4"/>
<ellipse cx="522.0" cy="103.9" rx="1.55" ry="1.4"/>
<ellipse cx="536.0" cy="482.9" rx="1.6" ry="0.85"/>
<ellipse cx="536.0" cy="474.4" rx="1.55" ry="1.4"/>
<ellipse cx="536.0" cy="465.6" rx="1.55" ry="1.4"/>
<ellipse cx="536.0" cy="456.7" rx="1.55" ry="1.4"/>
<ellipse cx="536.0" cy="447.9" rx="1.55" ry="1.4"/>
<ellipse cx="536.0" cy="439.1" rx="1.55" ry="1.4"/>
<ellipse cx="536.0" cy="430.3" rx="1.55" ry="1.4"/>
<ellipse cx="536.0" cy="421.5" rx="1.55" ry="1.4"/>
<ellipse cx="536.0" cy="412.6" rx="1.55" ry="1.4"/>
<ellipse cx="536.0" cy="403.8" rx="1.55" ry="1.4"/>
<ellipse cx="536.0" cy="395.0" rx="1.55" ry="1.4"/>
<ellipse cx="536.0" cy="386.2" rx="1.55" ry="1.4"/>
<ellipse cx="536.0" cy="377.4" rx="1.55" ry="1.4"/>
<ellipse cx="536.0" cy="368.5" rx="1.55" ry="1.4"/>
<ellipse cx="536.0" cy="359.7" rx="1.55" ry="1.4"/>
<ellipse cx="536.0" cy="350.9" rx="1.55" ry="1.4"/>
<ellipse cx="536.0" cy="342.1" rx="1.55" ry="1.4"/>
<ellipse cx="536.0" cy="333.3" rx="1.55" ry="1.4"/>
<ellipse cx="536.0" cy="324.4" rx="1.55" ry="1.4"/>
<ellipse cx="536.0" cy="315.6" rx="1.55" ry="1.4"/>
<ellipse cx="536.0" cy="306.8" rx="1.55" ry="1.4"/>
<ellipse cx="536.0" cy="298.0" rx="1.55" ry="1.4"/>
<ellipse cx="536.0" cy="289.2" rx="1.55" ry="1.4"/>
<ellipse cx="536.0" cy="280.3" rx="1.55" ry="1.4"/>
<ellipse cx="536.0" cy="271.5" rx="1.55" ry="1.4"/>
<ellipse cx="536.0" cy="262.7" rx="1.55" ry="1.4"/>
<ellipse cx="536.0" cy="253.9" rx="1.55" ry="1.4"/>
<ellipse cx="536.0" cy="245.1" rx="1.55" ry="1.4"/>
<ellipse cx="536.0" cy="236.2" rx="1.55" ry="1.4"/>
<ellipse cx="536.0" cy="227.4" rx="1.55" ry="1.4"/>
<ellipse cx="536.0" cy="218.6" rx="1.55" ry="1.4"/>
<ellipse cx="536.0" cy="209.8" rx="1.55" ry="1.4"/>
<ellipse cx="536.0" cy="201.0" rx="1.55" ry="1.4"/>
<ellipse cx="536.0" cy="192.1" rx="1.55" ry="1.4"/>
<ellipse cx="536.0" cy="183.3" rx="1.55" ry="1.4"/>
<ellipse cx="536.0" cy="174.5" rx="1.55" ry="1.4"/>
<ellipse cx="536.0" cy="165.7" rx="1.55" ry="1.4"/>
<ellipse cx="536.0" cy="156.9" rx="1.55" ry="1.4"/>
<ellipse cx="536.0" cy="148.0" rx="1.55" ry="1.4"/>
<ellipse cx="536.0" cy="139.2" rx="1.55" ry="1.4"/>
<ellipse cx="536.0" cy="130.4" rx="1.55" ry="1.4"/>
<ellipse cx="536.0" cy="121.6" rx="1.55" ry="1.4"/>
<ellipse cx="536.0" cy="112.8" rx="1.55" ry="1.4"/>
<ellipse cx="536.0" cy="103.9" rx="1.55" ry="1.4"/>
<ellipse cx="550.1" cy="482.9" rx="1.6" ry="0.85"/>
<ellipse cx="550.1" cy="474.4" rx="1.55" ry="1.4"/>
<ellipse cx="550.1" cy="465.6" rx="1.55" ry="1.4"/>
<ellipse cx="550.1" cy="456.7" rx="1.55" ry="1.4"/>
<ellipse cx="550.1" cy="447.9" rx="1.55" ry="1.4"/>
<ellipse cx="550.1" cy="439.1" rx="1.55" ry="1.4"/>
<ellipse cx="550.1" cy="430.3" rx="1.55" ry="1.4"/>
<ellipse cx="550.1" cy="421.5" rx="1.55" ry="1.4"/>
<ellipse cx="550.1" cy="412.6" rx="1.55" ry="1.4"/>
<ellipse cx="550.1" cy="403.8" rx="1.55" ry="1.4"/>
<ellipse cx="550.1" cy="395.0" rx="1.55" ry="1.4"/>
<ellipse cx="550.1" cy="386.2" rx="1.55" ry="1.4"/>
<ellipse cx="550.1" cy="377.4" rx="1.55" ry="1.4"/>
<ellipse cx="550.1" cy="368.5" rx="1.55" ry="1.4"/>
<ellipse cx="550.1" cy="359.7" rx="1.55" ry="1.4"/>
<ellipse cx="550.1" cy="350.9" rx="1.55" ry="1.4"/>
<ellipse cx="550.1" cy="342.1" rx="1.55" ry="1.4"/>
<ellipse cx="550.1" cy="333.3" rx="1.55" ry="1.4"/>
<ellipse cx="550.1" cy="324.4" rx="1.55" ry="1.4"/>
<ellipse cx="550.1" cy="315.6" rx="1.55" ry="1.4"/>
<ellipse cx="550.1" cy="306.8" rx="1.55" ry="1.4"/>
<ellipse cx="550.1" cy="298.0" rx="1.55" ry="1.4"/>
<ellipse cx="550.1" cy="289.2" rx="1.55" ry="1.4"/>
<ellipse cx="550.1" cy="280.3" rx="1.55" ry="1.4"/>
<ellipse cx="550.1" cy="271.5" rx="1.55" ry="1.4"/>
<ellipse cx="550.1" cy="262.7" rx="1.55" ry="1.4"/>
<ellipse cx="550.1" cy="253.9" rx="1.55" ry="1.4"/>
<ellipse cx="550.1" cy="245.1" rx="1.55" ry="1.4"/>
<ellipse cx="550.1" cy="236.2" rx="1.55" ry="1.4"/>
<ellipse cx="550.1" cy="227.4" rx="1.55" ry="1.4"/>
<ellipse cx="550.1" cy="218.6" rx="1.55" ry="1.4"/>
<ellipse cx="550.1" cy="209.8" rx="1.55" ry="1.4"/>
<ellipse cx="550.1" cy="201.0" rx="1.55" ry="1.4"/>
<ellipse cx="550.1" cy="192.1" rx="1.55" ry="1.4"/>
<ellipse cx="550.1" cy="183.3" rx="1.55" ry="1.4"/>
<ellipse cx="550.1" cy="174.5" rx="1.55" ry="1.4"/>
<ellipse cx="550.1" cy="165.7" rx="1.55" ry="1.4"/>
<ellipse cx="550.1" cy="156.9" rx="1.55" ry="1.4"/>
<ellipse cx="550.1" cy="148.0" rx="1.55" ry="1.4"/>
<ellipse cx="550.1" cy="139.2" rx="1.55" ry="1.4"/>
<ellipse cx="550.1" cy="130.4" rx="1.55" ry="1.4"/>
<ellipse cx="550.1" cy="121.6" rx="1.55" ry="1.4"/>
<ellipse cx="550.1" cy="112.8" rx="1.55" ry="1.4"/>
<ellipse cx="550.1" cy="103.9" rx="1.55" ry="1.4"/>
<ellipse cx="564.1" cy="482.9" rx="1.6" ry="0.85"/>
<ellipse cx="564.1" cy="474.4" rx="1.55" ry="1.4"/>
<ellipse cx="564.1" cy="465.6" rx="1.55" ry="1.4"/>
<ellipse cx="564.1" cy="456.7" rx="1.55" ry="1.4"/>
<ellipse cx="564.1" cy="447.9" rx="1.55" ry="1.4"/>
<ellipse cx="564.1" cy="439.1" rx="1.55" ry="1.4"/>
<ellipse cx="564.1" cy="430.3" rx="1.55" ry="1.4"/>
<ellipse cx="564.1" cy="421.5" rx="1.55" ry="1.4"/>
<ellipse cx="564.1" cy="412.6" rx="1.55" ry="1.4"/>
<ellipse cx="564.1" cy="403.8" rx="1.55" ry="1.4"/>
<ellipse cx="564.1" cy="395.0" rx="1.55" ry="1.4"/>
<ellipse cx="564.1" cy="386.2" rx="1.55" ry="1.4"/>
<ellipse cx="564.1" cy="377.4" rx="1.55" ry="1.4"/>
<ellipse cx="564.1" cy="368.5" rx="1.55" ry="1.4"/>
<ellipse cx="564.1" cy="359.7" rx="1.55" ry="1.4"/>
<ellipse cx="564.1" cy="350.9" rx="1.55" ry="1.4"/>
<ellipse cx="564.1" cy="342.1" rx="1.55" ry="1.4"/>
<ellipse cx="564.1" cy="333.3" rx="1.55" ry="1.4"/>
<ellipse cx="564.1" cy="324.4" rx="1.55" ry="1.4"/>
<ellipse cx="564.1" cy="315.6" rx="1.55" ry="1.4"/>
<ellipse cx="564.1" cy="306.8" rx="1.55" ry="1.4"/>
<ellipse cx="564.1" cy="298.0" rx="1.55" ry="1.4"/>
<ellipse cx="564.1" cy="289.2" rx="1.55" ry="1.4"/>
<ellipse cx="564.1" cy="280.3" rx="1.55" ry="1.4"/>
<ellipse cx="564.1" cy="271.5" rx="1.55" ry="1.4"/>
<ellipse cx="564.1" cy="262.7" rx="1.55" ry="1.4"/>
<ellipse cx="564.1" cy="253.9" rx="1.55" ry="1.4"/>
<ellipse cx="564.1" cy="245.1" rx="1.55" ry="1.4"/>
<ellipse cx="564.1" cy="236.2" rx="1.55" ry="1.4"/>
<ellipse cx="564.1" cy="227.4" rx="1.55" ry="1.4"/>
<ellipse cx="564.1" cy="218.6" rx="1.55" ry="1.4"/>
<ellipse cx="564.1" cy="209.8" rx="1.55" ry="1.4"/>
<ellipse cx="564.1" cy="201.0" rx="1.55" ry="1.4"/>
<ellipse cx="564.1" cy="192.1" rx="1.55" ry="1.4"/>
<ellipse cx="564.1" cy="183.3" rx="1.55" ry="1.4"/>
<ellipse cx="564.1" cy="174.5" rx="1.55" ry="1.4"/>
<ellipse cx="564.1" cy="165.7" rx="1.55" ry="1.4"/>
<ellipse cx="564.1" cy="156.9" rx="1.55" ry="1.4"/>
<ellipse cx="564.1" cy="148.0" rx="1.55" ry="1.4"/>
<ellipse cx="564.1" cy="139.2" rx="1.55" ry="1.4"/>
<ellipse cx="564.1" cy="130.4" rx="1.55" ry="1.4"/>
<ellipse cx="564.1" cy="121.6" rx="1.55" ry="1.4"/>
<ellipse cx="564.1" cy="112.8" rx="1.55" ry="1.4"/>
<ellipse cx="564.1" cy="103.9" rx="1.55" ry="1.4"/>
<ellipse cx="578.2" cy="482.9" rx="1.6" ry="0.85"/>
<ellipse cx="578.2" cy="474.4" rx="1.55" ry="1.4"/>
<ellipse cx="578.2" cy="465.6" rx="1.55" ry="1.4"/>
<ellipse cx="578.2" cy="456.7" rx="1.55" ry="1.4"/>
<ellipse cx="578.2" cy="447.9" rx="1.55" ry="1.4"/>
<ellipse cx="578.2" cy="439.1" rx="1.55" ry="1.4"/>
<ellipse cx="578.2" cy="430.3" rx="1.55" ry="1.4"/>
<ellipse cx="578.2" cy="421.5" rx="1.55" ry="1.4"/>
<ellipse cx="578.2" cy="412.6" rx="1.55" ry="1.4"/>
<ellipse cx="578.2" cy="403.8" rx="1.55" ry="1.4"/>
<ellipse cx="578.2" cy="395.0" rx="1.55" ry="1.4"/>
<ellipse cx="578.2" cy="386.2" rx="1.55" ry="1.4"/>
<ellipse cx="578.2" cy="377.4" rx="1.55" ry="1.4"/>
<ellipse cx="578.2" cy="368.5" rx="1.55" ry="1.4"/>
<ellipse cx="578.2" cy="359.7" rx="1.55" ry="1.4"/>
<ellipse cx="578.2" cy="350.9" rx="1.55" ry="1.4"/>
<ellipse cx="578.2" cy="342.1" rx="1.55" ry="1.4"/>
<ellipse cx="578.2" cy="333.3" rx="1.55" ry="1.4"/>
<ellipse cx="578.2" cy="324.4" rx="1.55" ry="1.4"/>
<ellipse cx="578.2" cy="315.6" rx="1.55" ry="1.4"/>
<ellipse cx="578.2" cy="306.8" rx="1.55" ry="1.4"/>
<ellipse cx="578.2" cy="298.0" rx="1.55" ry="1.4"/>
<ellipse cx="578.2" cy="289.2" rx="1.55" ry="1.4"/>
<ellipse cx="578.2" cy="280.3" rx="1.55" ry="1.4"/>
<ellipse cx="578.2" cy="271.5" rx="1.55" ry="1.4"/>
<ellipse cx="578.2" cy="262.7" rx="1.55" ry="1.4"/>
<ellipse cx="578.2" cy="253.9" rx="1.55" ry="1.4"/>
<ellipse cx="578.2" cy="245.1" rx="1.55" ry="1.4"/>
<ellipse cx="578.2" cy="236.2" rx="1.55" ry="1.4"/>
<ellipse cx="578.2" cy="227.4" rx="1.55" ry="1.4"/>
<ellipse cx="578.2" cy="218.6" rx="1.55" ry="1.4"/>
<ellipse cx="578.2" cy="209.8" rx="1.55" ry="1.4"/>
<ellipse cx="578.2" cy="201.0" rx="1.55" ry="1.4"/>
<ellipse cx="578.2" cy="192.1" rx="1.55" ry="1.4"/>
<ellipse cx="578.2" cy="183.3" rx="1.55" ry="1.4"/>
<ellipse cx="578.2" cy="174.5" rx="1.55" ry="1.4"/>
<ellipse cx="578.2" cy="165.7" rx="1.55" ry="1.4"/>
<ellipse cx="578.2" cy="156.9" rx="1.55" ry="1.4"/>
<ellipse cx="578.2" cy="148.0" rx="1.55" ry="1.4"/>
<ellipse cx="578.2" cy="139.2" rx="1.55" ry="1.4"/>
<ellipse cx="578.2" cy="130.4" rx="1.55" ry="1.4"/>
<ellipse cx="578.2" cy="121.6" rx="1.55" ry="1.4"/>
<ellipse cx="578.2" cy="112.8" rx="1.55" ry="1.4"/>
<ellipse cx="578.2" cy="103.9" rx="1.55" ry="1.4"/>
<ellipse cx="592.2" cy="482.9" rx="1.6" ry="0.85"/>
<ellipse cx="592.2" cy="474.4" rx="1.55" ry="1.4"/>
<ellipse cx="592.2" cy="465.6" rx="1.55" ry="1.4"/>
<ellipse cx="592.2" cy="456.7" rx="1.55" ry="1.4"/>
<ellipse cx="592.2" cy="447.9" rx="1.55" ry="1.4"/>
<ellipse cx="592.2" cy="439.1" rx="1.55" ry="1.4"/>
<ellipse cx="592.2" cy="430.3" rx="1.55" ry="1.4"/>
<ellipse cx="592.2" cy="421.5" rx="1.55" ry="1.4"/>
<ellipse cx="592.2" cy="412.6" rx="1.55" ry="1.4"/>
<ellipse cx="592.2" cy="403.8" rx="1.55" ry="1.4"/>
<ellipse cx="592.2" cy="395.0" rx="1.55" ry="1.4"/>
<ellipse cx="592.2" cy="386.2" rx="1.55" ry="1.4"/>
<ellipse cx="592.2" cy="377.4" rx="1.55" ry="1.4"/>
<ellipse cx="592.2" cy="368.5" rx="1.55" ry="1.4"/>
<ellipse cx="592.2" cy="359.7" rx="1.55" ry="1.4"/>
<ellipse cx="592.2" cy="350.9" rx="1.55" ry="1.4"/>
<ellipse cx="592.2" cy="342.1" rx="1.55" ry="1.4"/>
<ellipse cx="592.2" cy="333.3" rx="1.55" ry="1.4"/>
<ellipse cx="592.2" cy="324.4" rx="1.55" ry="1.4"/>
<ellipse cx="592.2" cy="315.6" rx="1.55" ry="1.4"/>
<ellipse cx="592.2" cy="306.8" rx="1.55" ry="1.4"/>
<ellipse cx="592.2" cy="298.0" rx="1.55" ry="1.4"/>
<ellipse cx="592.2" cy="289.2" rx="1.55" ry="1.4"/>
<ellipse cx="592.2" cy="280.3" rx="1.55" ry="1.4"/>
<ellipse cx="592.2" cy="271.5" rx="1.55" ry="1.4"/>
<ellipse cx="592.2" cy="262.7" rx="1.55" ry="1.4"/>
<ellipse cx="592.2" cy="253.9" rx="1.55" ry="1.4"/>
<ellipse cx="592.2" cy="245.1" rx="1.55" ry="1.4"/>
<ellipse cx="592.2" cy="236.2" rx="1.55" ry="1.4"/>
<ellipse cx="592.2" cy="227.4" rx="1.55" ry="1.4"/>
<ellipse cx="592.2" cy="218.6" rx="1.55" ry="1.4"/>
<ellipse cx="592.2" cy="209.8" rx="1.55" ry="1.4"/>
<ellipse cx="592.2" cy="201.0" rx="1.55" ry="1.4"/>
<ellipse cx="592.2" cy="192.1" rx="1.55" ry="1.4"/>
<ellipse cx="592.2" cy="183.3" rx="1.55" ry="1.4"/>
<ellipse cx="592.2" cy="174.5" rx="1.55" ry="1.4"/>
<ellipse cx="592.2" cy="165.7" rx="1.55" ry="1.4"/>
<ellipse cx="592.2" cy="156.9" rx="1.55" ry="1.4"/>
<ellipse cx="592.2" cy="148.0" rx="1.55" ry="1.4"/>
<ellipse cx="592.2" cy="139.2" rx="1.55" ry="1.4"/>
<ellipse cx="592.2" cy="130.4" rx="1.55" ry="1.4"/>
<ellipse cx="592.2" cy="121.6" rx="1.55" ry="1.4"/>
<ellipse cx="592.2" cy="112.8" rx="1.55" ry="1.4"/>
<ellipse cx="592.2" cy="103.9" rx="1.55" ry="1.4"/>
<ellipse cx="606.2" cy="482.9" rx="1.6" ry="0.85"/>
<ellipse cx="606.2" cy="474.4" rx="1.55" ry="1.4"/>
<ellipse cx="606.2" cy="465.6" rx="1.55" ry="1.4"/>
<ellipse cx="606.2" cy="456.7" rx="1.55" ry="1.4"/>
<ellipse cx="606.2" cy="447.9" rx="1.55" ry="1.4"/>
<ellipse cx="606.2" cy="439.1" rx="1.55" ry="1.4"/>
<ellipse cx="606.2" cy="430.3" rx="1.55" ry="1.4"/>
<ellipse cx="606.2" cy="421.5" rx="1.55" ry="1.4"/>
<ellipse cx="606.2" cy="412.6" rx="1.55" ry="1.4"/>
<ellipse cx="606.2" cy="403.8" rx="1.55" ry="1.4"/>
<ellipse cx="606.2" cy="395.0" rx="1.55" ry="1.4"/>
<ellipse cx="606.2" cy="386.2" rx="1.55" ry="1.4"/>
<ellipse cx="606.2" cy="377.4" rx="1.55" ry="1.4"/>
<ellipse cx="606.2" cy="368.5" rx="1.55" ry="1.4"/>
<ellipse cx="606.2" cy="359.7" rx="1.55" ry="1.4"/>
<ellipse cx="606.2" cy="350.9" rx="1.55" ry="1.4"/>
<ellipse cx="606.2" cy="342.1" rx="1.55" ry="1.4"/>
<ellipse cx="606.2" cy="333.3" rx="1.55" ry="1.4"/>
<ellipse cx="606.2" cy="324.4" rx="1.55" ry="1.4"/>
<ellipse cx="606.2" cy="315.6" rx="1.55" ry="1.4"/>
<ellipse cx="606.2" cy="306.8" rx="1.55" ry="1.4"/>
<ellipse cx="606.2" cy="298.0" rx="1.55" ry="1.4"/>
<ellipse cx="606.2" cy="289.2" rx="1.55" ry="1.4"/>
<ellipse cx="606.2" cy="280.3" rx="1.55" ry="1.4"/>
<ellipse cx="606.2" cy="271.5" rx="1.55" ry="1.4"/>
<ellipse cx="606.2" cy="262.7" rx="1.55" ry="1.4"/>
<ellipse cx="606.2" cy="253.9" rx="1.55" ry="1.4"/>
<ellipse cx="606.2" cy="245.1" rx="1.55" ry="1.4"/>
<ellipse cx="606.2" cy="236.2" rx="1.55" ry="1.4"/>
<ellipse cx="606.2" cy="227.4" rx="1.55" ry="1.4"/>
<ellipse cx="606.2" cy="218.6" rx="1.55" ry="1.4"/>
<ellipse cx="606.2" cy="209.8" rx="1.55" ry="1.4"/>
<ellipse cx="606.2" cy="201.0" rx="1.55" ry="1.4"/>
<ellipse cx="606.2" cy="192.1" rx="1.55" ry="1.4"/>
<ellipse cx="606.2" cy="183.3" rx="1.55" ry="1.4"/>
<ellipse cx="606.2" cy="174.5" rx="1.55" ry="1.4"/>
<ellipse cx="606.2" cy="165.7" rx="1.55" ry="1.4"/>
<ellipse cx="606.2" cy="156.9" rx="1.55" ry="1.4"/>
<ellipse cx="606.2" cy="148.0" rx="1.55" ry="1.4"/>
<ellipse cx="606.2" cy="139.2" rx="1.55" ry="1.4"/>
<ellipse cx="606.2" cy="130.4" rx="1.55" ry="1.4"/>
<ellipse cx="606.2" cy="121.6" rx="1.55" ry="1.4"/>
<ellipse cx="606.2" cy="112.8" rx="1.55" ry="1.4"/>
<ellipse cx="606.2" cy="103.9" rx="1.55" ry="1.4"/>
<ellipse cx="620.3" cy="482.9" rx="1.6" ry="0.85"/>
<ellipse cx="620.3" cy="474.4" rx="1.55" ry="1.4"/>
<ellipse cx="620.3" cy="465.6" rx="1.55" ry="1.4"/>
<ellipse cx="620.3" cy="456.7" rx="1.55" ry="1.4"/>
<ellipse cx="620.3" cy="447.9" rx="1.55" ry="1.4"/>
<ellipse cx="620.3" cy="439.1" rx="1.55" ry="1.4"/>
<ellipse cx="620.3" cy="430.3" rx="1.55" ry="1.4"/>
<ellipse cx="620.3" cy="421.5" rx="1.55" ry="1.4"/>
<ellipse cx="620.3" cy="412.6" rx="1.55" ry="1.4"/>
<ellipse cx="620.3" cy="403.8" rx="1.55" ry="1.4"/>
<ellipse cx="620.3" cy="395.0" rx="1.55" ry="1.4"/>
<ellipse cx="620.3" cy="386.2" rx="1.55" ry="1.4"/>
<ellipse cx="620.3" cy="377.4" rx="1.55" ry="1.4"/>
<ellipse cx="620.3" cy="368.5" rx="1.55" ry="1.4"/>
<ellipse cx="620.3" cy="359.7" rx="1.55" ry="1.4"/>
<ellipse cx="620.3" cy="350.9" rx="1.55" ry="1.4"/>
<ellipse cx="620.3" cy="342.1" rx="1.55" ry="1.4"/>
<ellipse cx="620.3" cy="333.3" rx="1.55" ry="1.4"/>
<ellipse cx="620.3" cy="324.4" rx="1.55" ry="1.4"/>
<ellipse cx="620.3" cy="315.6" rx="1.55" ry="1.4"/>
<ellipse cx="620.3" cy="306.8" rx="1.55" ry="1.4"/>
<ellipse cx="620.3" cy="298.0" rx="1.55" ry="1.4"/>
<ellipse cx="620.3" cy="289.2" rx="1.55" ry="1.4"/>
<ellipse cx="620.3" cy="280.3" rx="1.55" ry="1.4"/>
<ellipse cx="620.3" cy="271.5" rx="1.55" ry="1.4"/>
<ellipse cx="620.3" cy="262.7" rx="1.55" ry="1.4"/>
<ellipse cx="620.3" cy="253.9" rx="1.55" ry="1.4"/>
<ellipse cx="620.3" cy="245.1" rx="1.55" ry="1.4"/>
<ellipse cx="620.3" cy="236.2" rx="1.55" ry="1.4"/>
<ellipse cx="620.3" cy="227.4" rx="1.55" ry="1.4"/>
<ellipse cx="620.3" cy="218.6" rx="1.55" ry="1.4"/>
<ellipse cx="620.3" cy="209.8" rx="1.55" ry="1.4"/>
<ellipse cx="620.3" cy="201.0" rx="1.55" ry="1.4"/>
<ellipse cx="620.3" cy="192.1" rx="1.55" ry="1.4"/>
<ellipse cx="620.3" cy="183.3" rx="1.55" ry="1.4"/>
<ellipse cx="620.3" cy="174.5" rx="1.55" ry="1.4"/>
<ellipse cx="620.3" cy="165.7" rx="1.55" ry="1.4"/>
<ellipse cx="620.3" cy="156.9" rx="1.55" ry="1.4"/>
<ellipse cx="620.3" cy="148.0" rx="1.55" ry="1.4"/>
<ellipse cx="620.3" cy="139.2" rx="1.55" ry="1.4"/>
<ellipse cx="620.3" cy="130.4" rx="1.55" ry="1.4"/>
<ellipse cx="620.3" cy="121.6" rx="1.55" ry="1.4"/>
<ellipse cx="620.3" cy="112.8" rx="1.55" ry="1.4"/>
<ellipse cx="620.3" cy="103.9" rx="1.55" ry="1.4"/>
<ellipse cx="634.3" cy="482.9" rx="1.6" ry="0.85"/>
<ellipse cx="634.3" cy="474.4" rx="1.55" ry="1.4"/>
<ellipse cx="634.3" cy="465.6" rx="1.55" ry="1.4"/>
<ellipse cx="634.3" cy="456.7" rx="1.55" ry="1.4"/>
<ellipse cx="634.3" cy="447.9" rx="1.55" ry="1.4"/>
<ellipse cx="634.3" cy="439.1" rx="1.55" ry="1.4"/>
<ellipse cx="634.3" cy="430.3" rx="1.55" ry="1.4"/>
<ellipse cx="634.3" cy="421.5" rx="1.55" ry="1.4"/>
<ellipse cx="634.3" cy="412.6" rx="1.55" ry="1.4"/>
<ellipse cx="634.3" cy="403.8" rx="1.55" ry="1.4"/>
<ellipse cx="634.3" cy="395.0" rx="1.55" ry="1.4"/>
<ellipse cx="634.3" cy="386.2" rx="1.55" ry="1.4"/>
<ellipse cx="634.3" cy="377.4" rx="1.55" ry="1.4"/>
<ellipse cx="634.3" cy="368.5" rx="1.55" ry="1.4"/>
<ellipse cx="634.3" cy="359.7" rx="1.55" ry="1.4"/>
<ellipse cx="634.3" cy="350.9" rx="1.55" ry="1.4"/>
<ellipse cx="634.3" cy="342.1" rx="1.55" ry="1.4"/>
<ellipse cx="634.3" cy="333.3" rx="1.55" ry="1.4"/>
<ellipse cx="634.3" cy="324.4" rx="1.55" ry="1.4"/>
<ellipse cx="634.3" cy="315.6" rx="1.55" ry="1.4"/>
<ellipse cx="634.3" cy="306.8" rx="1.55" ry="1.4"/>
<ellipse cx="634.3" cy="298.0" rx="1.55" ry="1.4"/>
<ellipse cx="634.3" cy="289.2" rx="1.55" ry="1.4"/>
<ellipse cx="634.3" cy="280.3" rx="1.55" ry="1.4"/>
<ellipse cx="634.3" cy="271.5" rx="1.55" ry="1.4"/>
<ellipse cx="634.3" cy="262.7" rx="1.55" ry="1.4"/>
<ellipse cx="634.3" cy="253.9" rx="1.55" ry="1.4"/>
<ellipse cx="634.3" cy="245.1" rx="1.55" ry="1.4"/>
<ellipse cx="634.3" cy="236.2" rx="1.55" ry="1.4"/>
<ellipse cx="634.3" cy="227.4" rx="1.55" ry="1.4"/>
<ellipse cx="634.3" cy="218.6" rx="1.55" ry="1.4"/>
<ellipse cx="634.3" cy="209.8" rx="1.55" ry="1.4"/>
<ellipse cx="634.3" cy="201.0" rx="1.55" ry="1.4"/>
<ellipse cx="634.3" cy="192.1" rx="1.55" ry="1.4"/>
<ellipse cx="634.3" cy="183.3" rx="1.55" ry="1.4"/>
<ellipse cx="634.3" cy="174.5" rx="1.55" ry="1.4"/>
<ellipse cx="634.3" cy="165.7" rx="1.55" ry="1.4"/>
<ellipse cx="634.3" cy="156.9" rx="1.55" ry="1.4"/>
<ellipse cx="634.3" cy="148.0" rx="1.55" ry="1.4"/>
<ellipse cx="634.3" cy="139.2" rx="1.55" ry="1.4"/>
<ellipse cx="634.3" cy="130.4" rx="1.55" ry="1.4"/>
<ellipse cx="634.3" cy="121.6" rx="1.55" ry="1.4"/>
<ellipse cx="634.3" cy="112.8" rx="1.55" ry="1.4"/>
<ellipse cx="634.3" cy="103.9" rx="1.55" ry="1.4"/>
<ellipse cx="648.4" cy="482.9" rx="1.6" ry="0.85"/>
<ellipse cx="648.4" cy="474.4" rx="1.55" ry="1.4"/>
<ellipse cx="648.4" cy="465.6" rx="1.55" ry="1.4"/>
<ellipse cx="648.4" cy="456.7" rx="1.55" ry="1.4"/>
<ellipse cx="648.4" cy="447.9" rx="1.55" ry="1.4"/>
<ellipse cx="648.4" cy="439.1" rx="1.55" ry="1.4"/>
<ellipse cx="648.4" cy="430.3" rx="1.55" ry="1.4"/>
<ellipse cx="648.4" cy="421.5" rx="1.55" ry="1.4"/>
<ellipse cx="648.4" cy="412.6" rx="1.55" ry="1.4"/>
<ellipse cx="648.4" cy="403.8" rx="1.55" ry="1.4"/>
<ellipse cx="648.4" cy="395.0" rx="1.55" ry="1.4"/>
<ellipse cx="648.4" cy="386.2" rx="1.55" ry="1.4"/>
<ellipse cx="648.4" cy="377.4" rx="1.55" ry="1.4"/>
<ellipse cx="648.4" cy="368.5" rx="1.55" ry="1.4"/>
<ellipse cx="648.4" cy="359.7" rx="1.55" ry="1.4"/>
<ellipse cx="648.4" cy="350.9" rx="1.55" ry="1.4"/>
<ellipse cx="648.4" cy="342.1" rx="1.55" ry="1.4"/>
<ellipse cx="648.4" cy="333.3" rx="1.55" ry="1.4"/>
<ellipse cx="648.4" cy="324.4" rx="1.55" ry="1.4"/>
<ellipse cx="648.4" cy="315.6" rx="1.55" ry="1.4"/>
<ellipse cx="648.4" cy="306.8" rx="1.55" ry="1.4"/>
<ellipse cx="648.4" cy="298.0" rx="1.55" ry="1.4"/>
<ellipse cx="648.4" cy="289.2" rx="1.55" ry="1.4"/>
<ellipse cx="648.4" cy="280.3" rx="1.55" ry="1.4"/>
<ellipse cx="648.4" cy="271.5" rx="1.55" ry="1.4"/>
<ellipse cx="648.4" cy="262.7" rx="1.55" ry="1.4"/>
<ellipse cx="648.4" cy="253.9" rx="1.55" ry="1.4"/>
<ellipse cx="648.4" cy="245.1" rx="1.55" ry="1.4"/>
<ellipse cx="648.4" cy="236.2" rx="1.55" ry="1.4"/>
<ellipse cx="648.4" cy="227.4" rx="1.55" ry="1.4"/>
<ellipse cx="648.4" cy="218.6" rx="1.55" ry="1.4"/>
<ellipse cx="648.4" cy="209.8" rx="1.55" ry="1.4"/>
<ellipse cx="648.4" cy="201.0" rx="1.55" ry="1.4"/>
<ellipse cx="648.4" cy="192.1" rx="1.55" ry="1.4"/>
<ellipse cx="648.4" cy="183.3" rx="1.55" ry="1.4"/>
<ellipse cx="648.4" cy="174.5" rx="1.55" ry="1.4"/>
<ellipse cx="648.4" cy="165.7" rx="1.55" ry="1.4"/>
<ellipse cx="648.4" cy="156.9" rx="1.55" ry="1.4"/>
<ellipse cx="648.4" cy="148.0" rx="1.55" ry="1.4"/>
<ellipse cx="648.4" cy="139.2" rx="1.55" ry="1.4"/>
<ellipse cx="648.4" cy="130.4" rx="1.55" ry="1.4"/>
<ellipse cx="648.4" cy="121.6" rx="1.55" ry="1.4"/>
<ellipse cx="648.4" cy="112.8" rx="1.55" ry="1.4"/>
<ellipse cx="648.4" cy="103.9" rx="1.55" ry="1.4"/>
<ellipse cx="662.4" cy="482.9" rx="1.6" ry="0.85"/>
<ellipse cx="662.4" cy="474.4" rx="1.55" ry="1.4"/>
<ellipse cx="662.4" cy="465.6" rx="1.55" ry="1.4"/>
<ellipse cx="662.4" cy="456.7" rx="1.55" ry="1.4"/>
<ellipse cx="662.4" cy="447.9" rx="1.55" ry="1.4"/>
<ellipse cx="662.4" cy="439.1" rx="1.55" ry="1.4"/>
<ellipse cx="662.4" cy="430.3" rx="1.55" ry="1.4"/>
<ellipse cx="662.4" cy="421.5" rx="1.55" ry="1.4"/>
<ellipse cx="662.4" cy="412.6" rx="1.55" ry="1.4"/>
<ellipse cx="662.4" cy="403.8" rx="1.55" ry="1.4"/>
<ellipse cx="662.4" cy="395.0" rx="1.55" ry="1.4"/>
<ellipse cx="662.4" cy="386.2" rx="1.55" ry="1.4"/>
<ellipse cx="662.4" cy="377.4" rx="1.55" ry="1.4"/>
<ellipse cx="662.4" cy="368.5" rx="1.55" ry="1.4"/>
<ellipse cx="662.4" cy="359.7" rx="1.55" ry="1.4"/>
<ellipse cx="662.4" cy="350.9" rx="1.55" ry="1.4"/>
<ellipse cx="662.4" cy="342.1" rx="1.55" ry="1.4"/>
<ellipse cx="662.4" cy="333.3" rx="1.55" ry="1.4"/>
<ellipse cx="662.4" cy="324.4" rx="1.55" ry="1.4"/>
<ellipse cx="662.4" cy="315.6" rx="1.55" ry="1.4"/>
<ellipse cx="662.4" cy="306.8" rx="1.55" ry="1.4"/>
<ellipse cx="662.4" cy="298.0" rx="1.55" ry="1.4"/>
<ellipse cx="662.4" cy="289.2" rx="1.55" ry="1.4"/>
<ellipse cx="662.4" cy="280.3" rx="1.55" ry="1.4"/>
<ellipse cx="662.4" cy="271.5" rx="1.55" ry="1.4"/>
<ellipse cx="662.4" cy="262.7" rx="1.55" ry="1.4"/>
<ellipse cx="662.4" cy="253.9" rx="1.55" ry="1.4"/>
<ellipse cx="662.4" cy="245.1" rx="1.55" ry="1.4"/>
<ellipse cx="662.4" cy="236.2" rx="1.55" ry="1.4"/>
<ellipse cx="662.4" cy="227.4" rx="1.55" ry="1.4"/>
<ellipse cx="662.4" cy="218.6" rx="1.55" ry="1.4"/>
<ellipse cx="662.4" cy="209.8" rx="1.55" ry="1.4"/>
<ellipse cx="662.4" cy="201.0" rx="1.55" ry="1.4"/>
<ellipse cx="662.4" cy="192.1" rx="1.55" ry="1.4"/>
<ellipse cx="662.4" cy="183.3" rx="1.55" ry="1.4"/>
<ellipse cx="662.4" cy="174.5" rx="1.55" ry="1.4"/>
<ellipse cx="662.4" cy="165.7" rx="1.55" ry="1.4"/>
<ellipse cx="662.4" cy="156.9" rx="1.55" ry="1.4"/>
<ellipse cx="662.4" cy="148.0" rx="1.55" ry="1.4"/>
<ellipse cx="662.4" cy="139.2" rx="1.55" ry="1.4"/>
<ellipse cx="662.4" cy="130.4" rx="1.55" ry="1.4"/>
<ellipse cx="662.4" cy="121.6" rx="1.55" ry="1.4"/>
<ellipse cx="662.4" cy="112.8" rx="1.55" ry="1.4"/>
<ellipse cx="662.4" cy="103.9" rx="1.55" ry="1.4"/>
<ellipse cx="676.4" cy="482.9" rx="1.6" ry="0.85"/>
<ellipse cx="676.4" cy="474.4" rx="1.55" ry="1.4"/>
<ellipse cx="676.4" cy="465.6" rx="1.55" ry="1.4"/>
<ellipse cx="676.4" cy="456.7" rx="1.55" ry="1.4"/>
<ellipse cx="676.4" cy="447.9" rx="1.55" ry="1.4"/>
<ellipse cx="676.4" cy="439.1" rx="1.55" ry="1.4"/>
<ellipse cx="676.4" cy="430.3" rx="1.55" ry="1.4"/>
<ellipse cx="676.4" cy="421.5" rx="1.55" ry="1.4"/>
<ellipse cx="676.4" cy="412.6" rx="1.55" ry="1.4"/>
<ellipse cx="676.4" cy="403.8" rx="1.55" ry="1.4"/>
<ellipse cx="676.4" cy="395.0" rx="1.55" ry="1.4"/>
<ellipse cx="676.4" cy="386.2" rx="1.55" ry="1.4"/>
<ellipse cx="676.4" cy="377.4" rx="1.55" ry="1.4"/>
<ellipse cx="676.4" cy="368.5" rx="1.55" ry="1.4"/>
<ellipse cx="676.4" cy="359.7" rx="1.55" ry="1.4"/>
<ellipse cx="676.4" cy="350.9" rx="1.55" ry="1.4"/>
<ellipse cx="676.4" cy="342.1" rx="1.55" ry="1.4"/>
<ellipse cx="676.4" cy="333.3" rx="1.55" ry="1.4"/>
<ellipse cx="676.4" cy="324.4" rx="1.55" ry="1.4"/>
<ellipse cx="676.4" cy="315.6" rx="1.55" ry="1.4"/>
<ellipse cx="676.4" cy="306.8" rx="1.55" ry="1.4"/>
<ellipse cx="676.4" cy="298.0" rx="1.55" ry="1.4"/>
<ellipse cx="676.4" cy="289.2" rx="1.55" ry="1.4"/>
<ellipse cx="676.4" cy="280.3" rx="1.55" ry="1.4"/>
<ellipse cx="676.4" cy="271.5" rx="1.55" ry="1.4"/>
<ellipse cx="676.4" cy="262.7" rx="1.55" ry="1.4"/>
<ellipse cx="676.4" cy="253.9" rx="1.55" ry="1.4"/>
<ellipse cx="676.4" cy="245.1" rx="1.55" ry="1.4"/>
<ellipse cx="676.4" cy="236.2" rx="1.55" ry="1.4"/>
<ellipse cx="676.4" cy="227.4" rx="1.55" ry="1.4"/>
<ellipse cx="676.4" cy="218.6" rx="1.55" ry="1.4"/>
<ellipse cx="676.4" cy="209.8" rx="1.55" ry="1.4"/>
<ellipse cx="676.4" cy="201.0" rx="1.55" ry="1.4"/>
<ellipse cx="676.4" cy="192.1" rx="1.55" ry="1.4"/>
<ellipse cx="676.4" cy="183.3" rx="1.55" ry="1.4"/>
<ellipse cx="676.4" cy="174.5" rx="1.55" ry="1.4"/>
<ellipse cx="676.4" cy="165.7" rx="1.55" ry="1.4"/>
<ellipse cx="676.4" cy="156.9" rx="1.55" ry="1.4"/>
<ellipse cx="676.4" cy="148.0" rx="1.55" ry="1.4"/>
<ellipse cx="676.4" cy="139.2" rx="1.55" ry="1.4"/>
<ellipse cx="676.4" cy="130.4" rx="1.55" ry="1.4"/>
<ellipse cx="676.4" cy="121.6" rx="1.55" ry="1.4"/>
<ellipse cx="676.4" cy="112.8" rx="1.55" ry="1.4"/>
<ellipse cx="676.4" cy="103.9" rx="1.55" ry="1.4"/>
<ellipse cx="690.5" cy="482.9" rx="1.6" ry="0.85"/>
<ellipse cx="690.5" cy="474.4" rx="1.55" ry="1.4"/>
<ellipse cx="690.5" cy="465.6" rx="1.55" ry="1.4"/>
<ellipse cx="690.5" cy="456.7" rx="1.55" ry="1.4"/>
<ellipse cx="690.5" cy="447.9" rx="1.55" ry="1.4"/>
<ellipse cx="690.5" cy="439.1" rx="1.55" ry="1.4"/>
<ellipse cx="690.5" cy="430.3" rx="1.55" ry="1.4"/>
<ellipse cx="690.5" cy="421.5" rx="1.55" ry="1.4"/>
<ellipse cx="690.5" cy="412.6" rx="1.55" ry="1.4"/>
<ellipse cx="690.5" cy="403.8" rx="1.55" ry="1.4"/>
<ellipse cx="690.5" cy="395.0" rx="1.55" ry="1.4"/>
<ellipse cx="690.5" cy="386.2" rx="1.55" ry="1.4"/>
<ellipse cx="690.5" cy="377.4" rx="1.55" ry="1.4"/>
<ellipse cx="690.5" cy="368.5" rx="1.55" ry="1.4"/>
<ellipse cx="690.5" cy="359.7" rx="1.55" ry="1.4"/>
<ellipse cx="690.5" cy="350.9" rx="1.55" ry="1.4"/>
<ellipse cx="690.5" cy="342.1" rx="1.55" ry="1.4"/>
<ellipse cx="690.5" cy="333.3" rx="1.55" ry="1.4"/>
<ellipse cx="690.5" cy="324.4" rx="1.55" ry="1.4"/>
<ellipse cx="690.5" cy="315.6" rx="1.55" ry="1.4"/>
<ellipse cx="690.5" cy="306.8" rx="1.55" ry="1.4"/>
<ellipse cx="690.5" cy="298.0" rx="1.55" ry="1.4"/>
<ellipse cx="690.5" cy="289.2" rx="1.55" ry="1.4"/>
<ellipse cx="690.5" cy="280.3" rx="1.55" ry="1.4"/>
<ellipse cx="690.5" cy="271.5" rx="1.55" ry="1.4"/>
<ellipse cx="690.5" cy="262.7" rx="1.55" ry="1.4"/>
<ellipse cx="690.5" cy="253.9" rx="1.55" ry="1.4"/>
<ellipse cx="690.5" cy="245.1" rx="1.55" ry="1.4"/>
<ellipse cx="690.5" cy="236.2" rx="1.55" ry="1.4"/>
<ellipse cx="690.5" cy="227.4" rx="1.55" ry="1.4"/>
<ellipse cx="690.5" cy="218.6" rx="1.55" ry="1.4"/>
<ellipse cx="690.5" cy="209.8" rx="1.55" ry="1.4"/>
<ellipse cx="690.5" cy="201.0" rx="1.55" ry="1.4"/>
<ellipse cx="690.5" cy="192.1" rx="1.55" ry="1.4"/>
<ellipse cx="690.5" cy="183.3" rx="1.55" ry="1.4"/>
<ellipse cx="690.5" cy="174.5" rx="1.55" ry="1.4"/>
<ellipse cx="690.5" cy="165.7" rx="1.55" ry="1.4"/>
<ellipse cx="690.5" cy="156.9" rx="1.55" ry="1.4"/>
<ellipse cx="690.5" cy="148.0" rx="1.55" ry="1.4"/>
<ellipse cx="690.5" cy="139.2" rx="1.55" ry="1.4"/>
<ellipse cx="690.5" cy="130.4" rx="1.55" ry="1.4"/>
<ellipse cx="690.5" cy="121.6" rx="1.55" ry="1.4"/>
<ellipse cx="690.5" cy="112.8" rx="1.55" ry="1.4"/>
<ellipse cx="690.5" cy="103.9" rx="1.55" ry="1.4"/>
<ellipse cx="704.5" cy="482.9" rx="1.6" ry="0.85"/>
<ellipse cx="704.5" cy="474.4" rx="1.55" ry="1.4"/>
<ellipse cx="704.5" cy="465.6" rx="1.55" ry="1.4"/>
<ellipse cx="704.5" cy="456.7" rx="1.55" ry="1.4"/>
<ellipse cx="704.5" cy="447.9" rx="1.55" ry="1.4"/>
<ellipse cx="704.5" cy="439.1" rx="1.55" ry="1.4"/>
<ellipse cx="704.5" cy="430.3" rx="1.55" ry="1.4"/>
<ellipse cx="704.5" cy="421.5" rx="1.55" ry="1.4"/>
<ellipse cx="704.5" cy="412.6" rx="1.55" ry="1.4"/>
<ellipse cx="704.5" cy="403.8" rx="1.55" ry="1.4"/>
<ellipse cx="704.5" cy="395.0" rx="1.55" ry="1.4"/>
<ellipse cx="704.5" cy="386.2" rx="1.55" ry="1.4"/>
<ellipse cx="704.5" cy="377.4" rx="1.55" ry="1.4"/>
<ellipse cx="704.5" cy="368.5" rx="1.55" ry="1.4"/>
<ellipse cx="704.5" cy="359.7" rx="1.55" ry="1.4"/>
<ellipse cx="704.5" cy="350.9" rx="1.55" ry="1.4"/>
<ellipse cx="704.5" cy="342.1" rx="1.55" ry="1.4"/>
<ellipse cx="704.5" cy="333.3" rx="1.55" ry="1.4"/>
<ellipse cx="704.5" cy="324.4" rx="1.55" ry="1.4"/>
<ellipse cx="704.5" cy="315.6" rx="1.55" ry="1.4"/>
<ellipse cx="704.5" cy="306.8" rx="1.55" ry="1.4"/>
<ellipse cx="704.5" cy="298.0" rx="1.55" ry="1.4"/>
<ellipse cx="704.5" cy="289.2" rx="1.55" ry="1.4"/>
<ellipse cx="704.5" cy="280.3" rx="1.55" ry="1.4"/>
<ellipse cx="704.5" cy="271.5" rx="1.55" ry="1.4"/>
<ellipse cx="704.5" cy="262.7" rx="1.55" ry="1.4"/>
<ellipse cx="704.5" cy="253.9" rx="1.55" ry="1.4"/>
<ellipse cx="704.5" cy="245.1" rx="1.55" ry="1.4"/>
<ellipse cx="704.5" cy="236.2" rx="1.55" ry="1.4"/>
<ellipse cx="704.5" cy="227.4" rx="1.55" ry="1.4"/>
<ellipse cx="704.5" cy="218.6" rx="1.55" ry="1.4"/>
<ellipse cx="704.5" cy="209.8" rx="1.55" ry="1.4"/>
<ellipse cx="704.5" cy="201.0" rx="1.55" ry="1.4"/>
<ellipse cx="704.5" cy="192.1" rx="1.55" ry="1.4"/>
<ellipse cx="704.5" cy="183.3" rx="1.55" ry="1.4"/>
<ellipse cx="704.5" cy="174.5" rx="1.55" ry="1.4"/>
<ellipse cx="704.5" cy="165.7" rx="1.55" ry="1.4"/>
<ellipse cx="704.5" cy="156.9" rx="1.55" ry="1.4"/>
<ellipse cx="704.5" cy="148.0" rx="1.55" ry="1.4"/>
<ellipse cx="704.5" cy="139.2" rx="1.55" ry="1.4"/>
<ellipse cx="704.5" cy="130.4" rx="1.55" ry="1.4"/>
<ellipse cx="704.5" cy="121.6" rx="1.55" ry="1.4"/>
<ellipse cx="704.5" cy="112.8" rx="1.55" ry="1.4"/>
<ellipse cx="704.5" cy="103.9" rx="1.55" ry="1.4"/>
<ellipse cx="718.6" cy="482.9" rx="1.6" ry="0.85"/>
<ellipse cx="718.6" cy="474.4" rx="1.55" ry="1.4"/>
<ellipse cx="718.6" cy="465.6" rx="1.55" ry="1.4"/>
<ellipse cx="718.6" cy="456.7" rx="1.55" ry="1.4"/>
<ellipse cx="718.6" cy="447.9" rx="1.55" ry="1.4"/>
<ellipse cx="718.6" cy="439.1" rx="1.55" ry="1.4"/>
<ellipse cx="718.6" cy="430.3" rx="1.55" ry="1.4"/>
<ellipse cx="718.6" cy="421.5" rx="1.55" ry="1.4"/>
<ellipse cx="718.6" cy="412.6" rx="1.55" ry="1.4"/>
<ellipse cx="718.6" cy="403.8" rx="1.55" ry="1.4"/>
<ellipse cx="718.6" cy="395.0" rx="1.55" ry="1.4"/>
<ellipse cx="718.6" cy="386.2" rx="1.55" ry="1.4"/>
<ellipse cx="718.6" cy="377.4" rx="1.55" ry="1.4"/>
<ellipse cx="718.6" cy="368.5" rx="1.55" ry="1.4"/>
<ellipse cx="718.6" cy="359.7" rx="1.55" ry="1.4"/>
<ellipse cx="718.6" cy="350.9" rx="1.55" ry="1.4"/>
<ellipse cx="718.6" cy="342.1" rx="1.55" ry="1.4"/>
<ellipse cx="718.6" cy="333.3" rx="1.55" ry="1.4"/>
<ellipse cx="718.6" cy="324.4" rx="1.55" ry="1.4"/>
<ellipse cx="718.6" cy="315.6" rx="1.55" ry="1.4"/>
<ellipse cx="718.6" cy="306.8" rx="1.55" ry="1.4"/>
<ellipse cx="718.6" cy="298.0" rx="1.55" ry="1.4"/>
<ellipse cx="718.6" cy="289.2" rx="1.55" ry="1.4"/>
<ellipse cx="718.6" cy="280.3" rx="1.55" ry="1.4"/>
<ellipse cx="718.6" cy="271.5" rx="1.55" ry="1.4"/>
<ellipse cx="718.6" cy="262.7" rx="1.55" ry="1.4"/>
<ellipse cx="718.6" cy="253.9" rx="1.55" ry="1.4"/>
<ellipse cx="718.6" cy="245.1" rx="1.55" ry="1.4"/>
<ellipse cx="718.6" cy="236.2" rx="1.55" ry="1.4"/>
<ellipse cx="718.6" cy="227.4" rx="1.55" ry="1.4"/>
<ellipse cx="718.6" cy="218.6" rx="1.55" ry="1.4"/>
<ellipse cx="718.6" cy="209.8" rx="1.55" ry="1.4"/>
<ellipse cx="718.6" cy="201.0" rx="1.55" ry="1.4"/>
<ellipse cx="718.6" cy="192.1" rx="1.55" ry="1.4"/>
<ellipse cx="718.6" cy="183.3" rx="1.55" ry="1.4"/>
<ellipse cx="718.6" cy="174.5" rx="1.55" ry="1.4"/>
<ellipse cx="718.6" cy="165.7" rx="1.55" ry="1.4"/>
<ellipse cx="718.6" cy="156.9" rx="1.55" ry="1.4"/>
<ellipse cx="718.6" cy="148.0" rx="1.55" ry="1.4"/>
<ellipse cx="718.6" cy="139.2" rx="1.55" ry="1.4"/>
<ellipse cx="718.6" cy="130.4" rx="1.55" ry="1.4"/>
<ellipse cx="718.6" cy="121.6" rx="1.55" ry="1.4"/>
<ellipse cx="718.6" cy="112.8" rx="1.55" ry="1.4"/>
<ellipse cx="718.6" cy="103.9" rx="1.55" ry="1.4"/>
<ellipse cx="732.6" cy="482.9" rx="1.6" ry="0.85"/>
<ellipse cx="732.6" cy="474.4" rx="1.55" ry="1.4"/>
<ellipse cx="732.6" cy="465.6" rx="1.55" ry="1.4"/>
<ellipse cx="732.6" cy="456.7" rx="1.55" ry="1.4"/>
<ellipse cx="732.6" cy="447.9" rx="1.55" ry="1.4"/>
<ellipse cx="732.6" cy="439.1" rx="1.55" ry="1.4"/>
<ellipse cx="732.6" cy="430.3" rx="1.55" ry="1.4"/>
<ellipse cx="732.6" cy="421.5" rx="1.55" ry="1.4"/>
<ellipse cx="732.6" cy="412.6" rx="1.55" ry="1.4"/>
<ellipse cx="732.6" cy="403.8" rx="1.55" ry="1.4"/>
<ellipse cx="732.6" cy="395.0" rx="1.55" ry="1.4"/>
<ellipse cx="732.6" cy="386.2" rx="1.55" ry="1.4"/>
<ellipse cx="732.6" cy="377.4" rx="1.55" ry="1.4"/>
<ellipse cx="732.6" cy="368.5" rx="1.55" ry="1.4"/>
<ellipse cx="732.6" cy="359.7" rx="1.55" ry="1.4"/>
<ellipse cx="732.6" cy="350.9" rx="1.55" ry="1.4"/>
<ellipse cx="732.6" cy="342.1" rx="1.55" ry="1.4"/>
<ellipse cx="732.6" cy="333.3" rx="1.55" ry="1.4"/>
<ellipse cx="732.6" cy="324.4" rx="1.55" ry="1.4"/>
<ellipse cx="732.6" cy="315.6" rx="1.55" ry="1.4"/>
<ellipse cx="732.6" cy="306.8" rx="1.55" ry="1.4"/>
<ellipse cx="732.6" cy="298.0" rx="1.55" ry="1.4"/>
<ellipse cx="732.6" cy="289.2" rx="1.55" ry="1.4"/>
<ellipse cx="732.6" cy="280.3" rx="1.55" ry="1.4"/>
<ellipse cx="732.6" cy="271.5" rx="1.55" ry="1.4"/>
<ellipse cx="732.6" cy="262.7" rx="1.55" ry="1.4"/>
<ellipse cx="732.6" cy="253.9" rx="1.55" ry="1.4"/>
<ellipse cx="732.6" cy="245.1" rx="1.55" ry="1.4"/>
<ellipse cx="732.6" cy="236.2" rx="1.55" ry="1.4"/>
<ellipse cx="732.6" cy="227.4" rx="1.55" ry="1.4"/>
<ellipse cx="732.6" cy="218.6" rx="1.55" ry="1.4"/>
<ellipse cx="732.6" cy="209.8" rx="1.55" ry="1.4"/>
<ellipse cx="732.6" cy="201.0" rx="1.55" ry="1.4"/>
<ellipse cx="732.6" cy="192.1" rx="1.55" ry="1.4"/>
<ellipse cx="732.6" cy="183.3" rx="1.55" ry="1.4"/>
<ellipse cx="732.6" cy="174.5" rx="1.55" ry="1.4"/>
<ellipse cx="732.6" cy="165.7" rx="1.55" ry="1.4"/>
<ellipse cx="732.6" cy="156.9" rx="1.55" ry="1.4"/>
<ellipse cx="732.6" cy="148.0" rx="1.55" ry="1.4"/>
<ellipse cx="732.6" cy="139.2" rx="1.55" ry="1.4"/>
<ellipse cx="732.6" cy="130.4" rx="1.55" ry="1.4"/>
<ellipse cx="732.6" cy="121.6" rx="1.55" ry="1.4"/>
<ellipse cx="732.6" cy="112.8" rx="1.55" ry="1.4"/>
<ellipse cx="732.6" cy="103.9" rx="1.55" ry="1.4"/>
<ellipse cx="746.6" cy="482.9" rx="1.6" ry="0.85"/>
<ellipse cx="746.6" cy="474.4" rx="1.55" ry="1.4"/>
<ellipse cx="746.6" cy="465.6" rx="1.55" ry="1.4"/>
<ellipse cx="746.6" cy="456.7" rx="1.55" ry="1.4"/>
<ellipse cx="746.6" cy="447.9" rx="1.55" ry="1.4"/>
<ellipse cx="746.6" cy="439.1" rx="1.55" ry="1.4"/>
<ellipse cx="746.6" cy="430.3" rx="1.55" ry="1.4"/>
<ellipse cx="746.6" cy="421.5" rx="1.55" ry="1.4"/>
<ellipse cx="746.6" cy="412.6" rx="1.55" ry="1.4"/>
<ellipse cx="746.6" cy="403.8" rx="1.55" ry="1.4"/>
<ellipse cx="746.6" cy="395.0" rx="1.55" ry="1.4"/>
<ellipse cx="746.6" cy="386.2" rx="1.55" ry="1.4"/>
<ellipse cx="746.6" cy="377.4" rx="1.55" ry="1.4"/>
<ellipse cx="746.6" cy="368.5" rx="1.55" ry="1.4"/>
<ellipse cx="746.6" cy="359.7" rx="1.55" ry="1.4"/>
<ellipse cx="746.6" cy="350.9" rx="1.55" ry="1.4"/>
<ellipse cx="746.6" cy="342.1" rx="1.55" ry="1.4"/>
<ellipse cx="746.6" cy="333.3" rx="1.55" ry="1.4"/>
<ellipse cx="746.6" cy="324.4" rx="1.55" ry="1.4"/>
<ellipse cx="746.6" cy="315.6" rx="1.55" ry="1.4"/>
<ellipse cx="746.6" cy="306.8" rx="1.55" ry="1.4"/>
<ellipse cx="746.6" cy="298.0" rx="1.55" ry="1.4"/>
<ellipse cx="746.6" cy="289.2" rx="1.55" ry="1.4"/>
<ellipse cx="746.6" cy="280.3" rx="1.55" ry="1.4"/>
<ellipse cx="746.6" cy="271.5" rx="1.55" ry="1.4"/>
<ellipse cx="746.6" cy="262.7" rx="1.55" ry="1.4"/>
<ellipse cx="746.6" cy="253.9" rx="1.55" ry="1.4"/>
<ellipse cx="746.6" cy="245.1" rx="1.55" ry="1.4"/>
<ellipse cx="746.6" cy="236.2" rx="1.55" ry="1.4"/>
<ellipse cx="746.6" cy="227.4" rx="1.55" ry="1.4"/>
<ellipse cx="746.6" cy="218.6" rx="1.55" ry="1.4"/>
<ellipse cx="746.6" cy="209.8" rx="1.55" ry="1.4"/>
<ellipse cx="746.6" cy="201.0" rx="1.55" ry="1.4"/>
<ellipse cx="746.6" cy="192.1" rx="1.55" ry="1.4"/>
<ellipse cx="746.6" cy="183.3" rx="1.55" ry="1.4"/>
<ellipse cx="746.6" cy="174.5" rx="1.55" ry="1.4"/>
<ellipse cx="746.6" cy="165.7" rx="1.55" ry="1.4"/>
<ellipse cx="746.6" cy="156.9" rx="1.55" ry="1.4"/>
<ellipse cx="746.6" cy="148.0" rx="1.55" ry="1.4"/>
<ellipse cx="746.6" cy="139.2" rx="1.55" ry="1.4"/>
<ellipse cx="746.6" cy="130.4" rx="1.55" ry="1.4"/>
<ellipse cx="746.6" cy="121.6" rx="1.55" ry="1.4"/>
<ellipse cx="746.6" cy="112.8" rx="1.55" ry="1.4"/>
<ellipse cx="746.6" cy="103.9" rx="1.55" ry="1.4"/>
<ellipse cx="760.7" cy="482.9" rx="1.6" ry="0.85"/>
<ellipse cx="760.7" cy="474.4" rx="1.55" ry="1.4"/>
<ellipse cx="760.7" cy="465.6" rx="1.55" ry="1.4"/>
<ellipse cx="760.7" cy="456.7" rx="1.55" ry="1.4"/>
<ellipse cx="760.7" cy="447.9" rx="1.55" ry="1.4"/>
<ellipse cx="760.7" cy="439.1" rx="1.55" ry="1.4"/>
<ellipse cx="760.7" cy="430.3" rx="1.55" ry="1.4"/>
<ellipse cx="760.7" cy="421.5" rx="1.55" ry="1.4"/>
<ellipse cx="760.7" cy="412.6" rx="1.55" ry="1.4"/>
<ellipse cx="760.7" cy="403.8" rx="1.55" ry="1.4"/>
<ellipse cx="760.7" cy="395.0" rx="1.55" ry="1.4"/>
<ellipse cx="760.7" cy="386.2" rx="1.55" ry="1.4"/>
<ellipse cx="760.7" cy="377.4" rx="1.55" ry="1.4"/>
<ellipse cx="760.7" cy="368.5" rx="1.55" ry="1.4"/>
<ellipse cx="760.7" cy="359.7" rx="1.55" ry="1.4"/>
<ellipse cx="760.7" cy="350.9" rx="1.55" ry="1.4"/>
<ellipse cx="760.7" cy="342.1" rx="1.55" ry="1.4"/>
<ellipse cx="760.7" cy="333.3" rx="1.55" ry="1.4"/>
<ellipse cx="760.7" cy="324.4" rx="1.55" ry="1.4"/>
<ellipse cx="760.7" cy="315.6" rx="1.55" ry="1.4"/>
<ellipse cx="760.7" cy="306.8" rx="1.55" ry="1.4"/>
<ellipse cx="760.7" cy="298.0" rx="1.55" ry="1.4"/>
<ellipse cx="760.7" cy="289.2" rx="1.55" ry="1.4"/>
<ellipse cx="760.7" cy="280.3" rx="1.55" ry="1.4"/>
<ellipse cx="760.7" cy="271.5" rx="1.55" ry="1.4"/>
<ellipse cx="760.7" cy="262.7" rx="1.55" ry="1.4"/>
<ellipse cx="760.7" cy="253.9" rx="1.55" ry="1.4"/>
<ellipse cx="760.7" cy="245.1" rx="1.55" ry="1.4"/>
<ellipse cx="760.7" cy="236.2" rx="1.55" ry="1.4"/>
<ellipse cx="760.7" cy="227.4" rx="1.55" ry="1.4"/>
<ellipse cx="760.7" cy="218.6" rx="1.55" ry="1.4"/>
<ellipse cx="760.7" cy="209.8" rx="1.55" ry="1.4"/>
<ellipse cx="760.7" cy="201.0" rx="1.55" ry="1.4"/>
<ellipse cx="760.7" cy="192.1" rx="1.55" ry="1.4"/>
<ellipse cx="760.7" cy="183.3" rx="1.55" ry="1.4"/>
<ellipse cx="760.7" cy="174.5" rx="1.55" ry="1.4"/>
<ellipse cx="760.7" cy="165.7" rx="1.55" ry="1.4"/>
<ellipse cx="760.7" cy="156.9" rx="1.55" ry="1.4"/>
<ellipse cx="760.7" cy="148.0" rx="1.55" ry="1.4"/>
<ellipse cx="760.7" cy="139.2" rx="1.55" ry="1.4"/>
<ellipse cx="760.7" cy="130.4" rx="1.55" ry="1.4"/>
<ellipse cx="760.7" cy="121.6" rx="1.55" ry="1.4"/>
<ellipse cx="760.7" cy="112.8" rx="1.55" ry="1.4"/>
<ellipse cx="760.7" cy="103.9" rx="1.55" ry="1.4"/>
<ellipse cx="774.7" cy="482.9" rx="1.6" ry="0.85"/>
<ellipse cx="774.7" cy="474.4" rx="1.55" ry="1.4"/>
<ellipse cx="774.7" cy="465.6" rx="1.55" ry="1.4"/>
<ellipse cx="774.7" cy="456.7" rx="1.55" ry="1.4"/>
<ellipse cx="774.7" cy="447.9" rx="1.55" ry="1.4"/>
<ellipse cx="774.7" cy="439.1" rx="1.55" ry="1.4"/>
<ellipse cx="774.7" cy="430.3" rx="1.55" ry="1.4"/>
<ellipse cx="774.7" cy="421.5" rx="1.55" ry="1.4"/>
<ellipse cx="774.7" cy="412.6" rx="1.55" ry="1.4"/>
<ellipse cx="774.7" cy="403.8" rx="1.55" ry="1.4"/>
<ellipse cx="774.7" cy="395.0" rx="1.55" ry="1.4"/>
<ellipse cx="774.7" cy="386.2" rx="1.55" ry="1.4"/>
<ellipse cx="774.7" cy="377.4" rx="1.55" ry="1.4"/>
<ellipse cx="774.7" cy="368.5" rx="1.55" ry="1.4"/>
<ellipse cx="774.7" cy="359.7" rx="1.55" ry="1.4"/>
<ellipse cx="774.7" cy="350.9" rx="1.55" ry="1.4"/>
<ellipse cx="774.7" cy="342.1" rx="1.55" ry="1.4"/>
<ellipse cx="774.7" cy="333.3" rx="1.55" ry="1.4"/>
<ellipse cx="774.7" cy="324.4" rx="1.55" ry="1.4"/>
<ellipse cx="774.7" cy="315.6" rx="1.55" ry="1.4"/>
<ellipse cx="774.7" cy="306.8" rx="1.55" ry="1.4"/>
<ellipse cx="774.7" cy="298.0" rx="1.55" ry="1.4"/>
<ellipse cx="774.7" cy="289.2" rx="1.55" ry="1.4"/>
<ellipse cx="774.7" cy="280.3" rx="1.55" ry="1.4"/>
<ellipse cx="774.7" cy="271.5" rx="1.55" ry="1.4"/>
<ellipse cx="774.7" cy="262.7" rx="1.55" ry="1.4"/>
<ellipse cx="774.7" cy="253.9" rx="1.55" ry="1.4"/>
<ellipse cx="774.7" cy="245.1" rx="1.55" ry="1.4"/>
<ellipse cx="774.7" cy="236.2" rx="1.55" ry="1.4"/>
<ellipse cx="774.7" cy="227.4" rx="1.55" ry="1.4"/>
<ellipse cx="774.7" cy="218.6" rx="1.55" ry="1.4"/>
<ellipse cx="774.7" cy="209.8" rx="1.55" ry="1.4"/>
<ellipse cx="774.7" cy="201.0" rx="1.55" ry="1.4"/>
<ellipse cx="774.7" cy="192.1" rx="1.55" ry="1.4"/>
<ellipse cx="774.7" cy="183.3" rx="1.55" ry="1.4"/>
<ellipse cx="774.7" cy="174.5" rx="1.55" ry="1.4"/>
<ellipse cx="774.7" cy="165.7" rx="1.55" ry="1.4"/>
<ellipse cx="774.7" cy="156.9" rx="1.55" ry="1.4"/>
<ellipse cx="774.7" cy="148.0" rx="1.55" ry="1.4"/>
<ellipse cx="774.7" cy="139.2" rx="1.55" ry="1.4"/>
<ellipse cx="774.7" cy="130.4" rx="1.55" ry="1.4"/>
<ellipse cx="774.7" cy="121.6" rx="1.55" ry="1.4"/>
<ellipse cx="774.7" cy="112.8" rx="1.55" ry="1.4"/>
<ellipse cx="774.7" cy="103.9" rx="1.55" ry="1.4"/>
<ellipse cx="788.8" cy="482.9" rx="1.6" ry="0.85"/>
<ellipse cx="788.8" cy="474.4" rx="1.55" ry="1.4"/>
<ellipse cx="788.8" cy="465.6" rx="1.55" ry="1.4"/>
<ellipse cx="788.8" cy="456.7" rx="1.55" ry="1.4"/>
<ellipse cx="788.8" cy="447.9" rx="1.55" ry="1.4"/>
<ellipse cx="788.8" cy="439.1" rx="1.55" ry="1.4"/>
<ellipse cx="788.8" cy="430.3" rx="1.55" ry="1.4"/>
<ellipse cx="788.8" cy="421.5" rx="1.55" ry="1.4"/>
<ellipse cx="788.8" cy="412.6" rx="1.55" ry="1.4"/>
<ellipse cx="788.8" cy="403.8" rx="1.55" ry="1.4"/>
<ellipse cx="788.8" cy="395.0" rx="1.55" ry="1.4"/>
<ellipse cx="788.8" cy="386.2" rx="1.55" ry="1.4"/>
<ellipse cx="788.8" cy="377.4" rx="1.55" ry="1.4"/>
<ellipse cx="788.8" cy="368.5" rx="1.55" ry="1.4"/>
<ellipse cx="788.8" cy="359.7" rx="1.55" ry="1.4"/>
<ellipse cx="788.8" cy="350.9" rx="1.55" ry="1.4"/>
<ellipse cx="788.8" cy="342.1" rx="1.55" ry="1.4"/>
<ellipse cx="788.8" cy="333.3" rx="1.55" ry="1.4"/>
<ellipse cx="788.8" cy="324.4" rx="1.55" ry="1.4"/>
<ellipse cx="788.8" cy="315.6" rx="1.55" ry="1.4"/>
<ellipse cx="788.8" cy="306.8" rx="1.55" ry="1.4"/>
<ellipse cx="788.8" cy="298.0" rx="1.55" ry="1.4"/>
<ellipse cx="788.8" cy="289.2" rx="1.55" ry="1.4"/>
<ellipse cx="788.8" cy="280.3" rx="1.55" ry="1.4"/>
<ellipse cx="788.8" cy="271.5" rx="1.55" ry="1.4"/>
<ellipse cx="788.8" cy="262.7" rx="1.55" ry="1.4"/>
<ellipse cx="788.8" cy="253.9" rx="1.55" ry="1.4"/>
<ellipse cx="788.8" cy="245.1" rx="1.55" ry="1.4"/>
<ellipse cx="788.8" cy="236.2" rx="1.55" ry="1.4"/>
<ellipse cx="788.8" cy="227.4" rx="1.55" ry="1.4"/>
<ellipse cx="788.8" cy="218.6" rx="1.55" ry="1.4"/>
<ellipse cx="788.8" cy="209.8" rx="1.55" ry="1.4"/>
<ellipse cx="788.8" cy="201.0" rx="1.55" ry="1.4"/>
<ellipse cx="788.8" cy="192.1" rx="1.55" ry="1.4"/>
<ellipse cx="788.8" cy="183.3" rx="1.55" ry="1.4"/>
<ellipse cx="788.8" cy="174.5" rx="1.55" ry="1.4"/>
<ellipse cx="788.8" cy="165.7" rx="1.55" ry="1.4"/>
<ellipse cx="788.8" cy="156.9" rx="1.55" ry="1.4"/>
<ellipse cx="788.8" cy="148.0" rx="1.55" ry="1.4"/>
<ellipse cx="788.8" cy="139.2" rx="1.55" ry="1.4"/>
<ellipse cx="788.8" cy="130.4" rx="1.55" ry="1.4"/>
<ellipse cx="788.8" cy="121.6" rx="1.55" ry="1.4"/>
<ellipse cx="788.8" cy="112.8" rx="1.55" ry="1.4"/>
<ellipse cx="788.8" cy="103.9" rx="1.55" ry="1.4"/>
<ellipse cx="802.8" cy="482.9" rx="1.6" ry="0.85"/>
<ellipse cx="802.8" cy="474.4" rx="1.55" ry="1.4"/>
<ellipse cx="802.8" cy="465.6" rx="1.55" ry="1.4"/>
<ellipse cx="802.8" cy="456.7" rx="1.55" ry="1.4"/>
<ellipse cx="802.8" cy="447.9" rx="1.55" ry="1.4"/>
<ellipse cx="802.8" cy="439.1" rx="1.55" ry="1.4"/>
<ellipse cx="802.8" cy="430.3" rx="1.55" ry="1.4"/>
<ellipse cx="802.8" cy="421.5" rx="1.55" ry="1.4"/>
<ellipse cx="802.8" cy="412.6" rx="1.55" ry="1.4"/>
<ellipse cx="802.8" cy="403.8" rx="1.55" ry="1.4"/>
<ellipse cx="802.8" cy="395.0" rx="1.55" ry="1.4"/>
<ellipse cx="802.8" cy="386.2" rx="1.55" ry="1.4"/>
<ellipse cx="802.8" cy="377.4" rx="1.55" ry="1.4"/>
<ellipse cx="802.8" cy="368.5" rx="1.55" ry="1.4"/>
<ellipse cx="802.8" cy="359.7" rx="1.55" ry="1.4"/>
<ellipse cx="802.8" cy="350.9" rx="1.55" ry="1.4"/>
<ellipse cx="802.8" cy="342.1" rx="1.55" ry="1.4"/>
<ellipse cx="802.8" cy="333.3" rx="1.55" ry="1.4"/>
<ellipse cx="802.8" cy="324.4" rx="1.55" ry="1.4"/>
<ellipse cx="802.8" cy="315.6" rx="1.55" ry="1.4"/>
<ellipse cx="802.8" cy="306.8" rx="1.55" ry="1.4"/>
<ellipse cx="802.8" cy="298.0" rx="1.55" ry="1.4"/>
<ellipse cx="802.8" cy="289.2" rx="1.55" ry="1.4"/>
<ellipse cx="802.8" cy="280.3" rx="1.55" ry="1.4"/>
<ellipse cx="802.8" cy="271.5" rx="1.55" ry="1.4"/>
<ellipse cx="802.8" cy="262.7" rx="1.55" ry="1.4"/>
<ellipse cx="802.8" cy="253.9" rx="1.55" ry="1.4"/>
<ellipse cx="802.8" cy="245.1" rx="1.55" ry="1.4"/>
<ellipse cx="802.8" cy="236.2" rx="1.55" ry="1.4"/>
<ellipse cx="802.8" cy="227.4" rx="1.55" ry="1.4"/>
<ellipse cx="802.8" cy="218.6" rx="1.55" ry="1.4"/>
<ellipse cx="802.8" cy="209.8" rx="1.55" ry="1.4"/>
<ellipse cx="802.8" cy="201.0" rx="1.55" ry="1.4"/>
<ellipse cx="802.8" cy="192.1" rx="1.55" ry="1.4"/>
<ellipse cx="802.8" cy="183.3" rx="1.55" ry="1.4"/>
<ellipse cx="802.8" cy="174.5" rx="1.55" ry="1.4"/>
<ellipse cx="802.8" cy="165.7" rx="1.55" ry="1.4"/>
<ellipse cx="802.8" cy="156.9" rx="1.55" ry="1.4"/>
<ellipse cx="802.8" cy="148.0" rx="1.55" ry="1.4"/>
<ellipse cx="802.8" cy="139.2" rx="1.55" ry="1.4"/>
<ellipse cx="802.8" cy="130.4" rx="1.55" ry="1.4"/>
<ellipse cx="802.8" cy="121.6" rx="1.55" ry="1.4"/>
<ellipse cx="802.8" cy="112.8" rx="1.55" ry="1.4"/>
<ellipse cx="802.8" cy="103.9" rx="1.55" ry="1.4"/>
<ellipse cx="816.8" cy="482.9" rx="1.6" ry="0.85"/>
<ellipse cx="816.8" cy="474.4" rx="1.55" ry="1.4"/>
<ellipse cx="816.8" cy="465.6" rx="1.55" ry="1.4"/>
<ellipse cx="816.8" cy="456.7" rx="1.55" ry="1.4"/>
<ellipse cx="816.8" cy="447.9" rx="1.55" ry="1.4"/>
<ellipse cx="816.8" cy="439.1" rx="1.55" ry="1.4"/>
<ellipse cx="816.8" cy="430.3" rx="1.55" ry="1.4"/>
<ellipse cx="816.8" cy="421.5" rx="1.55" ry="1.4"/>
<ellipse cx="816.8" cy="412.6" rx="1.55" ry="1.4"/>
<ellipse cx="816.8" cy="403.8" rx="1.55" ry="1.4"/>
<ellipse cx="816.8" cy="395.0" rx="1.55" ry="1.4"/>
<ellipse cx="816.8" cy="386.2" rx="1.55" ry="1.4"/>
<ellipse cx="816.8" cy="377.4" rx="1.55" ry="1.4"/>
<ellipse cx="816.8" cy="368.5" rx="1.55" ry="1.4"/>
<ellipse cx="816.8" cy="359.7" rx="1.55" ry="1.4"/>
<ellipse cx="816.8" cy="350.9" rx="1.55" ry="1.4"/>
<ellipse cx="816.8" cy="342.1" rx="1.55" ry="1.4"/>
<ellipse cx="816.8" cy="333.3" rx="1.55" ry="1.4"/>
<ellipse cx="816.8" cy="324.4" rx="1.55" ry="1.4"/>
<ellipse cx="816.8" cy="315.6" rx="1.55" ry="1.4"/>
<ellipse cx="816.8" cy="306.8" rx="1.55" ry="1.4"/>
<ellipse cx="816.8" cy="298.0" rx="1.55" ry="1.4"/>
<ellipse cx="816.8" cy="289.2" rx="1.55" ry="1.4"/>
<ellipse cx="816.8" cy="280.3" rx="1.55" ry="1.4"/>
<ellipse cx="816.8" cy="271.5" rx="1.55" ry="1.4"/>
<ellipse cx="816.8" cy="262.7" rx="1.55" ry="1.4"/>
<ellipse cx="816.8" cy="253.9" rx="1.55" ry="1.4"/>
<ellipse cx="816.8" cy="245.1" rx="1.55" ry="1.4"/>
<ellipse cx="816.8" cy="236.2" rx="1.55" ry="1.4"/>
<ellipse cx="816.8" cy="227.4" rx="1.55" ry="1.4"/>
<ellipse cx="816.8" cy="218.6" rx="1.55" ry="1.4"/>
<ellipse cx="816.8" cy="209.8" rx="1.55" ry="1.4"/>
<ellipse cx="816.8" cy="201.0" rx="1.55" ry="1.4"/>
<ellipse cx="816.8" cy="192.1" rx="1.55" ry="1.4"/>
<ellipse cx="816.8" cy="183.3" rx="1.55" ry="1.4"/>
<ellipse cx="816.8" cy="174.5" rx="1.55" ry="1.4"/>
<ellipse cx="816.8" cy="165.7" rx="1.55" ry="1.4"/>
<ellipse cx="816.8" cy="156.9" rx="1.55" ry="1.4"/>
<ellipse cx="816.8" cy="148.0" rx="1.55" ry="1.4"/>
<ellipse cx="816.8" cy="139.2" rx="1.55" ry="1.4"/>
<ellipse cx="816.8" cy="130.4" rx="1.55" ry="1.4"/>
<ellipse cx="816.8" cy="121.6" rx="1.55" ry="1.4"/>
<ellipse cx="816.8" cy="112.8" rx="1.55" ry="1.4"/>
<ellipse cx="816.8" cy="103.9" rx="1.55" ry="1.4"/>
<ellipse cx="830.9" cy="482.9" rx="1.6" ry="0.85"/>
<ellipse cx="830.9" cy="474.4" rx="1.55" ry="1.4"/>
<ellipse cx="830.9" cy="465.6" rx="1.55" ry="1.4"/>
<ellipse cx="830.9" cy="456.7" rx="1.55" ry="1.4"/>
<ellipse cx="830.9" cy="447.9" rx="1.55" ry="1.4"/>
<ellipse cx="830.9" cy="439.1" rx="1.55" ry="1.4"/>
<ellipse cx="830.9" cy="430.3" rx="1.55" ry="1.4"/>
<ellipse cx="830.9" cy="421.5" rx="1.55" ry="1.4"/>
<ellipse cx="830.9" cy="412.6" rx="1.55" ry="1.4"/>
<ellipse cx="830.9" cy="403.8" rx="1.55" ry="1.4"/>
<ellipse cx="830.9" cy="395.0" rx="1.55" ry="1.4"/>
<ellipse cx="830.9" cy="386.2" rx="1.55" ry="1.4"/>
<ellipse cx="830.9" cy="377.4" rx="1.55" ry="1.4"/>
<ellipse cx="830.9" cy="368.5" rx="1.55" ry="1.4"/>
<ellipse cx="830.9" cy="359.7" rx="1.55" ry="1.4"/>
<ellipse cx="830.9" cy="350.9" rx="1.55" ry="1.4"/>
<ellipse cx="830.9" cy="342.1" rx="1.55" ry="1.4"/>
<ellipse cx="830.9" cy="333.3" rx="1.55" ry="1.4"/>
<ellipse cx="830.9" cy="324.4" rx="1.55" ry="1.4"/>
<ellipse cx="830.9" cy="315.6" rx="1.55" ry="1.4"/>
<ellipse cx="830.9" cy="306.8" rx="1.55" ry="1.4"/>
<ellipse cx="830.9" cy="298.0" rx="1.55" ry="1.4"/>
<ellipse cx="830.9" cy="289.2" rx="1.55" ry="1.4"/>
<ellipse cx="830.9" cy="280.3" rx="1.55" ry="1.4"/>
<ellipse cx="830.9" cy="271.5" rx="1.55" ry="1.4"/>
<ellipse cx="830.9" cy="262.7" rx="1.55" ry="1.4"/>
<ellipse cx="830.9" cy="253.9" rx="1.55" ry="1.4"/>
<ellipse cx="830.9" cy="245.1" rx="1.55" ry="1.4"/>
<ellipse cx="830.9" cy="236.2" rx="1.55" ry="1.4"/>
<ellipse cx="830.9" cy="227.4" rx="1.55" ry="1.4"/>
<ellipse cx="830.9" cy="218.6" rx="1.55" ry="1.4"/>
<ellipse cx="830.9" cy="209.8" rx="1.55" ry="1.4"/>
<ellipse cx="830.9" cy="201.0" rx="1.55" ry="1.4"/>
<ellipse cx="830.9" cy="192.1" rx="1.55" ry="1.4"/>
<ellipse cx="830.9" cy="183.3" rx="1.55" ry="1.4"/>
<ellipse cx="830.9" cy="174.5" rx="1.55" ry="1.4"/>
<ellipse cx="830.9" cy="165.7" rx="1.55" ry="1.4"/>
<ellipse cx="830.9" cy="156.9" rx="1.55" ry="1.4"/>
<ellipse cx="830.9" cy="148.0" rx="1.55" ry="1.4"/>
<ellipse cx="830.9" cy="139.2" rx="1.55" ry="1.4"/>
<ellipse cx="830.9" cy="130.4" rx="1.55" ry="1.4"/>
<ellipse cx="830.9" cy="121.6" rx="1.55" ry="1.4"/>
<ellipse cx="830.9" cy="112.8" rx="1.55" ry="1.4"/>
<ellipse cx="830.9" cy="103.9" rx="1.55" ry="1.4"/>
<ellipse cx="844.9" cy="482.9" rx="1.6" ry="0.85"/>
<ellipse cx="844.9" cy="474.4" rx="1.55" ry="1.4"/>
<ellipse cx="844.9" cy="465.6" rx="1.55" ry="1.4"/>
<ellipse cx="844.9" cy="456.7" rx="1.55" ry="1.4"/>
<ellipse cx="844.9" cy="447.9" rx="1.55" ry="1.4"/>
<ellipse cx="844.9" cy="439.1" rx="1.55" ry="1.4"/>
<ellipse cx="844.9" cy="430.3" rx="1.55" ry="1.4"/>
<ellipse cx="844.9" cy="421.5" rx="1.55" ry="1.4"/>
<ellipse cx="844.9" cy="412.6" rx="1.55" ry="1.4"/>
<ellipse cx="844.9" cy="403.8" rx="1.55" ry="1.4"/>
<ellipse cx="844.9" cy="395.0" rx="1.55" ry="1.4"/>
<ellipse cx="844.9" cy="386.2" rx="1.55" ry="1.4"/>
<ellipse cx="844.9" cy="377.4" rx="1.55" ry="1.4"/>
<ellipse cx="844.9" cy="368.5" rx="1.55" ry="1.4"/>
<ellipse cx="844.9" cy="359.7" rx="1.55" ry="1.4"/>
<ellipse cx="844.9" cy="350.9" rx="1.55" ry="1.4"/>
<ellipse cx="844.9" cy="342.1" rx="1.55" ry="1.4"/>
<ellipse cx="844.9" cy="333.3" rx="1.55" ry="1.4"/>
<ellipse cx="844.9" cy="324.4" rx="1.55" ry="1.4"/>
<ellipse cx="844.9" cy="315.6" rx="1.55" ry="1.4"/>
<ellipse cx="844.9" cy="306.8" rx="1.55" ry="1.4"/>
<ellipse cx="844.9" cy="298.0" rx="1.55" ry="1.4"/>
<ellipse cx="844.9" cy="289.2" rx="1.55" ry="1.4"/>
<ellipse cx="844.9" cy="280.3" rx="1.55" ry="1.4"/>
<ellipse cx="844.9" cy="271.5" rx="1.55" ry="1.4"/>
<ellipse cx="844.9" cy="262.7" rx="1.55" ry="1.4"/>
<ellipse cx="844.9" cy="253.9" rx="1.55" ry="1.4"/>
<ellipse cx="844.9" cy="245.1" rx="1.55" ry="1.4"/>
<ellipse cx="844.9" cy="236.2" rx="1.55" ry="1.4"/>
<ellipse cx="844.9" cy="227.4" rx="1.55" ry="1.4"/>
<ellipse cx="844.9" cy="218.6" rx="1.55" ry="1.4"/>
<ellipse cx="844.9" cy="209.8" rx="1.55" ry="1.4"/>
<ellipse cx="844.9" cy="201.0" rx="1.55" ry="1.4"/>
<ellipse cx="844.9" cy="192.1" rx="1.55" ry="1.4"/>
<ellipse cx="844.9" cy="183.3" rx="1.55" ry="1.4"/>
<ellipse cx="844.9" cy="174.5" rx="1.55" ry="1.4"/>
<ellipse cx="844.9" cy="165.7" rx="1.55" ry="1.4"/>
<ellipse cx="844.9" cy="156.9" rx="1.55" ry="1.4"/>
<ellipse cx="844.9" cy="148.0" rx="1.55" ry="1.4"/>
<ellipse cx="844.9" cy="139.2" rx="1.55" ry="1.4"/>
<ellipse cx="844.9" cy="130.4" rx="1.55" ry="1.4"/>
<ellipse cx="844.9" cy="121.6" rx="1.55" ry="1.4"/>
<ellipse cx="844.9" cy="112.8" rx="1.55" ry="1.4"/>
<ellipse cx="844.9" cy="103.9" rx="1.55" ry="1.4"/>
<ellipse cx="859.0" cy="482.9" rx="1.6" ry="0.85"/>
<ellipse cx="859.0" cy="474.4" rx="1.55" ry="1.4"/>
<ellipse cx="859.0" cy="465.6" rx="1.55" ry="1.4"/>
<ellipse cx="859.0" cy="456.7" rx="1.55" ry="1.4"/>
<ellipse cx="859.0" cy="447.9" rx="1.55" ry="1.4"/>
<ellipse cx="859.0" cy="439.1" rx="1.55" ry="1.4"/>
<ellipse cx="859.0" cy="430.3" rx="1.55" ry="1.4"/>
<ellipse cx="859.0" cy="421.5" rx="1.55" ry="1.4"/>
<ellipse cx="859.0" cy="412.6" rx="1.55" ry="1.4"/>
<ellipse cx="859.0" cy="403.8" rx="1.55" ry="1.4"/>
<ellipse cx="859.0" cy="395.0" rx="1.55" ry="1.4"/>
<ellipse cx="859.0" cy="386.2" rx="1.55" ry="1.4"/>
<ellipse cx="859.0" cy="377.4" rx="1.55" ry="1.4"/>
<ellipse cx="859.0" cy="368.5" rx="1.55" ry="1.4"/>
<ellipse cx="859.0" cy="359.7" rx="1.55" ry="1.4"/>
<ellipse cx="859.0" cy="350.9" rx="1.55" ry="1.4"/>
<ellipse cx="859.0" cy="342.1" rx="1.55" ry="1.4"/>
<ellipse cx="859.0" cy="333.3" rx="1.55" ry="1.4"/>
<ellipse cx="859.0" cy="324.4" rx="1.55" ry="1.4"/>
<ellipse cx="859.0" cy="315.6" rx="1.55" ry="1.4"/>
<ellipse cx="859.0" cy="306.8" rx="1.55" ry="1.4"/>
<ellipse cx="859.0" cy="298.0" rx="1.55" ry="1.4"/>
<ellipse cx="859.0" cy="289.2" rx="1.55" ry="1.4"/>
<ellipse cx="859.0" cy="280.3" rx="1.55" ry="1.4"/>
<ellipse cx="859.0" cy="271.5" rx="1.55" ry="1.4"/>
<ellipse cx="859.0" cy="262.7" rx="1.55" ry="1.4"/>
<ellipse cx="859.0" cy="253.9" rx="1.55" ry="1.4"/>
<ellipse cx="859.0" cy="245.1" rx="1.55" ry="1.4"/>
<ellipse cx="859.0" cy="236.2" rx="1.55" ry="1.4"/>
<ellipse cx="859.0" cy="227.4" rx="1.55" ry="1.4"/>
<ellipse cx="859.0" cy="218.6" rx="1.55" ry="1.4"/>
<ellipse cx="859.0" cy="209.8" rx="1.55" ry="1.4"/>
<ellipse cx="859.0" cy="201.0" rx="1.55" ry="1.4"/>
<ellipse cx="859.0" cy="192.1" rx="1.55" ry="1.4"/>
<ellipse cx="859.0" cy="183.3" rx="1.55" ry="1.4"/>
<ellipse cx="859.0" cy="174.5" rx="1.55" ry="1.4"/>
<ellipse cx="859.0" cy="165.7" rx="1.55" ry="1.4"/>
<ellipse cx="859.0" cy="156.9" rx="1.55" ry="1.4"/>
<ellipse cx="859.0" cy="148.0" rx="1.55" ry="1.4"/>
<ellipse cx="859.0" cy="139.2" rx="1.55" ry="1.4"/>
<ellipse cx="859.0" cy="130.4" rx="1.55" ry="1.4"/>
<ellipse cx="859.0" cy="121.6" rx="1.55" ry="1.4"/>
<ellipse cx="859.0" cy="112.8" rx="1.55" ry="1.4"/>
<ellipse cx="859.0" cy="103.9" rx="1.55" ry="1.4"/>
</g>
<polygon points="206.8,92.0 206.8,92.0 208.8,103.0 212.6,118.0 215.2,156.0 217.7,207.0 220.3,271.0 222.8,322.0 225.4,348.0 227.2,393.5 226.0,92.0" fill="#fff"/>
<polygon points="323.5,92.0 338.8,103.0 356.6,114.4 369.4,141.0 382.1,177.0 394.8,217.6 402.5,243.0 410.1,271.0 417.8,296.6 422.9,330.0 424.9,356.5 427.0,356.5 427.0,92.0" fill="#fff"/>
<polygon points="600.0,92.0 600.0,93.5 602.0,93.7 604.0,93.8 606.0,94.0 608.0,94.1 610.0,94.3 612.0,94.4 614.0,94.6 616.0,94.7 618.0,94.9 620.0,95.0 622.0,95.2 624.0,95.3 626.0,95.5 628.0,95.6 630.0,95.8 632.0,95.9 634.0,96.1 636.0,96.2 638.0,96.4 640.0,96.5 642.0,96.7 644.0,96.8 646.0,97.0 648.0,97.1 650.0,97.3 652.0,97.4 654.0,97.7 656.0,98.0 658.0,98.3 660.0,98.6 662.0,98.9 664.0,99.2 666.0,99.5 668.0,99.9 670.0,100.2 672.0,100.5 674.0,100.8 676.0,101.1 678.0,101.4 680.0,101.7 682.0,102.0 684.0,102.4 686.0,102.7 688.0,103.0 690.0,103.3 692.0,103.6 694.0,103.9 696.0,104.2 698.0,104.6 700.0,104.9 702.0,105.2 704.0,105.5 706.0,106.0 708.0,106.5 710.0,107.0 712.0,107.5 714.0,108.0 716.0,108.6 718.0,109.1 720.0,109.6 722.0,110.1 724.0,110.6 726.0,111.1 728.0,111.6 730.0,112.1 732.0,112.6 734.0,113.1 736.0,113.7 738.0,114.2 740.0,114.7 742.0,115.2 744.0,115.7 746.0,116.2 748.0,116.7 750.0,117.2 752.0,117.7 754.0,118.2 756.0,118.8 758.0,119.5 760.0,120.2 762.0,120.9 764.0,121.5 766.0,122.2 768.0,122.9 770.0,123.5 772.0,124.2 774.0,124.9 776.0,125.6 778.0,126.2 780.0,126.9 782.0,127.6 784.0,128.2 786.0,128.9 788.0,129.5 790.0,130.2 792.0,130.8 794.0,131.9 796.0,133.2 798.0,134.5 800.0,135.8 802.0,137.0 804.0,138.0 806.0,139.0 808.0,140.0 810.0,141.1 812.0,142.8 814.0,144.6 816.0,146.4 818.0,148.7 820.0,151.2 822.0,153.7 824.0,157.7 826.0,162.2 828.0,170.3 828.5,174.1 828.5,92.0" fill="#fff"/>
<g stroke="#000" stroke-linecap="butt" fill="none">
<path d="M155.3 91.25H829" stroke-width="3.1"/>
<path d="M155.8 89.8V103.0" stroke-width="2.4"/>
<path d="M157.1 89.8V102.2" stroke-width="2.4"/>
<path d="M158.4 89.8V104.4" stroke-width="2.4"/>
<path d="M159.7 89.8V101.8" stroke-width="2.4"/>
<path d="M161.0 89.8V103.9" stroke-width="2.4"/>
<path d="M162.3 89.8V103.1" stroke-width="2.4"/>
<path d="M163.6 89.8V101.8" stroke-width="2.4"/>
<path d="M164.9 89.8V103.8" stroke-width="2.4"/>
<path d="M166.2 89.8V101.7" stroke-width="2.4"/>
<path d="M167.5 89.8V103.5" stroke-width="2.4"/>
<path d="M168.0 89.8V105.6" stroke-width="2.4"/>
<path d="M169.3 89.8V105.7" stroke-width="2.4"/>
<path d="M170.6 89.8V108.4" stroke-width="2.4"/>
<path d="M171.9 89.8V111.6" stroke-width="2.4"/>
<path d="M173.2 89.8V106.0" stroke-width="2.4"/>
<path d="M174.5 89.8V106.8" stroke-width="2.4"/>
<path d="M175.8 89.8V110.0" stroke-width="2.4"/>
<path d="M177.1 89.8V112.6" stroke-width="2.4"/>
<path d="M178.4 89.8V109.6" stroke-width="2.4"/>
<path d="M179.7 89.8V108.2" stroke-width="2.4"/>
<path d="M181.0 89.8V112.8" stroke-width="2.4"/>
<path d="M182.3 89.8V105.4" stroke-width="2.4"/>
<path d="M183.6 89.8V111.9" stroke-width="2.4"/>
<path d="M184.9 89.8V107.3" stroke-width="2.4"/>
<path d="M186.2 89.8V106.2" stroke-width="2.4"/>
<path d="M187.5 89.8V105.9" stroke-width="2.4"/>
<path d="M188.8 89.8V107.5" stroke-width="2.4"/>
<path d="M190.1 89.8V111.5" stroke-width="2.4"/>
<path d="M191.4 89.8V106.4" stroke-width="2.4"/>
<path d="M192.7 89.8V109.7" stroke-width="2.4"/>
<path d="M194.0 89.8V110.1" stroke-width="2.4"/>
<path d="M195.3 89.8V108.0" stroke-width="2.4"/>
<path d="M196.6 89.8V109.4" stroke-width="2.4"/>
<path d="M197.9 89.8V105.5" stroke-width="2.4"/>
<path d="M199.2 89.8V105.5" stroke-width="2.4"/>
<path d="M200.5 89.8V106.6" stroke-width="2.4"/>
<path d="M201.8 89.8V110.4" stroke-width="2.4"/>
<path d="M203.1 89.8V108.4" stroke-width="2.4"/>
<path d="M204.4 89.8V107.5" stroke-width="2.4"/>
<path d="M205.7 89.8V109.7" stroke-width="2.4"/>
<path d="M172.0 89.8V173.6" stroke-width="2.4"/>
<path d="M173.2 89.8V169.0" stroke-width="2.4"/>
<path d="M174.4 89.8V183.8" stroke-width="2.4"/>
<path d="M175.6 89.8V181.0" stroke-width="2.4"/>
<path d="M176.8 89.8V167.3" stroke-width="2.4"/>
<path d="M178.0 89.8V177.2" stroke-width="2.4"/>
<path d="M179.2 89.8V175.8" stroke-width="2.4"/>
<path d="M180.4 89.8V186.3" stroke-width="2.4"/>
<path d="M181.6 89.8V181.9" stroke-width="2.4"/>
<path d="M173.0 89.8V225.0" stroke-width="2.6"/>
<path d="M178.2 89.8V405.0" stroke-width="2.6"/>
<path d="M181.5 89.8V457.0" stroke-width="2.8"/>
<path d="M185.4 89.8V205.0" stroke-width="2.6"/>
<path d="M188.4 89.8V236.7" stroke-width="2.8"/>
<path d="M191.0 89.8V161.5" stroke-width="2.8"/>
<path d="M194.0 89.8V138.6" stroke-width="2.8"/>
<path d="M198.0 89.8V115.0" stroke-width="2.4"/>
<path d="M202.4 89.8V127.0" stroke-width="2.6"/>
<path d="M176.5 89.8V300.0" stroke-width="2.6"/>
<path d="M180.0 89.8V314.0" stroke-width="2.8"/>
<path d="M226.6 89.8V108.3" stroke-width="2.4"/>
<path d="M227.9 89.8V113.8" stroke-width="2.4"/>
<path d="M229.2 89.8V106.9" stroke-width="2.4"/>
<path d="M230.5 89.8V109.3" stroke-width="2.4"/>
<path d="M231.8 89.8V112.1" stroke-width="2.4"/>
<path d="M233.1 89.8V107.2" stroke-width="2.4"/>
<path d="M234.4 89.8V109.9" stroke-width="2.4"/>
<path d="M235.7 89.8V106.3" stroke-width="2.4"/>
<path d="M237.0 89.8V111.3" stroke-width="2.4"/>
<path d="M238.3 89.8V112.1" stroke-width="2.4"/>
<path d="M239.6 89.8V110.6" stroke-width="2.4"/>
<path d="M240.9 89.8V113.0" stroke-width="2.4"/>
<path d="M242.2 89.8V108.5" stroke-width="2.4"/>
<path d="M243.5 89.8V111.6" stroke-width="2.4"/>
<path d="M244.8 89.8V110.8" stroke-width="2.4"/>
<path d="M246.1 89.8V110.6" stroke-width="2.4"/>
<path d="M247.4 89.8V109.6" stroke-width="2.4"/>
<path d="M248.7 89.8V112.7" stroke-width="2.4"/>
<path d="M250.0 89.8V113.6" stroke-width="2.4"/>
<path d="M251.3 89.8V109.8" stroke-width="2.4"/>
<path d="M252.6 89.8V111.3" stroke-width="2.4"/>
<path d="M253.9 89.8V106.5" stroke-width="2.4"/>
<path d="M255.2 89.8V111.6" stroke-width="2.4"/>
<path d="M256.5 89.8V111.2" stroke-width="2.4"/>
<path d="M257.8 89.8V113.9" stroke-width="2.4"/>
<path d="M259.1 89.8V112.6" stroke-width="2.4"/>
<path d="M260.4 89.8V108.3" stroke-width="2.4"/>
<path d="M261.7 89.8V109.1" stroke-width="2.4"/>
<path d="M263.0 89.8V111.3" stroke-width="2.4"/>
<path d="M264.3 89.8V106.2" stroke-width="2.4"/>
<path d="M265.6 89.8V109.7" stroke-width="2.4"/>
<path d="M266.9 89.8V107.3" stroke-width="2.4"/>
<path d="M268.2 89.8V106.9" stroke-width="2.4"/>
<path d="M269.5 89.8V106.5" stroke-width="2.4"/>
<path d="M270.8 89.8V112.1" stroke-width="2.4"/>
<path d="M272.1 89.8V107.0" stroke-width="2.4"/>
<path d="M273.4 89.8V108.0" stroke-width="2.4"/>
<path d="M274.7 89.8V109.1" stroke-width="2.4"/>
<path d="M276.0 89.8V113.0" stroke-width="2.4"/>
<path d="M277.3 89.8V106.6" stroke-width="2.4"/>
<path d="M278.6 89.8V109.6" stroke-width="2.4"/>
<path d="M279.9 89.8V110.4" stroke-width="2.4"/>
<path d="M281.2 89.8V113.1" stroke-width="2.4"/>
<path d="M282.5 89.8V112.6" stroke-width="2.4"/>
<path d="M283.8 89.8V112.9" stroke-width="2.4"/>
<path d="M285.1 89.8V108.2" stroke-width="2.4"/>
<path d="M286.4 89.8V109.3" stroke-width="2.4"/>
<path d="M287.7 89.8V108.9" stroke-width="2.4"/>
<path d="M289.0 89.8V113.1" stroke-width="2.4"/>
<path d="M290.3 89.8V113.7" stroke-width="2.4"/>
<path d="M291.6 89.8V107.2" stroke-width="2.4"/>
<path d="M292.9 89.8V107.4" stroke-width="2.4"/>
<path d="M294.2 89.8V107.9" stroke-width="2.4"/>
<path d="M295.5 89.8V107.9" stroke-width="2.4"/>
<path d="M296.8 89.8V109.9" stroke-width="2.4"/>
<path d="M298.1 89.8V110.7" stroke-width="2.4"/>
<path d="M299.4 89.8V108.1" stroke-width="2.4"/>
<path d="M300.7 89.8V106.0" stroke-width="2.4"/>
<path d="M302.0 89.8V109.4" stroke-width="2.4"/>
<path d="M303.3 89.8V109.0" stroke-width="2.4"/>
<path d="M304.6 89.8V110.5" stroke-width="2.4"/>
<path d="M305.9 89.8V113.6" stroke-width="2.4"/>
<path d="M307.2 89.8V111.5" stroke-width="2.4"/>
<path d="M308.5 89.8V110.1" stroke-width="2.4"/>
<path d="M309.8 89.8V110.9" stroke-width="2.4"/>
<path d="M311.1 89.8V111.4" stroke-width="2.4"/>
<path d="M312.4 89.8V106.4" stroke-width="2.4"/>
<path d="M313.7 89.8V113.2" stroke-width="2.4"/>
<path d="M240.0 89.8V124.5" stroke-width="2.6"/>
<path d="M242.0 89.8V126.0" stroke-width="2.6"/>
<path d="M244.0 89.8V124.8" stroke-width="2.6"/>
<path d="M246.0 89.8V118.3" stroke-width="2.6"/>
<path d="M248.0 89.8V118.4" stroke-width="2.6"/>
<path d="M250.0 89.8V113.7" stroke-width="2.6"/>
<path d="M252.0 89.8V122.1" stroke-width="2.6"/>
<path d="M254.0 89.8V113.0" stroke-width="2.6"/>
<path d="M256.0 89.8V113.1" stroke-width="2.6"/>
<path d="M258.0 89.8V115.3" stroke-width="2.6"/>
<path d="M260.0 89.8V114.6" stroke-width="2.6"/>
<path d="M262.0 89.8V117.4" stroke-width="2.6"/>
<path d="M264.0 89.8V112.8" stroke-width="2.6"/>
<path d="M266.0 89.8V112.0" stroke-width="2.6"/>
<path d="M268.0 89.8V114.4" stroke-width="2.6"/>
<path d="M270.0 89.8V113.6" stroke-width="2.6"/>
<path d="M272.0 89.8V117.8" stroke-width="2.6"/>
<path d="M274.0 89.8V112.4" stroke-width="2.6"/>
<path d="M276.0 89.8V126.0" stroke-width="2.6"/>
<path d="M278.0 89.8V121.8" stroke-width="2.6"/>
<path d="M280.0 89.8V114.4" stroke-width="2.6"/>
<path d="M282.0 89.8V116.0" stroke-width="2.6"/>
<path d="M284.0 89.8V117.6" stroke-width="2.6"/>
<path d="M286.0 89.8V117.8" stroke-width="2.6"/>
<path d="M288.0 89.8V114.0" stroke-width="2.6"/>
<path d="M290.0 89.8V125.6" stroke-width="2.6"/>
<path d="M292.0 89.8V127.9" stroke-width="2.6"/>
<path d="M294.0 89.8V119.5" stroke-width="2.6"/>
<path d="M296.0 89.8V119.7" stroke-width="2.6"/>
<path d="M298.0 89.8V113.4" stroke-width="2.6"/>
<path d="M300.0 89.8V113.6" stroke-width="2.6"/>
<path d="M232.3 89.8V134.8" stroke-width="3"/>
<path d="M238.0 89.8V118.0" stroke-width="2.4"/>
<path d="M244.0 89.8V168.0" stroke-width="3"/>
<path d="M247.0 89.8V131.0" stroke-width="3"/>
<path d="M256.0 89.8V128.0" stroke-width="3"/>
<path d="M258.5 89.8V155.0" stroke-width="3.4"/>
<path d="M262.8 89.8V216.3" stroke-width="2.8"/>
<path d="M266.0 89.8V126.0" stroke-width="3"/>
<path d="M270.0 89.8V138.0" stroke-width="2.6"/>
<path d="M274.3 89.8V169.0" stroke-width="2.8"/>
<path d="M278.4 89.8V149.0" stroke-width="3"/>
<path d="M281.0 89.8V128.0" stroke-width="3"/>
<path d="M284.2 89.8V244.4" stroke-width="2.8"/>
<path d="M288.6 89.8V174.3" stroke-width="3.6"/>
<path d="M293.7 89.8V244.4" stroke-width="2.8"/>
<path d="M297.0 89.8V122.0" stroke-width="3"/>
<path d="M299.0 89.8V140.0" stroke-width="2.6"/>
<path d="M305.6 89.8V136.0" stroke-width="2.8"/>
<path d="M311.0 89.8V150.0" stroke-width="3.4"/>
<path d="M315.8 89.8V171.7" stroke-width="3.6"/>
<path d="M319.0 89.8V160.0" stroke-width="3.4"/>
</g>
<polygon points="311.5,93.2 323.2,93.2 323.2,96.5 322.3,118.0 318.0,104.0 314.5,97.5" fill="#fff"/>
<g stroke="#000" stroke-linecap="butt" fill="none">
<path d="M323.6 89.8V114.1" stroke-width="2.4"/>
<path d="M324.8 89.8V113.6" stroke-width="2.4"/>
<path d="M326.0 89.8V117.0" stroke-width="2.4"/>
<path d="M327.2 89.8V113.0" stroke-width="2.4"/>
<path d="M328.4 89.8V112.1" stroke-width="2.4"/>
<path d="M329.6 89.8V117.7" stroke-width="2.4"/>
<path d="M330.8 89.8V115.2" stroke-width="2.4"/>
<path d="M332.0 89.8V112.9" stroke-width="2.4"/>
<path d="M333.0 97.8V110.1" stroke-width="2.4"/>
<path d="M334.3 98.8V107.9" stroke-width="2.4"/>
<path d="M335.6 99.7V111.9" stroke-width="2.4"/>
<path d="M336.9 100.6V115.5" stroke-width="2.4"/>
<path d="M338.2 101.6V115.7" stroke-width="2.4"/>
<path d="M339.5 102.4V115.6" stroke-width="2.4"/>
<path d="M340.8 103.3V113.8" stroke-width="2.4"/>
<path d="M342.1 104.1V115.3" stroke-width="2.4"/>
<path d="M343.4 104.9V114.9" stroke-width="2.4"/>
<path d="M344.7 105.8V119.4" stroke-width="2.4"/>
<path d="M346.0 106.6V118.8" stroke-width="2.4"/>
<path d="M347.3 107.4V121.1" stroke-width="2.4"/>
<path d="M348.6 108.3V119.3" stroke-width="2.4"/>
<path d="M349.9 109.1V119.4" stroke-width="2.4"/>
<path d="M351.2 109.9V123.8" stroke-width="2.4"/>
<path d="M352.5 110.8V125.7" stroke-width="2.4"/>
<path d="M353.8 111.6V125.7" stroke-width="2.4"/>
<path d="M355.1 112.4V126.3" stroke-width="2.4"/>
<path d="M356.4 113.3V127.2" stroke-width="2.4"/>
<path d="M328.6 89.8V136.3" stroke-width="3"/>
<path d="M334.0 100.0V121.0" stroke-width="2.4"/>
<path d="M343.0 104.0V121.0" stroke-width="2.6"/>
<path d="M351.0 110.0V170.0" stroke-width="2.8"/>
<path d="M353.2 112.0V229.0" stroke-width="3.4"/>
<path d="M355.6 113.0V212.0" stroke-width="3"/>
<path d="M368 140V168" stroke-width="3"/>
<path d="M379.5 176V294" stroke-width="2.8"/>
<path d="M383.4 186V210" stroke-width="2.8"/>
<path d="M396 222V263.5" stroke-width="2.6"/>
<path d="M407 262V308" stroke-width="2.8"/>
<path d="M412 282V325" stroke-width="2.8"/>
<path d="M415 292V337" stroke-width="2.8"/>
<path d="M418 300V338" stroke-width="2.8"/>
<path d="M421 312V345" stroke-width="2.8"/>
<path d="M400 241.8H425.4V270L427.8 312" stroke-width="2.6"/>
<path d="M424.2 241.8L426 300" stroke-width="2.2"/>
</g>
<g fill="#000">
<polygon points="426.2,91.0 438.5,91.0 436.5,120.0 436.3,212.8 432.3,212.8 431.5,135.0 427.5,104.0" fill="#000"/>
<polygon points="439.5,91.0 443.0,91.0 445.6,120.0 445.6,167.0 441.5,167.0 441.0,120.0" fill="#000"/>
<rect x="436.1" y="90.0" width="3.2" height="43.1"/>
<rect x="437.7" y="90.0" width="3.2" height="30.3"/>
<polygon points="435.6,100.0 441.3,100.0 441.3,159.8 439.0,159.8 436.2,136.0" fill="#000"/>
<polygon points="442.5,91.0 454.6,91.0 457.0,107.4 460.2,139.6 467.5,160.5 467.5,205.5 464.5,210.4 462.7,207.2 460.0,196.0 457.0,192.7 454.6,144.4 446.6,117.0 443.5,104.0" fill="#000"/>
<path d="M456 107.5Q460 110.5 466 110.4" stroke="#000" stroke-width="2.4" fill="none"/>
<rect x="465.4" y="90.0" width="3.4" height="38.3"/>
<rect x="466.9" y="90.0" width="1.0" height="42.1"/>
<rect x="467.8" y="90.0" width="2.9" height="22.2"/>
<rect x="468.6" y="90.0" width="0.8" height="22.4"/>
<rect x="469.7" y="90.0" width="4.2" height="27.0"/>
<rect x="470.9" y="90.0" width="1.1" height="32.1"/>
<rect x="472.4" y="90.0" width="1.2" height="33.8"/>
<rect x="472.0" y="90.0" width="2.6" height="45.6"/>
<rect x="473.1" y="90.0" width="1.7" height="48.2"/>
<rect x="473.6" y="90.0" width="5.8" height="24.6"/>
<rect x="474.9" y="90.0" width="1.0" height="26.1"/>
<rect x="474.9" y="90.0" width="1.4" height="31.1"/>
<rect x="477.3" y="90.0" width="1.3" height="29.4"/>
<rect x="478.4" y="90.0" width="5.8" height="36.7"/>
<rect x="482.0" y="90.0" width="0.9" height="41.5"/>
<rect x="482.4" y="90.0" width="1.6" height="42.1"/>
<rect x="480.8" y="90.0" width="1.0" height="42.4"/>
<rect x="483.3" y="90.0" width="2.9" height="24.6"/>
<rect x="484.1" y="90.0" width="1.6" height="31.7"/>
<rect x="485.2" y="90.0" width="4.8" height="56.8"/>
<rect x="486.8" y="90.0" width="1.2" height="63.7"/>
<rect x="487.8" y="90.0" width="1.0" height="57.7"/>
<rect x="489.1" y="90.0" width="5.8" height="49.6"/>
<rect x="490.1" y="90.0" width="1.7" height="55.4"/>
<rect x="490.1" y="90.0" width="1.6" height="56.7"/>
<rect x="492.1" y="90.0" width="1.1" height="53.6"/>
<rect x="493.9" y="90.0" width="6.6" height="64.1"/>
<rect x="495.0" y="90.0" width="0.8" height="71.1"/>
<rect x="497.4" y="90.0" width="1.3" height="70.8"/>
<rect x="496.4" y="90.0" width="1.6" height="70.0"/>
<rect x="495.8" y="90.0" width="3.2" height="76.9"/>
<rect x="496.6" y="90.0" width="1.0" height="79.1"/>
<rect x="499.5" y="90.0" width="5.0" height="38.3"/>
<rect x="500.7" y="90.0" width="1.4" height="40.2"/>
<rect x="501.3" y="90.0" width="0.9" height="44.9"/>
<rect x="503.5" y="90.0" width="3.2" height="23.8"/>
<rect x="504.5" y="90.0" width="1.2" height="28.0"/>
<rect x="505.8" y="90.0" width="2.9" height="38.3"/>
<rect x="507.2" y="90.0" width="1.2" height="45.0"/>
<rect x="507.7" y="90.0" width="4.8" height="46.4"/>
<rect x="509.7" y="90.0" width="1.3" height="50.2"/>
<rect x="508.3" y="90.0" width="1.2" height="47.7"/>
<rect x="511.6" y="90.0" width="5.8" height="28.7"/>
<rect x="512.1" y="90.0" width="1.6" height="29.9"/>
<rect x="513.9" y="90.0" width="1.5" height="32.7"/>
<rect x="513.3" y="90.0" width="1.3" height="32.7"/>
<rect x="516.4" y="90.0" width="7.1" height="27.0"/>
<rect x="520.9" y="90.0" width="0.9" height="31.1"/>
<rect x="518.2" y="90.0" width="1.1" height="32.6"/>
<rect x="519.5" y="90.0" width="1.3" height="32.5"/>
<rect x="521.6" y="90.0" width="1.2" height="31.5"/>
<rect x="522.5" y="90.0" width="4.5" height="35.1"/>
<rect x="524.3" y="90.0" width="1.3" height="40.1"/>
<rect x="524.2" y="90.0" width="1.3" height="38.6"/>
<rect x="526.1" y="90.0" width="4.5" height="54.4"/>
<rect x="529.0" y="90.0" width="1.5" height="60.8"/>
<rect x="529.0" y="90.0" width="1.1" height="58.5"/>
<rect x="529.6" y="90.0" width="3.9" height="38.3"/>
<rect x="531.9" y="90.0" width="1.6" height="39.3"/>
<rect x="530.3" y="90.0" width="1.2" height="38.8"/>
<rect x="532.5" y="90.0" width="3.9" height="33.5"/>
<rect x="533.5" y="90.0" width="0.9" height="38.3"/>
<rect x="534.5" y="90.0" width="1.7" height="34.6"/>
<rect x="535.4" y="90.0" width="4.2" height="38.3"/>
<rect x="537.5" y="90.0" width="1.4" height="39.3"/>
<rect x="537.9" y="90.0" width="1.7" height="39.9"/>
<rect x="538.6" y="90.0" width="4.5" height="64.1"/>
<rect x="541.6" y="90.0" width="1.2" height="67.6"/>
<rect x="541.7" y="90.0" width="1.6" height="65.2"/>
<rect x="539.6" y="90.0" width="2.9" height="105.1"/>
<rect x="540.5" y="90.0" width="1.3" height="107.6"/>
<rect x="543.1" y="90.0" width="3.2" height="67.3"/>
<rect x="543.9" y="90.0" width="1.1" height="72.5"/>
<rect x="545.4" y="90.0" width="4.2" height="35.1"/>
<rect x="545.9" y="90.0" width="1.3" height="38.3"/>
<rect x="545.9" y="90.0" width="1.1" height="39.6"/>
<rect x="548.6" y="90.0" width="4.8" height="30.3"/>
<rect x="550.6" y="90.0" width="0.9" height="37.4"/>
<rect x="551.4" y="90.0" width="1.7" height="31.0"/>
<rect x="552.5" y="90.0" width="3.5" height="52.0"/>
<rect x="553.4" y="90.0" width="0.8" height="57.6"/>
<rect x="555.1" y="90.0" width="4.2" height="31.9"/>
<rect x="556.1" y="90.0" width="0.9" height="34.9"/>
<rect x="557.6" y="90.0" width="1.6" height="33.7"/>
<rect x="558.3" y="90.0" width="4.2" height="57.6"/>
<rect x="559.1" y="90.0" width="1.7" height="61.8"/>
<rect x="560.3" y="90.0" width="0.9" height="58.0"/>
<rect x="561.2" y="90.0" width="4.5" height="88.2"/>
<rect x="563.4" y="90.0" width="1.2" height="88.7"/>
<rect x="564.1" y="90.0" width="1.4" height="94.0"/>
<rect x="564.7" y="90.0" width="4.2" height="57.6"/>
<rect x="565.4" y="90.0" width="1.6" height="58.1"/>
<rect x="567.1" y="90.0" width="1.2" height="60.1"/>
<rect x="567.9" y="90.0" width="2.9" height="38.3"/>
<rect x="568.9" y="90.0" width="1.7" height="40.3"/>
<rect x="569.9" y="90.0" width="3.2" height="62.5"/>
<rect x="570.5" y="90.0" width="1.3" height="64.2"/>
<rect x="572.1" y="90.0" width="4.8" height="38.3"/>
<rect x="572.9" y="90.0" width="1.0" height="38.7"/>
<rect x="573.2" y="90.0" width="1.1" height="40.5"/>
<rect x="576.0" y="90.0" width="5.5" height="28.7"/>
<rect x="579.1" y="90.0" width="1.1" height="32.3"/>
<rect x="577.1" y="90.0" width="1.1" height="28.8"/>
<rect x="577.3" y="90.0" width="0.8" height="34.0"/>
<rect x="580.5" y="90.0" width="4.8" height="51.2"/>
<rect x="582.6" y="90.0" width="1.0" height="54.6"/>
<rect x="583.7" y="90.0" width="0.9" height="57.1"/>
<rect x="584.3" y="90.0" width="3.5" height="38.3"/>
<rect x="585.5" y="90.0" width="1.3" height="44.4"/>
<rect x="586.9" y="90.0" width="4.5" height="68.9"/>
<rect x="588.4" y="90.0" width="1.3" height="73.9"/>
<rect x="589.9" y="90.0" width="1.1" height="74.9"/>
<rect x="594.2" y="90.0" width="8.2" height="94.6"/>
<rect x="599.1" y="90.0" width="1.4" height="97.6"/>
<rect x="596.8" y="90.0" width="0.9" height="95.6"/>
<rect x="595.1" y="90.0" width="1.5" height="96.5"/>
<rect x="595.7" y="90.0" width="0.9" height="100.7"/>
<rect x="600.1" y="93.2" width="1.5" height="93.5"/>
<rect x="595.9" y="90.0" width="2.6" height="128.5"/>
<rect x="596.6" y="90.0" width="1.1" height="131.8"/>
<rect x="601.4" y="93.5" width="6.6" height="55.8"/>
<rect x="602.6" y="93.3" width="1.2" height="57.8"/>
<rect x="606.4" y="93.6" width="1.7" height="59.5"/>
<rect x="603.0" y="93.4" width="1.7" height="58.1"/>
<rect x="607.0" y="93.9" width="6.6" height="24.8"/>
<rect x="609.2" y="93.8" width="0.8" height="27.6"/>
<rect x="609.7" y="93.9" width="1.3" height="26.2"/>
<rect x="609.9" y="93.9" width="0.8" height="26.7"/>
<rect x="612.7" y="94.2" width="4.5" height="74.3"/>
<rect x="613.4" y="94.2" width="1.2" height="74.7"/>
<rect x="613.2" y="94.1" width="1.1" height="76.1"/>
<rect x="616.2" y="94.5" width="5.8" height="41.8"/>
<rect x="619.0" y="94.6" width="1.3" height="47.2"/>
<rect x="619.2" y="94.6" width="1.5" height="48.1"/>
<rect x="618.2" y="94.5" width="1.1" height="49.0"/>
<rect x="622.0" y="94.9" width="3.2" height="55.9"/>
<rect x="622.7" y="94.9" width="1.5" height="60.6"/>
<rect x="624.3" y="95.2" width="6.3" height="33.1"/>
<rect x="624.9" y="95.0" width="1.6" height="39.7"/>
<rect x="627.5" y="95.2" width="1.5" height="38.9"/>
<rect x="625.4" y="95.1" width="1.3" height="36.9"/>
<rect x="629.6" y="95.5" width="5.3" height="62.5"/>
<rect x="632.9" y="95.6" width="1.6" height="68.4"/>
<rect x="632.0" y="95.6" width="1.7" height="67.4"/>
<rect x="632.4" y="95.6" width="1.0" height="62.7"/>
<rect x="633.9" y="96.1" width="10.6" height="45.1"/>
<rect x="635.6" y="95.8" width="1.2" height="46.1"/>
<rect x="641.7" y="96.3" width="1.3" height="49.4"/>
<rect x="639.8" y="96.2" width="1.5" height="48.5"/>
<rect x="634.4" y="95.8" width="1.6" height="50.8"/>
<rect x="638.8" y="96.1" width="1.3" height="49.9"/>
<rect x="635.0" y="95.8" width="1.5" height="47.2"/>
<rect x="643.6" y="96.6" width="6.3" height="30.1"/>
<rect x="644.4" y="96.5" width="1.1" height="35.5"/>
<rect x="645.0" y="96.6" width="1.5" height="37.2"/>
<rect x="646.2" y="96.6" width="1.2" height="33.5"/>
<rect x="650.0" y="97.0" width="3.5" height="53.8"/>
<rect x="651.6" y="97.1" width="1.5" height="58.2"/>
<rect x="652.6" y="97.3" width="3.2" height="35.8"/>
<rect x="653.9" y="97.3" width="0.9" height="36.9"/>
<polygon points="584.0,92.0 589.0,92.0 594.0,110.0 599.0,130.0 602.2,149.0 597.0,149.0 592.0,128.0 588.0,110.0" fill="#000"/>
<rect x="590.9" y="90.0" width="4.5" height="38.3"/>
</g>
<polygon points="438.3,93.3 442.0,93.3 442.4,110.5 440.4,104.0" fill="#fff"/>
<polygon points="589.3,97.6 600.0,97.6 600.6,143.0" fill="#fff"/>
<polygon points="620.4,98.5 624.5,98.5 624.0,104.0" fill="#fff"/>
<polygon points="629.3,98.8 638.8,99.2 638.4,102.6 630.8,102.2" fill="#fff"/>
<polygon points="551.0,95.5 556.0,95.5 555.5,100.5" fill="#fff"/>
<polygon points="566.5,95.5 571.0,95.5 570.5,102.0" fill="#fff"/>
<g fill="#000">
<rect x="658.0" y="98.0" width="3.7" height="24.4"/>
<rect x="660.5" y="98.4" width="4.2" height="18.1"/>
<rect x="663.5" y="98.8" width="3.7" height="24.8"/>
<rect x="666.0" y="99.2" width="4.4" height="18.3"/>
<rect x="669.2" y="99.7" width="4.0" height="20.4"/>
<rect x="672.0" y="100.2" width="4.8" height="19.4"/>
<rect x="675.6" y="100.7" width="4.9" height="17.6"/>
<rect x="679.3" y="101.3" width="4.7" height="33.6"/>
<rect x="682.8" y="101.9" width="3.7" height="18.7"/>
<rect x="685.3" y="102.3" width="3.6" height="19.7"/>
<rect x="687.6" y="102.6" width="4.1" height="30.7"/>
<rect x="690.6" y="103.1" width="4.7" height="24.7"/>
<rect x="694.1" y="103.6" width="4.5" height="18.0"/>
<rect x="697.3" y="104.2" width="4.1" height="15.1"/>
<rect x="700.2" y="104.6" width="4.1" height="20.1"/>
<rect x="703.1" y="105.1" width="3.5" height="20.1"/>
<rect x="705.3" y="105.5" width="4.7" height="17.0"/>
<rect x="708.9" y="106.4" width="4.7" height="17.3"/>
<rect x="712.4" y="107.3" width="4.5" height="24.9"/>
<rect x="715.7" y="108.2" width="3.9" height="24.8"/>
<rect x="718.3" y="108.9" width="4.3" height="20.9"/>
<rect x="721.4" y="109.6" width="3.7" height="15.4"/>
<rect x="723.9" y="110.3" width="4.7" height="18.0"/>
<rect x="727.4" y="111.2" width="3.6" height="16.9"/>
<rect x="729.8" y="111.8" width="3.5" height="25.2"/>
<rect x="732.2" y="112.4" width="4.8" height="28.7"/>
<rect x="735.8" y="113.3" width="4.8" height="34.2"/>
<rect x="739.4" y="114.2" width="4.5" height="18.2"/>
<rect x="742.7" y="115.1" width="4.0" height="29.2"/>
<rect x="745.5" y="115.8" width="3.7" height="18.9"/>
<rect x="748.0" y="116.4" width="3.4" height="21.6"/>
<rect x="750.3" y="117.0" width="3.7" height="26.1"/>
<rect x="752.8" y="117.6" width="3.7" height="21.4"/>
<rect x="755.3" y="118.3" width="4.2" height="20.6"/>
<rect x="758.3" y="119.3" width="3.5" height="19.2"/>
<rect x="760.6" y="120.1" width="4.1" height="19.1"/>
<rect x="763.5" y="121.0" width="5.0" height="20.0"/>
<rect x="767.2" y="122.3" width="3.5" height="16.6"/>
<rect x="769.6" y="123.1" width="3.4" height="16.0"/>
<rect x="771.8" y="123.8" width="4.2" height="28.9"/>
<rect x="774.8" y="124.8" width="3.9" height="21.2"/>
<rect x="777.5" y="125.8" width="3.9" height="19.0"/>
<rect x="780.2" y="126.7" width="3.7" height="31.7"/>
<rect x="782.7" y="127.5" width="4.1" height="26.8"/>
<rect x="785.6" y="128.4" width="3.6" height="19.7"/>
<rect x="788.0" y="129.2" width="3.9" height="29.7"/>
<rect x="790.7" y="130.1" width="4.7" height="26.9"/>
<rect x="794.2" y="131.8" width="3.3" height="26.4"/>
<rect x="796.3" y="133.1" width="4.1" height="19.2"/>
<rect x="799.2" y="135.0" width="3.9" height="29.5"/>
<rect x="801.9" y="136.7" width="4.7" height="30.6"/>
<rect x="805.4" y="138.4" width="3.4" height="16.4"/>
<rect x="807.6" y="139.5" width="4.4" height="34.8"/>
<rect x="810.8" y="141.5" width="4.4" height="26.9"/>
<rect x="814.0" y="144.3" width="4.2" height="17.8"/>
<rect x="817.0" y="147.1" width="3.6" height="28.2"/>
<rect x="819.4" y="150.1" width="3.7" height="15.3"/>
<rect x="821.9" y="153.4" width="4.3" height="17.8"/>
<rect x="825.1" y="159.8" width="3.3" height="19.9"/>
<rect x="827.2" y="166.8" width="3.9" height="13.8"/>
<rect x="654.7" y="98.0" width="2.8" height="92.0"/>
<rect x="650.0" y="97.4" width="2.8" height="53.0"/>
<rect x="673.5" y="100.9" width="2.8" height="43.5"/>
<rect x="689.6" y="103.5" width="2.8" height="54.3"/>
<rect x="696.9" y="104.6" width="2.8" height="67.9"/>
<rect x="715.7" y="108.8" width="2.8" height="44.2"/>
<rect x="723.1" y="110.7" width="2.8" height="35.0"/>
<rect x="732.5" y="113.1" width="2.8" height="37.3"/>
<rect x="737.9" y="114.5" width="2.8" height="32.5"/>
<rect x="749.9" y="117.6" width="2.8" height="39.4"/>
<rect x="761.3" y="121.1" width="2.8" height="36.7"/>
<rect x="767.4" y="123.1" width="2.8" height="22.6"/>
<rect x="778.1" y="126.7" width="2.8" height="29.8"/>
<rect x="787.1" y="129.7" width="2.8" height="36.3"/>
<rect x="790.2" y="130.7" width="2.8" height="47.9"/>
<rect x="793.6" y="132.5" width="2.8" height="27.5"/>
<rect x="806.3" y="139.9" width="2.8" height="45.4"/>
<rect x="813.0" y="145.0" width="2.8" height="26.0"/>
<rect x="817.0" y="149.2" width="2.8" height="16.8"/>
<polygon points="822.0,153.0 826.0,162.0 828.2,171.0 829.8,184.0 830.4,199.5 826.5,199.5 825.5,186.0 823.0,176.0 819.0,165.0" fill="#000"/>
<polygon points="827.3,90.2 853.0,93.6 857.0,96.0 859.6,102.0 860.4,108.0 860.4,128.5 856.0,129.5 856.0,123.0 853.5,123.0 853.0,130.5 850.0,130.5 849.5,124.0 846.0,121.0 844.5,113.0 843.5,118.5 840.0,118.5 836.0,113.0 833.5,110.5 833.3,150.0 832.6,170.7 830.4,170.7 829.6,125.0 828.5,108.0 827.3,104.3" fill="#000"/>
</g>
<polyline points="203.5,92.0 206.8,92.0 208.8,103.0 212.6,118.0 215.2,156.0" fill="none" stroke="#000" stroke-width="4.2" stroke-linejoin="round" stroke-linecap="butt"/>
<polyline points="215.2,156.0 217.7,207.0 220.3,271.0 222.8,322.0 225.4,348.0 227.2,393.5" fill="none" stroke="#000" stroke-width="3.3" stroke-linejoin="round" stroke-linecap="butt"/>
<polyline points="225.4,345.0 226.2,380.0" fill="none" stroke="#000" stroke-width="2.2" stroke-linejoin="round" stroke-linecap="butt"/>
<polyline points="306.0,94.0 311.5,101.0 315.5,113.0 318.6,135.0 320.5,160.0 322.0,184.5" fill="none" stroke="#000" stroke-width="7.2" stroke-linejoin="round" stroke-linecap="butt"/>
<polyline points="324.7,92.8 340.0,103.8 357.8,115.2 370.6,141.8" fill="none" stroke="#000" stroke-width="6" stroke-linejoin="round" stroke-linecap="butt"/>
<polyline points="355.8,113.7 357.8,115.2 370.6,141.8 383.3,177.8 396.0,218.4 403.7,243.8 411.3,271.8 419.0,297.4" fill="none" stroke="#000" stroke-width="7.8" stroke-linejoin="round" stroke-linecap="butt"/>
<polyline points="411.3,271.8 419.0,297.4 424.1,330.8 426.1,357.3" fill="none" stroke="#000" stroke-width="6.2" stroke-linejoin="round" stroke-linecap="butt"/>
<polyline points="413.0,290.0 418.0,300.0 420.5,320.0 421.5,338.0" fill="none" stroke="#000" stroke-width="3.4" stroke-linejoin="round" stroke-linecap="butt"/>
<polyline points="575.0,92.6 600.0,93.5 606.0,94.0 612.0,94.4 618.0,94.9 624.0,95.3 630.0,95.8 636.0,96.2 642.0,96.7 648.0,97.1 654.0,97.7 660.0,98.6 666.0,99.5 672.0,100.5 678.0,101.4 684.0,102.4 690.0,103.3 696.0,104.2 702.0,105.2 708.0,106.5 714.0,108.0 720.0,109.6 726.0,111.1 732.0,112.6 738.0,114.2 744.0,115.7 750.0,117.2 756.0,118.8 762.0,120.9 768.0,122.9 774.0,124.9 780.0,126.9 786.0,128.9 792.0,130.8 798.0,134.5 804.0,138.0 810.0,141.1 816.0,146.4 822.0,153.7 828.0,170.3" fill="none" stroke="#000" stroke-width="2.2" stroke-linejoin="round" stroke-linecap="butt"/>
<polyline points="829.6,92.0 830.2,125.0" fill="none" stroke="#000" stroke-width="2.4" stroke-linejoin="round" stroke-linecap="butt"/>
<g>
<rect x="155.80" y="487.0" width="1.25" height="90.1" fill="#BEBEBE"/>
<rect x="156.80" y="487.0" width="1.25" height="90.1" fill="#6AA09A"/>
<rect x="157.80" y="487.0" width="1.25" height="90.1" fill="#D4D47F"/>
<rect x="158.80" y="487.0" width="1.25" height="90.1" fill="#94C9C4"/>
<rect x="159.80" y="487.0" width="1.25" height="90.1" fill="#94C9C4"/>
<rect x="160.80" y="487.0" width="1.25" height="90.1" fill="#BEBEBE"/>
<rect x="161.80" y="487.0" width="1.25" height="90.1" fill="#3F3FE9"/>
<rect x="162.80" y="487.0" width="1.25" height="90.1" fill="#55DF85"/>
<rect x="163.80" y="487.0" width="1.25" height="90.1" fill="#7F7FD4"/>
<rect x="164.80" y="487.0" width="1.25" height="90.1" fill="#8C9893"/>
<rect x="165.80" y="487.0" width="1.25" height="90.1" fill="#94C9C4"/>
<rect x="166.80" y="487.0" width="1.25" height="90.1" fill="#BEBEBE"/>
<rect x="167.80" y="487.0" width="1.25" height="90.1" fill="#BEBEBE"/>
<rect x="168.80" y="487.0" width="1.25" height="90.1" fill="#0000FF"/>
<rect x="169.80" y="487.0" width="1.25" height="90.1" fill="#B68D8D"/>
<rect x="170.80" y="487.0" width="1.25" height="90.1" fill="#558ADA"/>
<rect x="171.80" y="487.0" width="1.25" height="90.1" fill="#BEBEBE"/>
<rect x="172.80" y="487.0" width="1.25" height="90.1" fill="#BEBEBE"/>
<rect x="173.80" y="487.0" width="1.25" height="90.1" fill="#94E93F"/>
<rect x="174.80" y="487.0" width="1.25" height="90.1" fill="#3F3FE9"/>
<rect x="175.80" y="487.0" width="1.25" height="90.1" fill="#94C9C4"/>
<rect x="176.80" y="487.0" width="1.25" height="90.1" fill="#7F7FD4"/>
<rect x="177.80" y="487.0" width="1.25" height="90.1" fill="#BEBEBE"/>
<rect x="178.80" y="487.0" width="1.25" height="90.1" fill="#7F7FD4"/>
<rect x="179.80" y="487.0" width="1.25" height="90.1" fill="#764DA2"/>
<rect x="180.80" y="487.0" width="1.25" height="90.1" fill="#D4D47F"/>
<rect x="181.80" y="487.0" width="1.25" height="90.1" fill="#7F7FD4"/>
<rect x="182.80" y="487.0" width="1.25" height="90.1" fill="#764DA2"/>
<rect x="183.80" y="487.0" width="1.25" height="90.1" fill="#B68D8D"/>
<rect x="184.80" y="487.0" width="1.25" height="90.1" fill="#E9E93F"/>
<rect x="185.80" y="487.0" width="1.25" height="90.1" fill="#8C9893"/>
<rect x="186.80" y="487.0" width="1.25" height="90.1" fill="#0000FF"/>
<rect x="187.80" y="487.0" width="1.25" height="90.1" fill="#94C9C4"/>
<rect x="188.80" y="487.0" width="1.25" height="90.1" fill="#7F7FD4"/>
<rect x="189.80" y="487.0" width="1.25" height="90.1" fill="#BEBEBE"/>
<rect x="190.80" y="487.0" width="1.25" height="90.1" fill="#943F94"/>
<rect x="191.80" y="487.0" width="1.25" height="90.1" fill="#BEBEBE"/>
<rect x="192.80" y="487.0" width="1.25" height="90.1" fill="#558ADA"/>
<rect x="193.80" y="487.0" width="1.25" height="90.1" fill="#2B95E0"/>
<rect x="194.80" y="487.0" width="1.25" height="90.1" fill="#558ADA"/>
<rect x="195.80" y="487.0" width="1.25" height="90.1" fill="#558ADA"/>
<rect x="196.80" y="487.0" width="1.25" height="90.1" fill="#BEBEBE"/>
<rect x="197.80" y="487.0" width="1.25" height="90.1" fill="#94C9C4"/>
<rect x="198.80" y="487.0" width="1.25" height="90.1" fill="#558ADA"/>
<rect x="199.80" y="487.0" width="1.25" height="90.1" fill="#AA8A85"/>
<rect x="200.80" y="487.0" width="0.65" height="90.1" fill="#764DA2"/>
<rect x="201.20" y="487.0" width="25.45" height="90.1" fill="#FF0000"/>
<rect x="226.40" y="487.0" width="1.25" height="90.1" fill="#7FD47F"/>
<rect x="227.40" y="487.0" width="1.25" height="90.1" fill="#6AA09A"/>
<rect x="228.40" y="487.0" width="1.25" height="90.1" fill="#6AA09A"/>
<rect x="229.40" y="487.0" width="1.25" height="90.1" fill="#40E0D0"/>
<rect x="230.40" y="487.0" width="1.25" height="90.1" fill="#94C9C4"/>
<rect x="231.40" y="487.0" width="1.25" height="90.1" fill="#7F7FD4"/>
<rect x="232.40" y="487.0" width="1.25" height="90.1" fill="#558ADA"/>
<rect x="233.40" y="487.0" width="1.25" height="90.1" fill="#558ADA"/>
<rect x="234.40" y="487.0" width="1.25" height="90.1" fill="#40E0D0"/>
<rect x="235.40" y="487.0" width="1.25" height="90.1" fill="#558ADA"/>
<rect x="236.40" y="487.0" width="1.25" height="90.1" fill="#2BEA8B"/>
<rect x="237.40" y="487.0" width="1.25" height="90.1" fill="#2B95E0"/>
<rect x="238.40" y="487.0" width="1.25" height="90.1" fill="#558ADA"/>
<rect x="239.40" y="487.0" width="1.25" height="90.1" fill="#8C9893"/>
<rect x="240.40" y="487.0" width="1.25" height="90.1" fill="#2B95E0"/>
<rect x="241.40" y="487.0" width="1.25" height="90.1" fill="#6AD5CA"/>
<rect x="242.40" y="487.0" width="1.25" height="90.1" fill="#6AD5CA"/>
<rect x="243.40" y="487.0" width="1.25" height="90.1" fill="#6AD5CA"/>
<rect x="244.40" y="487.0" width="1.25" height="90.1" fill="#558ADA"/>
<rect x="245.40" y="487.0" width="1.25" height="90.1" fill="#D4D47F"/>
<rect x="246.40" y="487.0" width="1.25" height="90.1" fill="#AADF85"/>
<rect x="247.40" y="487.0" width="1.25" height="90.1" fill="#4C59A8"/>
<rect x="248.40" y="487.0" width="1.25" height="90.1" fill="#2B95E0"/>
<rect x="249.40" y="487.0" width="1.25" height="90.1" fill="#558ADA"/>
<rect x="250.40" y="487.0" width="1.25" height="90.1" fill="#6AD5CA"/>
<rect x="251.40" y="487.0" width="1.25" height="90.1" fill="#3F3FE9"/>
<rect x="252.40" y="487.0" width="1.25" height="90.1" fill="#3F3FE9"/>
<rect x="253.40" y="487.0" width="1.25" height="90.1" fill="#40E0D0"/>
<rect x="254.40" y="487.0" width="1.25" height="90.1" fill="#40E0D0"/>
<rect x="255.40" y="487.0" width="1.25" height="90.1" fill="#6AD5CA"/>
<rect x="256.40" y="487.0" width="1.25" height="90.1" fill="#2B95E0"/>
<rect x="257.40" y="487.0" width="1.25" height="90.1" fill="#6AD5CA"/>
<rect x="258.40" y="487.0" width="1.25" height="90.1" fill="#94C9C4"/>
<rect x="259.40" y="487.0" width="1.25" height="90.1" fill="#6AD5CA"/>
<rect x="260.40" y="487.0" width="1.25" height="90.1" fill="#154BEF"/>
<rect x="261.40" y="487.0" width="0.85" height="90.1" fill="#40E0D0"/>
<rect x="262.00" y="487.0" width="1.25" height="90.1" fill="#76A24D"/>
<rect x="263.00" y="487.0" width="1.25" height="90.1" fill="#154BEF"/>
<rect x="264.00" y="487.0" width="1.25" height="90.1" fill="#6AF545"/>
<rect x="265.00" y="487.0" width="1.25" height="90.1" fill="#3F9494"/>
<rect x="266.00" y="487.0" width="1.25" height="90.1" fill="#949494"/>
<rect x="267.00" y="487.0" width="1.25" height="90.1" fill="#558ADA"/>
<rect x="268.00" y="487.0" width="1.25" height="90.1" fill="#40E0D0"/>
<rect x="269.00" y="487.0" width="1.25" height="90.1" fill="#94C9C4"/>
<rect x="270.00" y="487.0" width="1.25" height="90.1" fill="#949494"/>
<rect x="271.00" y="487.0" width="1.25" height="90.1" fill="#558ADA"/>
<rect x="272.00" y="487.0" width="1.25" height="90.1" fill="#62A399"/>
<rect x="273.00" y="487.0" width="1.25" height="90.1" fill="#3F9494"/>
<rect x="274.00" y="487.0" width="1.25" height="90.1" fill="#15A09A"/>
<rect x="275.00" y="487.0" width="1.25" height="90.1" fill="#2B95E0"/>
<rect x="276.00" y="487.0" width="1.25" height="90.1" fill="#3F3FE9"/>
<rect x="277.00" y="487.0" width="1.25" height="90.1" fill="#15A09A"/>
<rect x="278.00" y="487.0" width="1.25" height="90.1" fill="#94C9C4"/>
<rect x="279.00" y="487.0" width="1.25" height="90.1" fill="#2B95E0"/>
<rect x="280.00" y="487.0" width="1.25" height="90.1" fill="#558ADA"/>
<rect x="281.00" y="487.0" width="1.25" height="90.1" fill="#BEBEBE"/>
<rect x="282.00" y="487.0" width="1.25" height="90.1" fill="#6AD5CA"/>
<rect x="283.00" y="487.0" width="1.25" height="90.1" fill="#2B95E0"/>
<rect x="284.00" y="487.0" width="1.25" height="90.1" fill="#55DF85"/>
<rect x="285.00" y="487.0" width="1.25" height="90.1" fill="#764DA2"/>
<rect x="286.00" y="487.0" width="1.25" height="90.1" fill="#6AD5CA"/>
<rect x="287.00" y="487.0" width="1.25" height="90.1" fill="#2B95E0"/>
<rect x="288.00" y="487.0" width="1.25" height="90.1" fill="#15A09A"/>
<rect x="289.00" y="487.0" width="1.25" height="90.1" fill="#6AD5CA"/>
<rect x="290.00" y="487.0" width="1.25" height="90.1" fill="#558ADA"/>
<rect x="291.00" y="487.0" width="1.25" height="90.1" fill="#2B95E0"/>
<rect x="292.00" y="487.0" width="1.25" height="90.1" fill="#0000FF"/>
<rect x="293.00" y="487.0" width="1.25" height="90.1" fill="#154BEF"/>
<rect x="294.00" y="487.0" width="1.25" height="90.1" fill="#3F3FE9"/>
<rect x="295.00" y="487.0" width="1.25" height="90.1" fill="#0000FF"/>
<rect x="296.00" y="487.0" width="1.25" height="90.1" fill="#154BEF"/>
<rect x="297.00" y="487.0" width="1.25" height="90.1" fill="#0000FF"/>
<rect x="298.00" y="487.0" width="1.25" height="90.1" fill="#0000FF"/>
<rect x="299.00" y="487.0" width="1.25" height="90.1" fill="#0000FF"/>
<rect x="300.00" y="487.0" width="1.25" height="90.1" fill="#0000FF"/>
<rect x="301.00" y="487.0" width="1.25" height="90.1" fill="#3F3FE9"/>
<rect x="302.00" y="487.0" width="1.25" height="90.1" fill="#0000FF"/>
<rect x="303.00" y="487.0" width="1.25" height="90.1" fill="#0000FF"/>
<rect x="304.00" y="487.0" width="0.75" height="90.1" fill="#0000FF"/>
<rect x="304.50" y="487.0" width="18.35" height="90.1" fill="#A52A2A"/>
<rect x="322.60" y="487.0" width="104.35" height="90.1" fill="#0000FF"/>
<rect x="426.70" y="487.0" width="1.25" height="90.1" fill="#154BEF"/>
<rect x="427.70" y="487.0" width="1.25" height="90.1" fill="#2B95E0"/>
<rect x="428.70" y="487.0" width="1.25" height="90.1" fill="#558ADA"/>
<rect x="429.70" y="487.0" width="1.25" height="90.1" fill="#94C9C4"/>
<rect x="430.70" y="487.0" width="1.25" height="90.1" fill="#6AD5CA"/>
<rect x="431.70" y="487.0" width="1.25" height="90.1" fill="#0000FF"/>
<rect x="432.70" y="487.0" width="1.25" height="90.1" fill="#3F3FE9"/>
<rect x="433.70" y="487.0" width="1.25" height="90.1" fill="#154BEF"/>
<rect x="434.70" y="487.0" width="1.25" height="90.1" fill="#949494"/>
<rect x="435.70" y="487.0" width="1.25" height="90.1" fill="#94C9C4"/>
<rect x="436.70" y="487.0" width="1.25" height="90.1" fill="#0000FF"/>
<rect x="437.70" y="487.0" width="1.25" height="90.1" fill="#0000FF"/>
<rect x="438.70" y="487.0" width="1.25" height="90.1" fill="#7F7FD4"/>
<rect x="439.70" y="487.0" width="1.25" height="90.1" fill="#6AD5CA"/>
<rect x="440.70" y="487.0" width="1.25" height="90.1" fill="#2B95E0"/>
<rect x="441.70" y="487.0" width="1.25" height="90.1" fill="#15A09A"/>
<rect x="442.70" y="487.0" width="1.25" height="90.1" fill="#6AD5CA"/>
<rect x="443.70" y="487.0" width="1.25" height="90.1" fill="#2B95E0"/>
<rect x="444.70" y="487.0" width="0.35" height="90.1" fill="#3F3FE9"/>
<rect x="444.80" y="487.0" width="21.75" height="90.1" fill="#FFFF00"/>
<rect x="466.30" y="487.0" width="1.25" height="90.1" fill="#BEBEBE"/>
<rect x="467.30" y="487.0" width="1.25" height="90.1" fill="#20F068"/>
<rect x="468.30" y="487.0" width="1.25" height="90.1" fill="#40E0D0"/>
<rect x="469.30" y="487.0" width="1.25" height="90.1" fill="#2070E8"/>
<rect x="470.30" y="487.0" width="1.25" height="90.1" fill="#2070E8"/>
<rect x="471.30" y="487.0" width="1.25" height="90.1" fill="#20F068"/>
<rect x="472.30" y="487.0" width="1.25" height="90.1" fill="#40E0D0"/>
<rect x="473.30" y="487.0" width="1.25" height="90.1" fill="#40E0D0"/>
<rect x="474.30" y="487.0" width="1.25" height="90.1" fill="#0000FF"/>
<rect x="475.30" y="487.0" width="1.25" height="90.1" fill="#2070E8"/>
<rect x="476.30" y="487.0" width="1.25" height="90.1" fill="#40E0D0"/>
<rect x="477.30" y="487.0" width="1.25" height="90.1" fill="#2070E8"/>
<rect x="478.30" y="487.0" width="1.25" height="90.1" fill="#40E0D0"/>
<rect x="479.30" y="487.0" width="1.25" height="90.1" fill="#2070E8"/>
<rect x="480.30" y="487.0" width="1.25" height="90.1" fill="#2070E8"/>
<rect x="481.30" y="487.0" width="1.25" height="90.1" fill="#40E0D0"/>
<rect x="482.30" y="487.0" width="1.25" height="90.1" fill="#40E0D0"/>
<rect x="483.30" y="487.0" width="1.25" height="90.1" fill="#2070E8"/>
<rect x="484.30" y="487.0" width="1.25" height="90.1" fill="#40E0D0"/>
<rect x="485.30" y="487.0" width="1.25" height="90.1" fill="#40E0D0"/>
<rect x="486.30" y="487.0" width="1.25" height="90.1" fill="#40E0D0"/>
<rect x="487.30" y="487.0" width="1.25" height="90.1" fill="#40E0D0"/>
<rect x="488.30" y="487.0" width="1.25" height="90.1" fill="#2070E8"/>
<rect x="489.30" y="487.0" width="1.25" height="90.1" fill="#40E0D0"/>
<rect x="490.30" y="487.0" width="1.25" height="90.1" fill="#40E0D0"/>
<rect x="491.30" y="487.0" width="1.25" height="90.1" fill="#40E0D0"/>
<rect x="492.30" y="487.0" width="1.25" height="90.1" fill="#00FF00"/>
<rect x="493.30" y="487.0" width="1.25" height="90.1" fill="#20F068"/>
<rect x="494.30" y="487.0" width="1.25" height="90.1" fill="#40E0D0"/>
<rect x="495.30" y="487.0" width="1.25" height="90.1" fill="#2070E8"/>
<rect x="496.30" y="487.0" width="1.25" height="90.1" fill="#40E0D0"/>
<rect x="497.30" y="487.0" width="1.25" height="90.1" fill="#40E0D0"/>
<rect x="498.30" y="487.0" width="1.25" height="90.1" fill="#40E0D0"/>
<rect x="499.30" y="487.0" width="1.25" height="90.1" fill="#40E0D0"/>
<rect x="500.30" y="487.0" width="1.25" height="90.1" fill="#40E0D0"/>
<rect x="501.30" y="487.0" width="1.25" height="90.1" fill="#40E0D0"/>
<rect x="502.30" y="487.0" width="1.25" height="90.1" fill="#40E0D0"/>
<rect x="503.30" y="487.0" width="1.25" height="90.1" fill="#40E0D0"/>
<rect x="504.30" y="487.0" width="1.25" height="90.1" fill="#2070E8"/>
<rect x="505.30" y="487.0" width="1.25" height="90.1" fill="#2070E8"/>
<rect x="506.30" y="487.0" width="1.25" height="90.1" fill="#40E0D0"/>
<rect x="507.30" y="487.0" width="1.25" height="90.1" fill="#40E0D0"/>
<rect x="508.30" y="487.0" width="1.25" height="90.1" fill="#40E0D0"/>
<rect x="509.30" y="487.0" width="1.25" height="90.1" fill="#40E0D0"/>
<rect x="510.30" y="487.0" width="1.25" height="90.1" fill="#40E0D0"/>
<rect x="511.30" y="487.0" width="1.25" height="90.1" fill="#40E0D0"/>
<rect x="512.30" y="487.0" width="1.25" height="90.1" fill="#40E0D0"/>
<rect x="513.30" y="487.0" width="1.25" height="90.1" fill="#40E0D0"/>
<rect x="514.30" y="487.0" width="1.25" height="90.1" fill="#0000FF"/>
<rect x="515.30" y="487.0" width="1.25" height="90.1" fill="#40E0D0"/>
<rect x="516.30" y="487.0" width="1.25" height="90.1" fill="#40E0D0"/>
<rect x="517.30" y="487.0" width="1.25" height="90.1" fill="#2070E8"/>
<rect x="518.30" y="487.0" width="1.25" height="90.1" fill="#20F068"/>
<rect x="519.30" y="487.0" width="1.25" height="90.1" fill="#40E0D0"/>
<rect x="520.30" y="487.0" width="1.25" height="90.1" fill="#20F068"/>
<rect x="521.30" y="487.0" width="1.25" height="90.1" fill="#40E0D0"/>
<rect x="522.30" y="487.0" width="1.25" height="90.1" fill="#7FCFC7"/>
<rect x="523.30" y="487.0" width="1.25" height="90.1" fill="#40E0D0"/>
<rect x="524.30" y="487.0" width="1.25" height="90.1" fill="#40E0D0"/>
<rect x="525.30" y="487.0" width="1.25" height="90.1" fill="#40E0D0"/>
<rect x="526.30" y="487.0" width="1.25" height="90.1" fill="#40E0D0"/>
<rect x="527.30" y="487.0" width="1.25" height="90.1" fill="#40E0D0"/>
<rect x="528.30" y="487.0" width="1.25" height="90.1" fill="#40E0D0"/>
<rect x="529.30" y="487.0" width="1.25" height="90.1" fill="#20F068"/>
<rect x="530.30" y="487.0" width="1.25" height="90.1" fill="#2070E8"/>
<rect x="531.30" y="487.0" width="1.25" height="90.1" fill="#40E0D0"/>
<rect x="532.30" y="487.0" width="1.25" height="90.1" fill="#2070E8"/>
<rect x="533.30" y="487.0" width="1.25" height="90.1" fill="#2070E8"/>
<rect x="534.30" y="487.0" width="1.25" height="90.1" fill="#40E0D0"/>
<rect x="535.30" y="487.0" width="1.25" height="90.1" fill="#BEBEBE"/>
<rect x="536.30" y="487.0" width="1.25" height="90.1" fill="#40E0D0"/>
<rect x="537.30" y="487.0" width="1.25" height="90.1" fill="#40E0D0"/>
<rect x="538.30" y="487.0" width="1.25" height="90.1" fill="#40E0D0"/>
<rect x="539.30" y="487.0" width="1.25" height="90.1" fill="#2070E8"/>
<rect x="540.30" y="487.0" width="1.25" height="90.1" fill="#521594"/>
<rect x="541.30" y="487.0" width="1.25" height="90.1" fill="#0000FF"/>
<rect x="542.30" y="487.0" width="1.25" height="90.1" fill="#BEBEBE"/>
<rect x="543.30" y="487.0" width="1.25" height="90.1" fill="#40E0D0"/>
<rect x="544.30" y="487.0" width="1.25" height="90.1" fill="#40E0D0"/>
<rect x="545.30" y="487.0" width="1.25" height="90.1" fill="#40E0D0"/>
<rect x="546.30" y="487.0" width="1.25" height="90.1" fill="#A52A2A"/>
<rect x="547.30" y="487.0" width="1.25" height="90.1" fill="#2070E8"/>
<rect x="548.30" y="487.0" width="1.25" height="90.1" fill="#40E0D0"/>
<rect x="549.30" y="487.0" width="1.25" height="90.1" fill="#0000FF"/>
<rect x="550.30" y="487.0" width="1.25" height="90.1" fill="#40E0D0"/>
<rect x="551.30" y="487.0" width="1.25" height="90.1" fill="#40E0D0"/>
<rect x="552.30" y="487.0" width="1.25" height="90.1" fill="#40E0D0"/>
<rect x="553.30" y="487.0" width="1.25" height="90.1" fill="#40E0D0"/>
<rect x="554.30" y="487.0" width="1.25" height="90.1" fill="#40E0D0"/>
<rect x="555.30" y="487.0" width="1.25" height="90.1" fill="#40E0D0"/>
<rect x="556.30" y="487.0" width="1.25" height="90.1" fill="#2070E8"/>
<rect x="557.30" y="487.0" width="1.25" height="90.1" fill="#0000FF"/>
<rect x="558.30" y="487.0" width="1.25" height="90.1" fill="#40E0D0"/>
<rect x="559.30" y="487.0" width="1.25" height="90.1" fill="#40E0D0"/>
<rect x="560.30" y="487.0" width="1.25" height="90.1" fill="#40E0D0"/>
<rect x="561.30" y="487.0" width="1.25" height="90.1" fill="#40E0D0"/>
<rect x="562.30" y="487.0" width="1.25" height="90.1" fill="#A0F068"/>
<rect x="563.30" y="487.0" width="1.25" height="90.1" fill="#40E0D0"/>
<rect x="564.30" y="487.0" width="1.25" height="90.1" fill="#40E0D0"/>
<rect x="565.30" y="487.0" width="1.25" height="90.1" fill="#2070E8"/>
<rect x="566.30" y="487.0" width="1.25" height="90.1" fill="#40E0D0"/>
<rect x="567.30" y="487.0" width="1.25" height="90.1" fill="#40E0D0"/>
<rect x="568.30" y="487.0" width="1.25" height="90.1" fill="#2070E8"/>
<rect x="569.30" y="487.0" width="1.25" height="90.1" fill="#2070E8"/>
<rect x="570.30" y="487.0" width="1.25" height="90.1" fill="#40E0D0"/>
<rect x="571.30" y="487.0" width="1.25" height="90.1" fill="#2070E8"/>
<rect x="572.30" y="487.0" width="1.25" height="90.1" fill="#40E0D0"/>
<rect x="573.30" y="487.0" width="1.25" height="90.1" fill="#2070E8"/>
<rect x="574.30" y="487.0" width="1.25" height="90.1" fill="#40E0D0"/>
<rect x="575.30" y="487.0" width="1.25" height="90.1" fill="#40E0D0"/>
<rect x="576.30" y="487.0" width="1.25" height="90.1" fill="#7FCFC7"/>
<rect x="577.30" y="487.0" width="1.25" height="90.1" fill="#40E0D0"/>
<rect x="578.30" y="487.0" width="1.25" height="90.1" fill="#A0F068"/>
<rect x="579.30" y="487.0" width="1.25" height="90.1" fill="#40E0D0"/>
<rect x="580.30" y="487.0" width="1.25" height="90.1" fill="#40E0D0"/>
<rect x="581.30" y="487.0" width="0.75" height="90.1" fill="#40E0D0"/>
<rect x="581.80" y="487.0" width="18.65" height="90.1" fill="#00FF00"/>
<rect x="600.20" y="487.0" width="226.95" height="90.1" fill="#40E0D0"/>
<rect x="826.90" y="487.0" width="1.26" height="90.1" fill="#B4ACAC"/>
<rect x="827.91" y="487.0" width="1.26" height="90.1" fill="#A08898"/>
<rect x="828.91" y="487.0" width="1.26" height="90.1" fill="#8CC0B8"/>
<rect x="829.92" y="487.0" width="1.26" height="90.1" fill="#B09098"/>
<rect x="830.93" y="487.0" width="1.26" height="90.1" fill="#9CB0A8"/>
<rect x="831.93" y="487.0" width="1.26" height="90.1" fill="#A890A0"/>
<rect x="832.94" y="487.0" width="1.26" height="90.1" fill="#3454E0"/>
<rect x="833.95" y="487.0" width="1.26" height="90.1" fill="#3454E0"/>
<rect x="834.95" y="487.0" width="1.26" height="90.1" fill="#3050E0"/>
<rect x="835.96" y="487.0" width="1.26" height="90.1" fill="#3C5CE0"/>
<rect x="836.97" y="487.0" width="1.26" height="90.1" fill="#9080B0"/>
<rect x="837.97" y="487.0" width="1.26" height="90.1" fill="#B06070"/>
<rect x="838.98" y="487.0" width="1.26" height="90.1" fill="#70B0B0"/>
<rect x="839.99" y="487.0" width="1.26" height="90.1" fill="#C05858"/>
<rect x="840.99" y="487.0" width="1.26" height="90.1" fill="#80A8A8"/>
<rect x="842.00" y="487.0" width="1.26" height="90.1" fill="#C04444"/>
<rect x="843.01" y="487.0" width="1.26" height="90.1" fill="#60B0A8"/>
<rect x="844.01" y="487.0" width="1.26" height="90.1" fill="#78A8A0"/>
<rect x="845.02" y="487.0" width="1.26" height="90.1" fill="#58B8B0"/>
<rect x="846.03" y="487.0" width="1.26" height="90.1" fill="#C03434"/>
<rect x="847.03" y="487.0" width="1.26" height="90.1" fill="#C03838"/>
<rect x="848.04" y="487.0" width="1.26" height="90.1" fill="#A87890"/>
<rect x="849.05" y="487.0" width="1.26" height="90.1" fill="#C05050"/>
<rect x="850.05" y="487.0" width="1.26" height="90.1" fill="#B08090"/>
<rect x="851.06" y="487.0" width="1.26" height="90.1" fill="#C85858"/>
<rect x="852.07" y="487.0" width="1.26" height="90.1" fill="#A88898"/>
<rect x="853.07" y="487.0" width="1.26" height="90.1" fill="#50C8C0"/>
<rect x="854.08" y="487.0" width="1.26" height="90.1" fill="#58C0B8"/>
<rect x="855.09" y="487.0" width="1.26" height="90.1" fill="#2438F0"/>
<rect x="856.09" y="487.0" width="1.26" height="90.1" fill="#1C30F0"/>
<rect x="857.10" y="487.0" width="3.55" height="90.1" fill="#40E0D0"/>
<rect x="169.3" y="487.0" width="1.2" height="90.1" fill="#F0F060"/>
<rect x="196.5" y="487.0" width="1.2" height="90.1" fill="#E8D080"/>
<rect x="248.4" y="487.0" width="1.2" height="90.1" fill="#60E860"/>
<rect x="256.3" y="487.0" width="1.2" height="90.1" fill="#A0D050"/>
<rect x="257.8" y="487.0" width="1.2" height="90.1" fill="#B0D840"/>
<rect x="260.5" y="487.0" width="1.2" height="90.1" fill="#1010F0"/>
<rect x="443.6" y="487.0" width="1.2" height="90.1" fill="#D04030"/>
</g>
<path d="M155.3 487.0H860.5M155.3 577.1H860.5" stroke="#000" stroke-width="2.5"/>
<text x="904.0" y="30.8" font-size="42" text-anchor="start" font-weight="bold" fill="#000">C</text>
<ellipse cx="1112.3" cy="304" rx="164" ry="153" fill="#8C9ED8" stroke="#586CC6" stroke-width="2.3"/>
<ellipse cx="1252.8" cy="304" rx="164" ry="153" fill="#E78E8E" stroke="#D6525C" stroke-width="2.3"/>
<clipPath id="cpB"><ellipse cx="1112.3" cy="304" rx="164" ry="153"/></clipPath>
<ellipse cx="1252.8" cy="304" rx="164" ry="153" fill="#AC5A78" clip-path="url(#cpB)"/>
<ellipse cx="1112.3" cy="304" rx="164" ry="153" fill="none" stroke="#84466F" stroke-width="2.2" clip-path="url(#cpR)"/>
<clipPath id="cpR"><ellipse cx="1252.8" cy="304" rx="164" ry="153"/></clipPath>
<ellipse cx="1252.8" cy="304" rx="164" ry="153" fill="none" stroke="#C03E58" stroke-width="2.2" clip-path="url(#cpB)"/>
<text x="959.0" y="153.0" font-size="17.6" text-anchor="start" fill="#000">Diff_OS</text>
<text x="1238.5" y="480.5" font-size="17.6" text-anchor="start" fill="#000">WGCNA_blue</text>
<text x="1011.5" y="311.5" font-size="17.6" text-anchor="middle" fill="#000">176</text>
<text x="1170.5" y="310.5" font-size="17.6" text-anchor="middle" fill="#000">333</text>
<text x="1334.5" y="312.0" font-size="17.6" text-anchor="middle" fill="#000">508</text>
<text x="5.7" y="652.1" font-size="42" text-anchor="start" font-weight="bold" fill="#000">B</text>
<text x="324.7" y="679.8" font-size="17.6" text-anchor="middle" fill="#000">Module−trait relationships(TCGA)</text>
<rect x="105.6" y="690.1" width="41.7" height="91.3" fill="#FF0000"/>
<rect x="153.4" y="690.1" width="201.4" height="91.3" fill="#EFF8FF"/>
<rect x="354.8" y="690.1" width="204.9" height="91.3" fill="#FFF2EF"/>
<text x="98.0" y="743.7" font-size="17.6" text-anchor="end" fill="#000">MEred</text>
<text x="236.4" y="733.2" font-size="17.6" text-anchor="start" fill="#000">−0.064</text>
<text x="242.4" y="750.0" font-size="17.6" text-anchor="start" fill="#000">(0.2)</text>
<text x="443.0" y="733.2" font-size="17.6" text-anchor="start" fill="#000">0.064</text>
<text x="445.6" y="750.0" font-size="17.6" text-anchor="start" fill="#000">(0.2)</text>
<rect x="105.6" y="781.1" width="41.7" height="88.6" fill="#0000FF"/>
<rect x="153.4" y="781.1" width="201.4" height="88.6" fill="#4CAAFF"/>
<rect x="354.8" y="781.1" width="204.9" height="88.6" fill="#FF6842"/>
<text x="98.0" y="832.0" font-size="17.6" text-anchor="end" fill="#000">MEblue</text>
<text x="239.6" y="821.5" font-size="17.6" text-anchor="start" fill="#000">−0.74</text>
<text x="234.1" y="838.2" font-size="17.6" text-anchor="start" fill="#000">(5e−83)</text>
<text x="446.2" y="821.5" font-size="17.6" text-anchor="start" fill="#000">0.74</text>
<text x="437.2" y="838.2" font-size="17.6" text-anchor="start" fill="#000">(5e−83)</text>
<rect x="105.6" y="869.4" width="41.7" height="88.6" fill="#A52A2A"/>
<rect x="153.4" y="869.4" width="201.4" height="88.6" fill="#DBEEFF"/>
<rect x="354.8" y="869.4" width="204.9" height="88.6" fill="#FFE0D9"/>
<text x="98.0" y="920.3" font-size="17.6" text-anchor="end" fill="#000">MEbrown</text>
<text x="239.6" y="909.8" font-size="17.6" text-anchor="start" fill="#000">−0.15</text>
<text x="235.9" y="926.6" font-size="17.6" text-anchor="start" fill="#000">(0.002)</text>
<text x="446.2" y="909.8" font-size="17.6" text-anchor="start" fill="#000">0.15</text>
<text x="439.0" y="926.6" font-size="17.6" text-anchor="start" fill="#000">(0.002)</text>
<rect x="105.6" y="957.7" width="41.7" height="88.6" fill="#FFFF00"/>
<rect x="153.4" y="957.7" width="201.4" height="88.6" fill="#FFE9E3"/>
<rect x="354.8" y="957.7" width="204.9" height="88.6" fill="#E4F2FF"/>
<text x="98.0" y="1008.6" font-size="17.6" text-anchor="end" fill="#000">MEyellow</text>
<text x="243.1" y="998.1" font-size="17.6" text-anchor="start" fill="#000">0.11</text>
<text x="239.2" y="1014.9" font-size="17.6" text-anchor="start" fill="#000">(0.01)</text>
<text x="442.8" y="998.1" font-size="17.6" text-anchor="start" fill="#000">−0.11</text>
<text x="442.3" y="1014.9" font-size="17.6" text-anchor="start" fill="#000">(0.01)</text>
<rect x="105.6" y="1046.0" width="41.7" height="88.6" fill="#00FF00"/>
<rect x="153.4" y="1046.0" width="201.4" height="88.6" fill="#FFE7E0"/>
<rect x="354.8" y="1046.0" width="204.9" height="88.6" fill="#E2F1FF"/>
<text x="98.0" y="1096.8" font-size="17.6" text-anchor="end" fill="#000">MEgreen</text>
<text x="243.1" y="1086.3" font-size="17.6" text-anchor="start" fill="#000">0.12</text>
<text x="235.9" y="1103.1" font-size="17.6" text-anchor="start" fill="#000">(0.008)</text>
<text x="442.8" y="1086.3" font-size="17.6" text-anchor="start" fill="#000">−0.12</text>
<text x="439.0" y="1103.1" font-size="17.6" text-anchor="start" fill="#000">(0.008)</text>
<rect x="105.6" y="1134.3" width="41.7" height="88.6" fill="#40E0D0"/>
<rect x="153.4" y="1134.3" width="201.4" height="88.6" fill="#FFECE8"/>
<rect x="354.8" y="1134.3" width="204.9" height="88.6" fill="#E9F5FF"/>
<text x="98.0" y="1185.1" font-size="17.6" text-anchor="end" fill="#000">MEturquoise</text>
<text x="239.8" y="1174.6" font-size="17.6" text-anchor="start" fill="#000">0.091</text>
<text x="239.2" y="1191.4" font-size="17.6" text-anchor="start" fill="#000">(0.05)</text>
<text x="439.5" y="1174.6" font-size="17.6" text-anchor="start" fill="#000">−0.091</text>
<text x="442.3" y="1191.4" font-size="17.6" text-anchor="start" fill="#000">(0.05)</text>
<rect x="105.6" y="1222.6" width="41.7" height="88.6" fill="#BEBEBE"/>
<rect x="153.4" y="1222.6" width="201.4" height="88.6" fill="#FFF6F3"/>
<rect x="354.8" y="1222.6" width="204.9" height="88.6" fill="#F4FAFF"/>
<text x="98.0" y="1273.5" font-size="17.6" text-anchor="end" fill="#000">MEgrey</text>
<text x="239.8" y="1263.0" font-size="17.6" text-anchor="start" fill="#000">0.046</text>
<text x="242.4" y="1279.8" font-size="17.6" text-anchor="start" fill="#000">(0.3)</text>
<text x="439.5" y="1263.0" font-size="17.6" text-anchor="start" fill="#000">−0.046</text>
<text x="445.6" y="1279.8" font-size="17.6" text-anchor="start" fill="#000">(0.3)</text>
<path d="M153.4 692.1H559.7M153.4 1308.7H559.7" fill="none" stroke="#000" stroke-width="1.8"/>
<path d="M153.4 691.2V1309.6" fill="none" stroke="#000" stroke-width="1.7"/>
<path d="M559.7 691.2V1309.6" fill="none" stroke="#000" stroke-width="2.6"/>
<rect x="573" y="728.50" width="17.5" height="11.27" fill="#FF3300"/>
<rect x="573" y="739.37" width="17.5" height="11.27" fill="#FF3B0A"/>
<rect x="573" y="750.25" width="17.5" height="11.27" fill="#FF4415"/>
<rect x="573" y="761.12" width="17.5" height="11.27" fill="#FF4C1F"/>
<rect x="573" y="772.00" width="17.5" height="11.27" fill="#FF542A"/>
<rect x="573" y="782.87" width="17.5" height="11.27" fill="#FF5D34"/>
<rect x="573" y="793.74" width="17.5" height="11.27" fill="#FF653E"/>
<rect x="573" y="804.62" width="17.5" height="11.27" fill="#FF6D49"/>
<rect x="573" y="815.49" width="17.5" height="11.27" fill="#FF7653"/>
<rect x="573" y="826.37" width="17.5" height="11.27" fill="#FF7E5E"/>
<rect x="573" y="837.24" width="17.5" height="11.27" fill="#FF8668"/>
<rect x="573" y="848.11" width="17.5" height="11.27" fill="#FF8F72"/>
<rect x="573" y="858.99" width="17.5" height="11.27" fill="#FF977D"/>
<rect x="573" y="869.86" width="17.5" height="11.27" fill="#FF9F87"/>
<rect x="573" y="880.74" width="17.5" height="11.27" fill="#FFA892"/>
<rect x="573" y="891.61" width="17.5" height="11.27" fill="#FFB09C"/>
<rect x="573" y="902.48" width="17.5" height="11.27" fill="#FFB8A7"/>
<rect x="573" y="913.36" width="17.5" height="11.27" fill="#FFC1B1"/>
<rect x="573" y="924.23" width="17.5" height="11.27" fill="#FFC9BB"/>
<rect x="573" y="935.11" width="17.5" height="11.27" fill="#FFD1C6"/>
<rect x="573" y="945.98" width="17.5" height="11.27" fill="#FFDAD0"/>
<rect x="573" y="956.85" width="17.5" height="11.27" fill="#FFE2DB"/>
<rect x="573" y="967.73" width="17.5" height="11.27" fill="#FFEAE5"/>
<rect x="573" y="978.60" width="17.5" height="11.27" fill="#FFF3EF"/>
<rect x="573" y="989.48" width="17.5" height="11.27" fill="#FFFBFA"/>
<rect x="573" y="1000.35" width="17.5" height="11.27" fill="#FAFDFF"/>
<rect x="573" y="1011.22" width="17.5" height="11.27" fill="#F0F8FF"/>
<rect x="573" y="1022.10" width="17.5" height="11.27" fill="#E6F3FF"/>
<rect x="573" y="1032.97" width="17.5" height="11.27" fill="#DCEFFF"/>
<rect x="573" y="1043.85" width="17.5" height="11.27" fill="#D3EAFF"/>
<rect x="573" y="1054.72" width="17.5" height="11.27" fill="#C9E5FF"/>
<rect x="573" y="1065.59" width="17.5" height="11.27" fill="#BFE1FF"/>
<rect x="573" y="1076.47" width="17.5" height="11.27" fill="#B5DCFF"/>
<rect x="573" y="1087.34" width="17.5" height="11.27" fill="#ABD7FF"/>
<rect x="573" y="1098.22" width="17.5" height="11.27" fill="#A1D3FF"/>
<rect x="573" y="1109.09" width="17.5" height="11.27" fill="#97CEFF"/>
<rect x="573" y="1119.96" width="17.5" height="11.27" fill="#8DC9FF"/>
<rect x="573" y="1130.84" width="17.5" height="11.27" fill="#83C4FF"/>
<rect x="573" y="1141.71" width="17.5" height="11.27" fill="#7AC0FF"/>
<rect x="573" y="1152.59" width="17.5" height="11.27" fill="#70BBFF"/>
<rect x="573" y="1163.46" width="17.5" height="11.27" fill="#66B6FF"/>
<rect x="573" y="1174.33" width="17.5" height="11.27" fill="#5CB2FF"/>
<rect x="573" y="1185.21" width="17.5" height="11.27" fill="#52ADFF"/>
<rect x="573" y="1196.08" width="17.5" height="11.27" fill="#48A8FF"/>
<rect x="573" y="1206.96" width="17.5" height="11.27" fill="#3EA4FF"/>
<rect x="573" y="1217.83" width="17.5" height="11.27" fill="#349FFF"/>
<rect x="573" y="1228.70" width="17.5" height="11.27" fill="#2A9AFF"/>
<rect x="573" y="1239.58" width="17.5" height="11.27" fill="#2196FF"/>
<rect x="573" y="1250.45" width="17.5" height="11.27" fill="#1791FF"/>
<rect x="573" y="1261.33" width="17.5" height="11.27" fill="#0D8CFF"/>
<path d="M572.9 1272.2V728.5H604.5M590.6 728.5V1272.2" fill="none" stroke="#000" stroke-width="3.2"/>
<path d="M571.3 1272.2H604.5" fill="none" stroke="#000" stroke-width="3.0"/>
<path d="M590.6 728.5H604.5" stroke="#000" stroke-width="3.0"/>
<text x="612.6" y="736.5" font-size="17.2" text-anchor="start" fill="#000">1</text>
<path d="M590.6 864.4H604.5" stroke="#000" stroke-width="3.0"/>
<text x="612.6" y="872.4" font-size="17.2" text-anchor="start" fill="#000">0.5</text>
<path d="M590.6 1000.4H604.5" stroke="#000" stroke-width="3.0"/>
<text x="612.6" y="1008.4" font-size="17.2" text-anchor="start" fill="#000">0</text>
<path d="M590.6 1136.3H604.5" stroke="#000" stroke-width="3.0"/>
<text x="612.6" y="1144.3" font-size="17.2" text-anchor="start" fill="#000">−0.5</text>
<path d="M590.6 1272.2H604.5" stroke="#000" stroke-width="3.0"/>
<text x="612.6" y="1280.2" font-size="17.2" text-anchor="start" fill="#000">−1</text>
<text x="272.0" y="1325.0" font-size="16.9" text-anchor="end" transform="rotate(-45 272.0 1325.0)" fill="#000">Immunity_L</text>
<text x="483.2" y="1323.2" font-size="16.9" text-anchor="end" transform="rotate(-45 483.2 1323.2)" fill="#000">Immunity_H</text>
<text x="691.7" y="652.1" font-size="42" text-anchor="start" font-weight="bold" fill="#000">D</text>
<rect x="1052.7" y="688.8" width="306.4" height="216.5" fill="#fff"/>
<path d="M1064.8 688.8V905.3" stroke="#E9E9E9" stroke-width="1.8"/>
<path d="M1149.5 688.8V905.3" stroke="#E9E9E9" stroke-width="1.8"/>
<path d="M1233.9 688.8V905.3" stroke="#E9E9E9" stroke-width="1.8"/>
<path d="M1318.0 688.8V905.3" stroke="#E9E9E9" stroke-width="1.8"/>
<path d="M1107.2 688.8V905.3" stroke="#E9E9E9" stroke-width="2.6"/>
<path d="M1191.8 688.8V905.3" stroke="#E9E9E9" stroke-width="2.6"/>
<path d="M1276.2 688.8V905.3" stroke="#E9E9E9" stroke-width="2.6"/>
<path d="M1052.7 713.3H1359.1" stroke="#E9E9E9" stroke-width="2.6"/>
<path d="M1052.7 755.3H1359.1" stroke="#E9E9E9" stroke-width="2.6"/>
<path d="M1052.7 797.1H1359.1" stroke="#E9E9E9" stroke-width="2.6"/>
<path d="M1052.7 838.9H1359.1" stroke="#E9E9E9" stroke-width="2.6"/>
<path d="M1052.7 880.8H1359.1" stroke="#E9E9E9" stroke-width="2.6"/>
<rect x="1052.7" y="913.8" width="306.4" height="216.9" fill="#fff"/>
<path d="M1064.8 913.8V1130.7" stroke="#E9E9E9" stroke-width="1.8"/>
<path d="M1149.5 913.8V1130.7" stroke="#E9E9E9" stroke-width="1.8"/>
<path d="M1233.9 913.8V1130.7" stroke="#E9E9E9" stroke-width="1.8"/>
<path d="M1318.0 913.8V1130.7" stroke="#E9E9E9" stroke-width="1.8"/>
<path d="M1107.2 913.8V1130.7" stroke="#E9E9E9" stroke-width="2.6"/>
<path d="M1191.8 913.8V1130.7" stroke="#E9E9E9" stroke-width="2.6"/>
<path d="M1276.2 913.8V1130.7" stroke="#E9E9E9" stroke-width="2.6"/>
<path d="M1052.7 938.3H1359.1" stroke="#E9E9E9" stroke-width="2.6"/>
<path d="M1052.7 980.3H1359.1" stroke="#E9E9E9" stroke-width="2.6"/>
<path d="M1052.7 1022.4H1359.1" stroke="#E9E9E9" stroke-width="2.6"/>
<path d="M1052.7 1064.2H1359.1" stroke="#E9E9E9" stroke-width="2.6"/>
<path d="M1052.7 1106.2H1359.1" stroke="#E9E9E9" stroke-width="2.6"/>
<rect x="1052.7" y="1139.5" width="306.4" height="216.3" fill="#fff"/>
<path d="M1064.8 1139.5V1355.8" stroke="#E9E9E9" stroke-width="1.8"/>
<path d="M1149.5 1139.5V1355.8" stroke="#E9E9E9" stroke-width="1.8"/>
<path d="M1233.9 1139.5V1355.8" stroke="#E9E9E9" stroke-width="1.8"/>
<path d="M1318.0 1139.5V1355.8" stroke="#E9E9E9" stroke-width="1.8"/>
<path d="M1107.2 1139.5V1355.8" stroke="#E9E9E9" stroke-width="2.6"/>
<path d="M1191.8 1139.5V1355.8" stroke="#E9E9E9" stroke-width="2.6"/>
<path d="M1276.2 1139.5V1355.8" stroke="#E9E9E9" stroke-width="2.6"/>
<path d="M1052.7 1163.4H1359.1" stroke="#E9E9E9" stroke-width="2.6"/>
<path d="M1052.7 1205.4H1359.1" stroke="#E9E9E9" stroke-width="2.6"/>
<path d="M1052.7 1247.5H1359.1" stroke="#E9E9E9" stroke-width="2.6"/>
<path d="M1052.7 1289.5H1359.1" stroke="#E9E9E9" stroke-width="2.6"/>
<path d="M1052.7 1331.3H1359.1" stroke="#E9E9E9" stroke-width="2.6"/>
<clipPath id="cpBP"><rect x="1052.7" y="688.8" width="306.4" height="216.5"/></clipPath>
<g clip-path="url(#cpBP)">
<circle cx="1347.9" cy="713.3" r="12.0" fill="#FF0000"/>
<circle cx="1310.7" cy="755.3" r="12.0" fill="#FF0000"/>
<circle cx="1284.1" cy="797.1" r="11.8" fill="#FF0000"/>
<circle cx="1257.2" cy="838.9" r="11.2" fill="#FF0000"/>
<circle cx="1235.7" cy="880.8" r="11.0" fill="#FF0000"/>
</g>
<rect x="1359.1" y="688.8" width="22.7" height="216.5" fill="#D9D9D9" stroke="#333" stroke-width="1.5"/>
<rect x="1052.7" y="688.8" width="306.4" height="216.5" fill="none" stroke="#333" stroke-width="1.5"/>
<path d="M1358.5 688.8V905.3" stroke="#333" stroke-width="2.6"/>
<text x="1364.0" y="801.6" font-size="17.0" text-anchor="middle" transform="rotate(90 1364.0 801.6)" fill="#000">BP</text>
<clipPath id="cpCC"><rect x="1052.7" y="913.8" width="306.4" height="216.9"/></clipPath>
<g clip-path="url(#cpCC)">
<circle cx="1243.6" cy="938.3" r="11.2" fill="#FF0000"/>
<circle cx="1175.8" cy="980.3" r="10.0" fill="#FF0000"/>
<circle cx="1144.4" cy="1022.4" r="9.4" fill="#FF0000"/>
<circle cx="1086.9" cy="1064.2" r="7.9" fill="#FF0000"/>
<circle cx="1086.9" cy="1106.2" r="7.9" fill="#FF0000"/>
</g>
<rect x="1359.1" y="913.8" width="22.7" height="216.9" fill="#D9D9D9" stroke="#333" stroke-width="1.5"/>
<rect x="1052.7" y="913.8" width="306.4" height="216.9" fill="none" stroke="#333" stroke-width="1.5"/>
<path d="M1358.5 913.8V1130.7" stroke="#333" stroke-width="2.6"/>
<text x="1364.0" y="1026.8" font-size="17.0" text-anchor="middle" transform="rotate(90 1364.0 1026.8)" fill="#000">CC</text>
<clipPath id="cpMF"><rect x="1052.7" y="1139.5" width="306.4" height="216.3"/></clipPath>
<g clip-path="url(#cpMF)">
<circle cx="1122.6" cy="1163.4" r="8.8" fill="#FF0000"/>
<circle cx="1106.2" cy="1205.4" r="8.5" fill="#FF0000"/>
<circle cx="1067.2" cy="1247.5" r="5.8" fill="#E8114F"/>
<circle cx="1067.2" cy="1289.5" r="5.8" fill="#A810A8"/>
<circle cx="1067.2" cy="1331.3" r="5.8" fill="#0000FF"/>
</g>
<rect x="1359.1" y="1139.5" width="22.7" height="216.3" fill="#D9D9D9" stroke="#333" stroke-width="1.5"/>
<rect x="1052.7" y="1139.5" width="306.4" height="216.3" fill="none" stroke="#333" stroke-width="1.5"/>
<path d="M1358.5 1139.5V1355.8" stroke="#333" stroke-width="2.6"/>
<text x="1364.0" y="1252.2" font-size="17.0" text-anchor="middle" transform="rotate(90 1364.0 1252.2)" fill="#000">MF</text>
<path d="M1052.7 713.3H1048.1000000000001" stroke="#333" stroke-width="2.0"/>
<text x="1040.8" y="719.5" font-size="17.6" text-anchor="end" fill="#000">T cell activation</text>
<path d="M1052.7 755.3H1048.1000000000001" stroke="#333" stroke-width="2.0"/>
<text x="1040.8" y="761.5" font-size="17.6" text-anchor="end" fill="#000">regulation of lymphocyte activation</text>
<path d="M1052.7 797.1H1048.1000000000001" stroke="#333" stroke-width="2.0"/>
<text x="1040.8" y="803.3" font-size="17.6" text-anchor="end" fill="#000">leukocyte cell−cell adhesion</text>
<path d="M1052.7 838.9H1048.1000000000001" stroke="#333" stroke-width="2.0"/>
<text x="1040.8" y="845.1" font-size="17.6" text-anchor="end" fill="#000">leukocyte proliferation</text>
<path d="M1052.7 880.8H1048.1000000000001" stroke="#333" stroke-width="2.0"/>
<text x="1040.8" y="887.0" font-size="17.6" text-anchor="end" fill="#000">response to interferon−gamma</text>
<path d="M1052.7 938.3H1048.1000000000001" stroke="#333" stroke-width="2.0"/>
<text x="1040.8" y="944.5" font-size="17.6" text-anchor="end" fill="#000">external side of plasma membrane</text>
<path d="M1052.7 980.3H1048.1000000000001" stroke="#333" stroke-width="2.0"/>
<text x="1040.8" y="986.5" font-size="17.6" text-anchor="end" fill="#000">receptor complex</text>
<path d="M1052.7 1022.4H1048.1000000000001" stroke="#333" stroke-width="2.0"/>
<text x="1040.8" y="1028.6" font-size="17.6" text-anchor="end" fill="#000">plasma membrane receptor complex</text>
<path d="M1052.7 1064.2H1048.1000000000001" stroke="#333" stroke-width="2.0"/>
<text x="1040.8" y="1070.4" font-size="17.6" text-anchor="end" fill="#000">T cell receptor complex</text>
<path d="M1052.7 1106.2H1048.1000000000001" stroke="#333" stroke-width="2.0"/>
<text x="1040.8" y="1112.4" font-size="17.6" text-anchor="end" fill="#000">immunological synapse</text>
<path d="M1052.7 1163.4H1048.1000000000001" stroke="#333" stroke-width="2.0"/>
<text x="1040.8" y="1169.6" font-size="17.6" text-anchor="end" fill="#000">cytokine binding</text>
<path d="M1052.7 1205.4H1048.1000000000001" stroke="#333" stroke-width="2.0"/>
<text x="1040.8" y="1211.6" font-size="17.6" text-anchor="end" fill="#000">cytokine receptor activity</text>
<path d="M1052.7 1247.5H1048.1000000000001" stroke="#333" stroke-width="2.0"/>
<text x="1040.8" y="1253.7" font-size="17.6" text-anchor="end" fill="#000">phosphotyrosine residue binding</text>
<path d="M1052.7 1289.5H1048.1000000000001" stroke="#333" stroke-width="2.0"/>
<text x="1040.8" y="1295.7" font-size="17.6" text-anchor="end" fill="#000">non−membrane spanning protein tyrosine kinase activity</text>
<path d="M1052.7 1331.3H1048.1000000000001" stroke="#333" stroke-width="2.0"/>
<text x="1040.8" y="1337.5" font-size="17.6" text-anchor="end" fill="#000">protein phosphorylated amino acid binding</text>
<path d="M1107.2 1355.8V1360.4" stroke="#333" stroke-width="2.0"/>
<text x="1108.7" y="1375.0" font-size="17.6" text-anchor="middle" fill="#000">0.05</text>
<path d="M1191.8 1355.8V1360.4" stroke="#333" stroke-width="2.0"/>
<text x="1193.3" y="1375.0" font-size="17.6" text-anchor="middle" fill="#000">0.10</text>
<path d="M1276.2 1355.8V1360.4" stroke="#333" stroke-width="2.0"/>
<text x="1277.7" y="1375.0" font-size="17.6" text-anchor="middle" fill="#000">0.15</text>
<text x="1211.0" y="1392.3" font-size="17.6" text-anchor="middle" fill="#000">GeneRatio</text>
<text x="1397.5" y="868.8" font-size="17.6" text-anchor="start" fill="#000">Count</text>
<circle cx="1414.5" cy="888.4" r="7.2" fill="#000"/>
<text x="1433.5" y="894.6" font-size="17.6" text-anchor="start" fill="#000">10</text>
<circle cx="1414.5" cy="910.8" r="9.0" fill="#000"/>
<text x="1433.5" y="917.0" font-size="17.6" text-anchor="start" fill="#000">20</text>
<circle cx="1414.5" cy="933.2" r="10.2" fill="#000"/>
<text x="1433.5" y="939.4" font-size="17.6" text-anchor="start" fill="#000">30</text>
<circle cx="1414.5" cy="956.8" r="11.5" fill="#000"/>
<text x="1433.5" y="963.0" font-size="17.6" text-anchor="start" fill="#000">40</text>
<circle cx="1414.5" cy="983" r="12.3" fill="#000"/>
<text x="1433.5" y="989.2" font-size="17.6" text-anchor="start" fill="#000">50</text>
<circle cx="1414.5" cy="1011.8" r="13.2" fill="#000"/>
<text x="1433.5" y="1018.0" font-size="17.6" text-anchor="start" fill="#000">60</text>
<text x="1397.5" y="1067.0" font-size="17.6" text-anchor="start" fill="#000">pvalue</text>
<linearGradient id="gp" x1="0" y1="0" x2="0" y2="1"><stop offset="0" stop-color="#FF0000"/><stop offset="0.25" stop-color="#EA0848"/><stop offset="0.5" stop-color="#CA0A88"/><stop offset="0.75" stop-color="#9A10C6"/><stop offset="0.9" stop-color="#5E0AE8"/><stop offset="1" stop-color="#0000FF"/></linearGradient>
<rect x="1397.5" y="1076.3" width="22.1" height="111.6" fill="url(#gp)"/>
<path d="M1397.5 1102.9H1402M1415.2 1102.9H1419.6" stroke="#fff" stroke-width="1"/>
<text x="1426.5" y="1109.2" font-size="17.6" text-anchor="start" fill="#000">5.0e−07</text>
<path d="M1397.5 1129.5H1402M1415.2 1129.5H1419.6" stroke="#fff" stroke-width="1"/>
<text x="1426.5" y="1135.8" font-size="17.6" text-anchor="start" fill="#000">1.0e−06</text>
<path d="M1397.5 1156.1H1402M1415.2 1156.1H1419.6" stroke="#fff" stroke-width="1"/>
<text x="1426.5" y="1162.4" font-size="17.6" text-anchor="start" fill="#000">1.5e−06</text>
<path d="M1397.5 1183.4H1402M1415.2 1183.4H1419.6" stroke="#fff" stroke-width="1"/>
<text x="1426.5" y="1189.7" font-size="17.6" text-anchor="start" fill="#000">2.0e−06</text>
<text x="164.5" y="1450.1" font-size="42" text-anchor="start" font-weight="bold" fill="#000">E</text>
<rect x="724.1" y="1444.1" width="300.5" height="410.9" fill="#fff"/>
<path d="M779.8 1444.1V1855.0" stroke="#E9E9E9" stroke-width="1.8"/>
<path d="M865.7 1444.1V1855.0" stroke="#E9E9E9" stroke-width="1.8"/>
<path d="M951.5 1444.1V1855.0" stroke="#E9E9E9" stroke-width="1.8"/>
<path d="M736.9 1444.1V1855.0" stroke="#E9E9E9" stroke-width="2.6"/>
<path d="M822.8 1444.1V1855.0" stroke="#E9E9E9" stroke-width="2.6"/>
<path d="M908.6 1444.1V1855.0" stroke="#E9E9E9" stroke-width="2.6"/>
<path d="M994.5 1444.1V1855.0" stroke="#E9E9E9" stroke-width="2.6"/>
<path d="M724.1 1467.3H1024.6" stroke="#E9E9E9" stroke-width="2.6"/>
<path d="M724.1 1507.8H1024.6" stroke="#E9E9E9" stroke-width="2.6"/>
<path d="M724.1 1548.2H1024.6" stroke="#E9E9E9" stroke-width="2.6"/>
<path d="M724.1 1588.7H1024.6" stroke="#E9E9E9" stroke-width="2.6"/>
<path d="M724.1 1629.1H1024.6" stroke="#E9E9E9" stroke-width="2.6"/>
<path d="M724.1 1669.6H1024.6" stroke="#E9E9E9" stroke-width="2.6"/>
<path d="M724.1 1710.1H1024.6" stroke="#E9E9E9" stroke-width="2.6"/>
<path d="M724.1 1750.5H1024.6" stroke="#E9E9E9" stroke-width="2.6"/>
<path d="M724.1 1791.0H1024.6" stroke="#E9E9E9" stroke-width="2.6"/>
<path d="M724.1 1831.4H1024.6" stroke="#E9E9E9" stroke-width="2.6"/>
<rect x="736.9" y="1449.1" width="197.5" height="36.3" fill="#FF0000"/>
<path d="M724.1 1467.3H719.5" stroke="#333" stroke-width="2.0"/>
<text x="705.0" y="1473.5" font-size="17.6" text-anchor="end" fill="#000">Hematopoietic cell lineage</text>
<rect x="736.9" y="1489.6" width="128.8" height="36.3" fill="#FE0004"/>
<path d="M724.1 1507.8H719.5" stroke="#333" stroke-width="2.0"/>
<text x="705.0" y="1514.0" font-size="17.6" text-anchor="end" fill="#000">Primary immunodeficiency</text>
<rect x="736.9" y="1530.1" width="274.7" height="36.3" fill="#FF0000"/>
<path d="M724.1 1548.2H719.5" stroke="#333" stroke-width="2.0"/>
<text x="705.0" y="1554.4" font-size="17.6" text-anchor="end" fill="#000">Cytokine−cytokine receptor interaction</text>
<rect x="736.9" y="1570.5" width="214.6" height="36.3" fill="#FC0019"/>
<path d="M724.1 1588.7H719.5" stroke="#333" stroke-width="2.0"/>
<text x="705.0" y="1594.9" font-size="17.6" text-anchor="end" fill="#000">Epstein−Barr virus infection</text>
<rect x="736.9" y="1611.0" width="145.9" height="36.3" fill="#F8022C"/>
<path d="M724.1 1629.1H719.5" stroke="#333" stroke-width="2.0"/>
<text x="705.0" y="1635.3" font-size="17.6" text-anchor="end" fill="#000">Rheumatoid arthritis</text>
<rect x="736.9" y="1651.4" width="180.3" height="36.3" fill="#F7022E"/>
<path d="M724.1 1669.6H719.5" stroke="#333" stroke-width="2.0"/>
<text x="705.0" y="1675.8" font-size="17.6" text-anchor="end" fill="#000">Cell adhesion molecules</text>
<rect x="736.9" y="1691.9" width="145.9" height="36.3" fill="#E80449"/>
<path d="M724.1 1710.1H719.5" stroke="#333" stroke-width="2.0"/>
<text x="705.0" y="1716.3" font-size="17.6" text-anchor="end" fill="#000">Viral protein interaction with cytokine and cytokine receptor</text>
<rect x="736.9" y="1732.4" width="163.1" height="36.3" fill="#E8044A"/>
<path d="M724.1 1750.5H719.5" stroke="#333" stroke-width="2.0"/>
<text x="705.0" y="1756.7" font-size="17.6" text-anchor="end" fill="#000">Osteoclast differentiation</text>
<rect x="736.9" y="1772.8" width="128.8" height="36.3" fill="#A800A8"/>
<path d="M724.1 1791.0H719.5" stroke="#333" stroke-width="2.0"/>
<text x="705.0" y="1797.2" font-size="17.6" text-anchor="end" fill="#000">B cell receptor signaling pathway</text>
<rect x="736.9" y="1813.3" width="188.9" height="36.3" fill="#0000FF"/>
<path d="M724.1 1831.4H719.5" stroke="#333" stroke-width="2.0"/>
<text x="705.0" y="1837.6" font-size="17.6" text-anchor="end" fill="#000">Chemokine signaling pathway</text>
<rect x="724.1" y="1444.1" width="300.5" height="410.9" fill="none" stroke="#333" stroke-width="1.5"/>
<path d="M736.9 1855.0V1859.6" stroke="#333" stroke-width="2.0"/>
<text x="736.9" y="1877.5" font-size="17.6" text-anchor="middle" fill="#000">0</text>
<path d="M822.8 1855.0V1859.6" stroke="#333" stroke-width="2.0"/>
<text x="822.8" y="1877.5" font-size="17.6" text-anchor="middle" fill="#000">10</text>
<path d="M908.6 1855.0V1859.6" stroke="#333" stroke-width="2.0"/>
<text x="908.6" y="1877.5" font-size="17.6" text-anchor="middle" fill="#000">20</text>
<path d="M994.5 1855.0V1859.6" stroke="#333" stroke-width="2.0"/>
<text x="994.5" y="1877.5" font-size="17.6" text-anchor="middle" fill="#000">30</text>
<text x="1053.1" y="1578.0" font-size="17.6" text-anchor="start" fill="#000">qvalue</text>
<linearGradient id="gq" x1="0" y1="0" x2="0" y2="1"><stop offset="0" stop-color="#FF0000"/><stop offset="0.25" stop-color="#EA0848"/><stop offset="0.5" stop-color="#CA0A88"/><stop offset="0.75" stop-color="#9A10C6"/><stop offset="0.9" stop-color="#5E0AE8"/><stop offset="1" stop-color="#0000FF"/></linearGradient>
<rect x="1053.1" y="1589.3" width="29.5" height="146.3" fill="url(#gq)"/>
<path d="M1053.1 1618.5H1059M1076.7 1618.5H1082.6" stroke="#fff" stroke-width="1"/>
<text x="1092.4" y="1624.8" font-size="17.6" text-anchor="start" fill="#000">1e−08</text>
<path d="M1053.1 1647H1059M1076.7 1647H1082.6" stroke="#fff" stroke-width="1"/>
<text x="1092.4" y="1653.3" font-size="17.6" text-anchor="start" fill="#000">2e−08</text>
<path d="M1053.1 1675.5H1059M1076.7 1675.5H1082.6" stroke="#fff" stroke-width="1"/>
<text x="1092.4" y="1681.8" font-size="17.6" text-anchor="start" fill="#000">3e−08</text>
<path d="M1053.1 1704H1059M1076.7 1704H1082.6" stroke="#fff" stroke-width="1"/>
<text x="1092.4" y="1710.3" font-size="17.6" text-anchor="start" fill="#000">4e−08</text>
<path d="M1053.1 1732.5H1059M1076.7 1732.5H1082.6" stroke="#fff" stroke-width="1"/>
<text x="1092.4" y="1738.8" font-size="17.6" text-anchor="start" fill="#000">5e−08</text>
</svg>
</body></html>
